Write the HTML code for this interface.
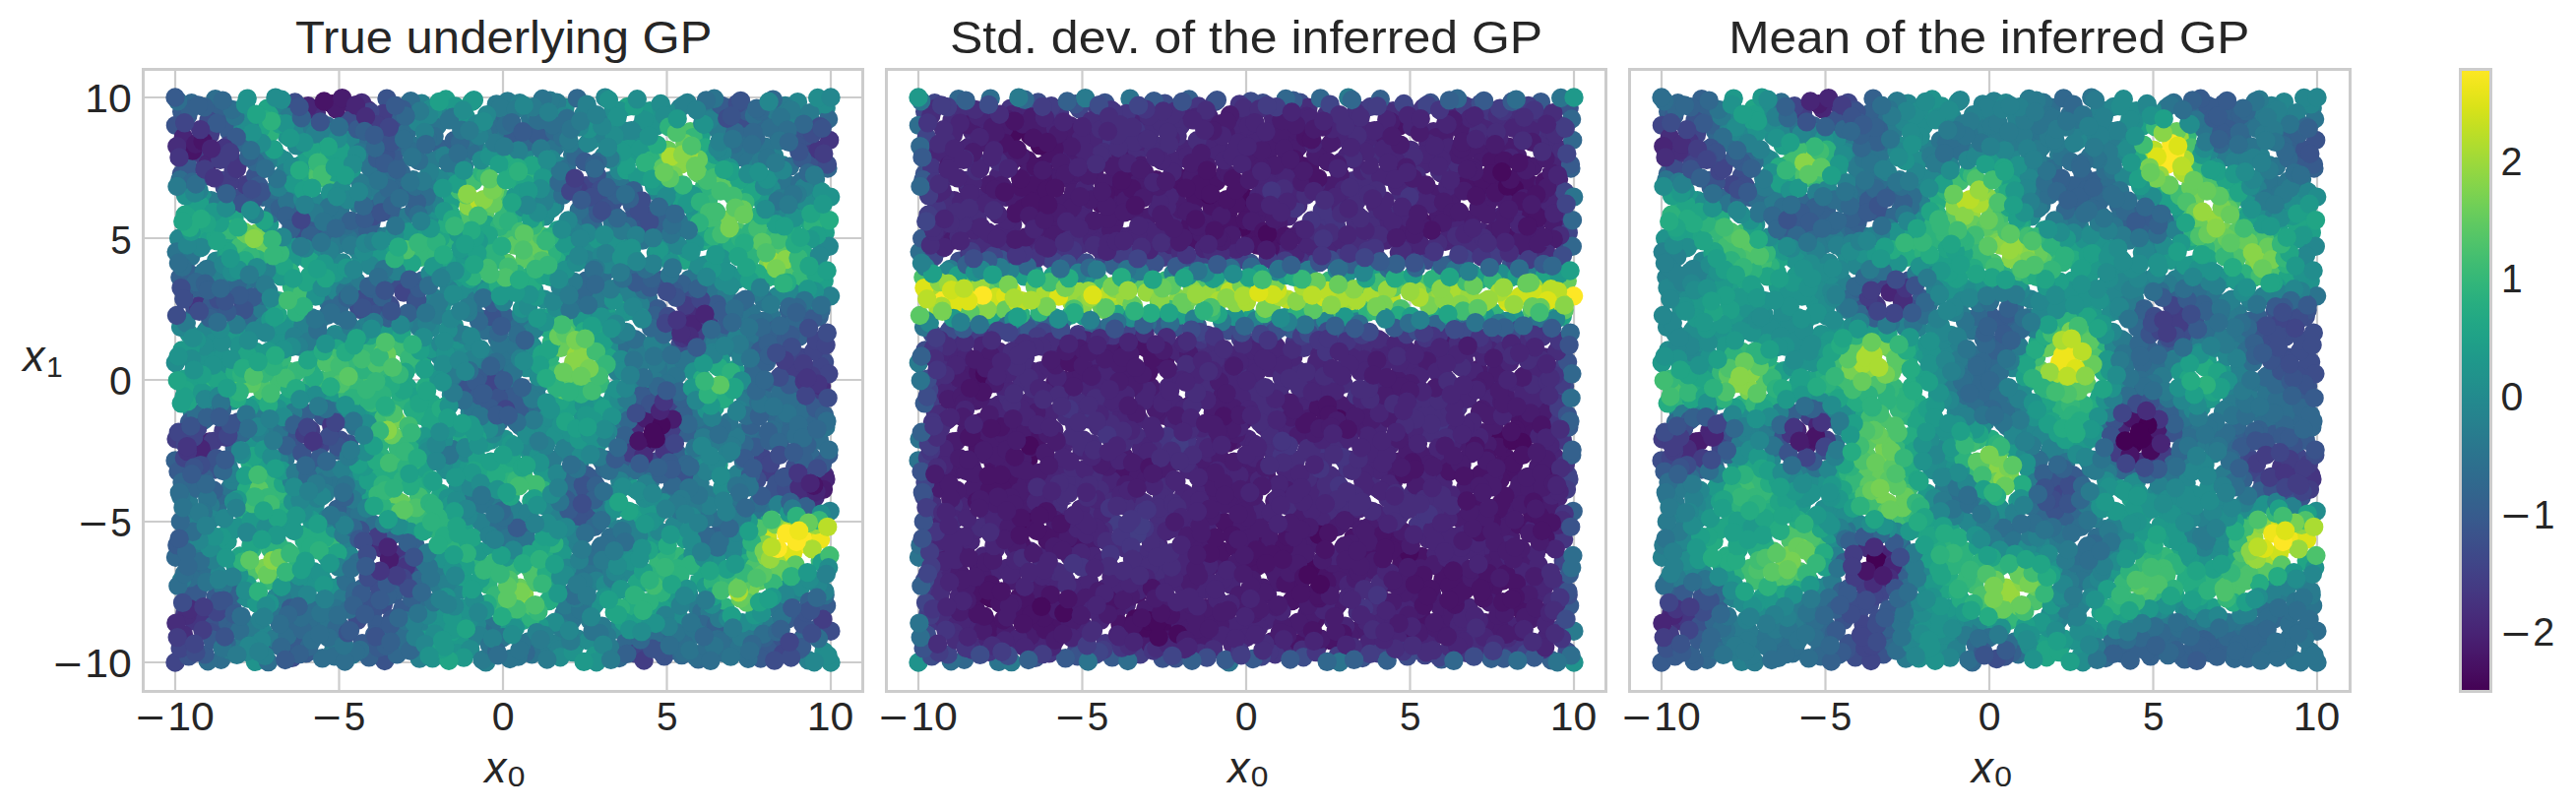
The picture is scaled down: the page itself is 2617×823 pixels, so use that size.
<!DOCTYPE html>
<html><head><meta charset="utf-8"><title>GP inference</title>
<style>html,body{margin:0;padding:0;background:#fff}svg{display:block}text{font-family:"Liberation Sans",sans-serif;fill:#262626}.d{fill:none;stroke-width:19.4;stroke-linecap:round}.g{stroke:#ccc;stroke-width:2.2}.s{fill:none;stroke:#ccc;stroke-width:3}</style></head><body>
<svg width="2617" height="823" viewBox="0 0 2617 823">
<rect width="2617" height="823" fill="#fff"/>
<defs><linearGradient id="cb" x1="0" y1="0" x2="0" y2="1"><stop offset="0.0000" stop-color="#fde725"/><stop offset="0.0312" stop-color="#ece51b"/><stop offset="0.0625" stop-color="#d8e219"/><stop offset="0.0938" stop-color="#c2df23"/><stop offset="0.1250" stop-color="#addc30"/><stop offset="0.1562" stop-color="#98d83e"/><stop offset="0.1875" stop-color="#84d44b"/><stop offset="0.2188" stop-color="#70cf57"/><stop offset="0.2500" stop-color="#5ec962"/><stop offset="0.2812" stop-color="#4ec36b"/><stop offset="0.3125" stop-color="#3fbc73"/><stop offset="0.3438" stop-color="#32b67a"/><stop offset="0.3750" stop-color="#28ae80"/><stop offset="0.4062" stop-color="#22a785"/><stop offset="0.4375" stop-color="#1fa088"/><stop offset="0.4688" stop-color="#1f988b"/><stop offset="0.5000" stop-color="#21918c"/><stop offset="0.5312" stop-color="#23898e"/><stop offset="0.5625" stop-color="#26828e"/><stop offset="0.5938" stop-color="#297a8e"/><stop offset="0.6250" stop-color="#2c728e"/><stop offset="0.6562" stop-color="#2f6b8e"/><stop offset="0.6875" stop-color="#33638d"/><stop offset="0.7188" stop-color="#375b8d"/><stop offset="0.7500" stop-color="#3b528b"/><stop offset="0.7812" stop-color="#3e4989"/><stop offset="0.8125" stop-color="#424086"/><stop offset="0.8438" stop-color="#453781"/><stop offset="0.8750" stop-color="#472d7b"/><stop offset="0.9062" stop-color="#482374"/><stop offset="0.9375" stop-color="#48186a"/><stop offset="0.9688" stop-color="#470d60"/><stop offset="1.0000" stop-color="#440154"/></linearGradient></defs>
<g>
<path class="g" d="M178.0 70.5V702.5M344.5 70.5V702.5M511.0 70.5V702.5M677.5 70.5V702.5M844.0 70.5V702.5M145.5 673.0H876.5M145.5 530.0H876.5M145.5 386.0H876.5M145.5 242.0H876.5M145.5 99.0H876.5"/>
<g class="d">
<path stroke="#35b779" d="M609.9 390.3h0M563.3 376.3h0M689.3 565.4h0M796.5 585.2h0M662.7 160.4h0M668.8 572.4h0M374.3 353.1h0M336.7 551.3h0M414.9 260.6h0M300.9 312.2h0M512.6 213.3h0M421.4 525.6h0M494.7 590.5h0M432.4 523.7h0M739.1 380.6h0M269.6 404.2h0"/>
<path stroke="#cde11d" d="M792.3 564h0"/>
<path stroke="#21a585" d="M270.6 230.6h0M705.2 575.3h0M702.9 197.1h0M467.6 548.8h0M376.2 490.7h0M238.3 247.3h0M271.6 110.2h0M637.5 108.4h0M243.9 565h0M755.3 566.1h0M777.1 525.7h0M468.1 441.4h0M428.9 482.2h0M769.8 618.1h0M259.8 411.3h0M495.6 475.8h0M232 376.5h0M753.2 189.4h0M697.3 571.4h0M695.6 264.5h0M377.6 503h0M804.7 232.5h0M429 363.9h0M710.9 588.6h0M711.7 402.7h0"/>
<path stroke="#24878e" d="M657.3 385.8h0M626.4 639.4h0M466.6 599.3h0M568.5 168.7h0M439.3 177.3h0M614.8 99.1h0M756.5 385.3h0M656.1 359.1h0M196.7 254.1h0M791.2 216.5h0M549 388.9h0M788.2 613.9h0M336.9 261.2h0M444.6 445.6h0M625.9 140.4h0M637.3 484.7h0M482.6 526.4h0M456.7 581h0M688.3 380h0M359.5 485.9h0M810.4 103.7h0"/>
<path stroke="#2db27d" d="M771.7 225.6h0M748.8 185.3h0M510.4 576.7h0M316.7 388.8h0M429.1 417.7h0M265 374.4h0M399.9 345.3h0M326.3 163.1h0M779.2 282.4h0M291.7 559.9h0M495.8 594.3h0M722.8 165.8h0"/>
<path stroke="#dde318" d="M829.7 544h0"/>
<path stroke="#1fa088" d="M656.8 622.6h0M544.5 358.2h0M617.2 319.8h0M376.6 423.8h0M453 101h0M620.6 408.8h0M656.4 591.9h0M656.6 115h0M730.5 251.6h0M403.9 336.7h0M314.6 359.7h0M420.2 369h0"/>
<path stroke="#3a538b" d="M364.1 310.6h0M597.4 521.8h0M647.9 413.3h0M493.9 410.8h0M317.8 471.1h0M641.6 473.1h0M390.8 671.5h0M218.4 477h0M807.2 624.3h0M609.1 202.3h0M354.6 450.9h0M785.7 657.2h0M674.8 666.8h0M818.7 326.7h0M828.4 164.9h0M299.3 234.6h0"/>
<path stroke="#26818e" d="M629 291.4h0M691 109.5h0M493.6 672.9h0M454 358.7h0M667.9 195.7h0M786.4 158.3h0M371.9 198.7h0M613.5 158.6h0M560.4 634.9h0M564.4 524.8h0M554.7 465.6h0M685.5 242.9h0M781.9 215h0M735.8 288.2h0M626.6 298.2h0M493.3 533.4h0M808.5 209.7h0M483.2 646.6h0M287.3 114.4h0M352.4 558.3h0M821 670.7h0M795 167.6h0M257.1 643.1h0M198.4 523.2h0M442 303.1h0M562.6 526.9h0M244.3 332.2h0M559.5 658.4h0M418.9 547.1h0M428.4 105.2h0"/>
<path stroke="#228d8d" d="M326.5 530.2h0M318 259.2h0M470.4 352.9h0M720.5 449.1h0M703.9 563h0M320.2 513h0M553.1 304.2h0M616.9 305.7h0M534.9 373.6h0M740.7 277.9h0M689 626.4h0M574 109.2h0M713.3 466.1h0M178.3 368.7h0M452.7 477.5h0M722.5 506.9h0M787 179.5h0M251.7 608h0M622.5 114.3h0M617 526.6h0M667.5 551.1h0M437.7 110.4h0M550.6 437.1h0M233.4 538.6h0M463.3 287.7h0"/>
<path stroke="#297b8e" d="M708.5 617.3h0M299.5 602.9h0M727.2 448.7h0M610.1 307.9h0M210.6 334.6h0M575.8 288.8h0M192.1 511.4h0M232.2 474.5h0M759.6 410h0M338.5 661.7h0M536.9 651.9h0M724.1 115.3h0M565.7 104.1h0M608.1 123.4h0M410.9 220.6h0M445.5 189.2h0M744.1 517.8h0M757.2 403.3h0M280.7 436.4h0M368.8 524.6h0M671.5 363.7h0M650.1 370.7h0M408.5 278h0M607.9 579h0M587.4 152.6h0"/>
<path stroke="#433d84" d="M332.8 445.8h0M205.1 461h0M179.1 446.1h0M212.4 462.8h0M188.9 297.2h0M315.8 437h0M797.4 484.5h0M817.7 149.8h0"/>
<path stroke="#2e6e8e" d="M332.8 320.2h0M700.3 418.7h0M415.6 104.9h0M735.1 534.5h0M542.6 412h0M422.7 325.8h0M218.8 100.6h0M729.4 527.8h0M521 325.6h0M218.9 593.3h0M369.2 148.1h0M746.1 654.4h0M355.9 518.4h0M339.1 494.3h0M764.8 375.2h0M347.8 238.1h0M224.6 670.2h0M765.9 443.7h0M221.2 514h0M466.9 390.9h0M724.8 437.5h0M712.9 621.6h0M708.3 430.3h0M718.8 348.2h0M423 558.8h0"/>
<path stroke="#453581" d="M406.5 563.5h0M241.6 166.5h0M196.2 630.7h0"/>
<path stroke="#77d153" d="M261.3 236.7h0M580.6 374.2h0"/>
<path stroke="#3d4d8a" d="M243.4 200.6h0M296.8 668.4h0M247.1 310.7h0M380.6 304.6h0M837.6 367.8h0M690.7 350.9h0M215.7 129.8h0M197.9 313.6h0"/>
<path stroke="#fde725" d="M817.9 552.9h0"/>
<path stroke="#4cc26c" d="M538.4 577.8h0M597.7 392.4h0M806.9 574.4h0M797 275.5h0"/>
<path stroke="#40bd72" d="M725.8 180.5h0M293.1 377.1h0M480.9 184.2h0M314.2 179.9h0M577.7 332h0M260.2 492.5h0M405.3 460.7h0"/>
<path stroke="#5ac864" d="M412.7 443.8h0M388.9 358.4h0"/>
<path stroke="#20938c" d="M693.7 541.1h0M736.2 485.5h0M498.9 447.2h0M321.7 591.8h0M291 245.8h0M748.7 284.2h0M292.9 247.6h0M272.3 532.9h0M625.5 516.8h0M222.6 355.4h0M635.2 147.6h0M291.5 137.9h0M625.3 125.5h0M469.1 473.4h0M435 379.2h0M228.9 369.3h0M538.8 460.8h0M285.5 417.2h0M538.2 201.1h0M443.8 565.9h0M629.5 112.4h0M280.8 346.7h0M512.8 446.2h0M263.8 541.6h0M259.1 533.7h0M258.2 450.6h0M662.8 546.5h0"/>
<path stroke="#375b8d" d="M800.8 628.7h0M373.8 617.4h0M779.5 659.3h0M839.6 615.4h0M786.4 347h0M400.4 603.9h0M292.7 221.5h0M232.6 133.4h0M337.2 235.1h0M553.7 137.5h0M825.9 613.4h0M310.9 663.9h0"/>
<path stroke="#2b748e" d="M509.3 142.2h0M505.6 541.5h0M631.5 431.5h0M276.8 619.8h0M633.2 186.2h0M385.9 240.5h0M288.5 611h0M352.6 135.1h0M293.3 459.4h0M333.8 307.3h0M619.3 183.8h0M513 368.9h0M711.3 355.6h0M589.4 217.7h0M648.4 347.1h0M638.4 275.1h0M738.5 640.4h0M444 128h0M763.4 318.1h0M249.9 286h0M537.5 330.4h0M652.8 244.1h0M602.7 583.6h0M609.4 557.7h0M459.1 456.4h0M720.1 556.5h0M750.7 658.5h0M716.2 527.1h0M761 153.5h0M589.9 579.9h0M345.5 213.4h0M777.4 149.2h0M378.2 175.9h0M650.3 388.6h0M741.9 511.1h0M747.8 153.2h0M514.6 349.8h0M538.6 119.9h0"/>
<path stroke="#25ac82" d="M516.2 479.2h0M686.2 579.5h0M252.2 500h0M517.9 176.7h0M291.3 514.8h0M696.7 194.7h0M743.7 248.7h0M380.8 402.6h0M566.5 262.4h0M754.7 256.3h0M430.1 494.6h0M427.4 422.2h0M385.2 479h0M758.1 558.9h0"/>
<path stroke="#404588" d="M814.1 363h0M326.1 452.1h0M178 673h0M231.2 148h0M833.5 372.2h0M666.4 468.9h0"/>
<path stroke="#34618d" d="M405.1 120h0M564.8 147.9h0M421.8 553.8h0M201.2 599.6h0M374.9 667.8h0M533.7 542.6h0M235.8 617h0M281.5 655.3h0M511.8 320.6h0M527.1 343.2h0M448.8 151.4h0M308.7 652.6h0M736.7 109h0M314.8 477.8h0M770.5 339.8h0M429.3 284.9h0M303.4 427.2h0M832.2 321.7h0M382.9 211.3h0M719.4 301.8h0M502.1 310.3h0"/>
<path stroke="#67cc5c" d="M403.8 508.9h0"/>
<path stroke="#aadc32" d="M588.8 371.5h0"/>
<path stroke="#1f998a" d="M464.7 287.3h0M239.1 575h0M638.5 143.1h0M367.8 480.8h0M227.9 552.2h0M294.6 328.9h0M365.6 418.5h0M512.4 633.2h0M349.1 181h0M476.6 473.8h0M312.5 263.3h0M660.2 112.6h0M705.8 222.2h0M549.8 322.8h0M338.3 284.7h0M305.4 167.9h0M267.3 142.7h0M313.8 158.1h0M273.7 227.9h0M619.1 417.4h0M682.9 612.5h0"/>
<path stroke="#472d7b" d="M827.9 505.5h0M712.3 327.6h0M837.8 482.8h0M212.9 621.2h0M644.9 434.4h0M703.5 312.8h0"/>
<path stroke="#31688e" d="M692.6 665.6h0M778.1 445.5h0M788.6 424.7h0M420.7 213h0M633 659.9h0M510.6 120.9h0M224.1 502.8h0M403.3 664.9h0M615.9 467.2h0M245.8 440.2h0M670 342.3h0M834.1 315.1h0M411.1 625.8h0M347.1 648.9h0M774.9 124.1h0M767.7 140.5h0M817.6 319.3h0M814.1 416.8h0M330.1 241.4h0M332 127.7h0"/>
<path stroke="#482576" d="M212.7 448.9h0M359.9 109.4h0"/>
<path stroke="#34618d" d="M518.5 529.8h0M695.5 433.1h0M673.3 232.3h0M690.8 486h0M801.4 315.7h0M523.9 396.6h0M404.1 168.3h0M688.4 461.4h0M178.1 467.9h0M182.9 281.8h0M697.7 439.9h0M399.5 286.5h0M205.5 299.6h0M222.4 114.1h0M396.4 215.1h0M342.7 517.2h0"/>
<path stroke="#24878e" d="M629.1 173.5h0M825 202.5h0M505.5 156.3h0M436.5 169.8h0M768.2 637.1h0M533.6 155.3h0M581.8 540.9h0M348.3 267h0M220.1 582.1h0M362.3 497.8h0M494.1 493.3h0M529.5 318.6h0M697.6 373.7h0M839.2 109.8h0M438.7 332.8h0M440.1 356.4h0M355.7 141.9h0M572.7 118.3h0M552.6 157.7h0M699.5 603.4h0M622.6 355h0"/>
<path stroke="#482576" d="M689.6 331.8h0M838.9 486.9h0"/>
<path stroke="#297b8e" d="M343.6 248.2h0M432.3 314.1h0M425.5 332.5h0M599.1 629.8h0M316.3 322.6h0M551.4 656.5h0M714.5 444.6h0M616.2 567.2h0M608.6 302.9h0M515.7 102.9h0M672.9 354.3h0M563.7 208.9h0M757.1 644.6h0M381.7 190.1h0M214.4 203.6h0M512 554.1h0M393.3 239.8h0M679.8 371.8h0M506.7 508h0M726.4 347.8h0M721 620.9h0M642.5 549h0M706.3 538.3h0M502.5 650.8h0M247.3 651.2h0M658.1 644h0M218.1 413.7h0M329.4 480h0M782.1 635.9h0M347.7 593.5h0"/>
<path stroke="#21a585" d="M238 221.8h0M635.6 312.1h0M475.8 550.3h0M477.1 573.9h0M526 290.6h0M438.8 410.1h0M320.1 557h0M311.9 542.2h0M670.9 184.5h0M375.7 340.8h0M683.9 590.7h0M624.2 622.1h0M447.8 501.2h0M826.2 272.3h0M414 393.3h0M200.4 237.5h0M822.4 226.2h0"/>
<path stroke="#1f998a" d="M302.1 255h0M678.9 260.4h0M288.9 530.8h0M654.4 179.4h0M557.5 490.3h0M466.1 263.8h0M385.7 269.4h0M433 637.3h0M803.2 291.7h0M754.1 553.7h0M281.4 158.7h0M467.3 652.5h0M299.3 261.7h0M551 476.9h0M651.3 528.1h0M441.3 559.6h0M717.2 595.8h0M390.1 334.9h0M492.2 450.1h0M260.1 357.5h0M606.6 411.2h0M278.8 528.8h0M565.9 597.9h0M466.2 484.6h0"/>
<path stroke="#4cc26c" d="M357.5 379.9h0M257.5 579.7h0M269.9 507.8h0M766.5 576.1h0M472.2 221.5h0M701.3 133.7h0M750.1 235.7h0M421.1 256.5h0"/>
<path stroke="#2b748e" d="M753.6 320.8h0M540.4 664.7h0M761.2 342.7h0M286.9 438.5h0M341.8 486.9h0M694.7 366.9h0M256.5 325h0M737.6 143.8h0M679.4 213.6h0M563 150.5h0M499 636.3h0M698.9 364.9h0M311.6 344.6h0M375.1 169h0M529.4 523.1h0M591.7 228.9h0M581.6 157h0M409.8 638.1h0M784.1 322.3h0M708 488.1h0M366.2 154.8h0M289.9 466.6h0M480.4 501.7h0M577.1 626h0M581.1 630.1h0M668.5 374.9h0M572.8 623.9h0M323.9 326.5h0M602.8 230.5h0M483 149.9h0"/>
<path stroke="#67cc5c" d="M264.1 252.6h0"/>
<path stroke="#375b8d" d="M492.1 381.7h0M624.4 219h0M599.3 207.7h0M633.5 473.5h0M300.5 653.3h0M400.4 155.5h0M490.7 324.5h0M388.4 642.3h0M501.8 374.7h0M368 653.7h0M667.8 654.9h0M229.2 126.8h0M642.3 208.2h0M194 601.5h0M674.5 289.7h0M408.7 619.1h0M243.7 141.8h0M805.3 140h0M383.5 161.4h0"/>
<path stroke="#efe51c" d="M833.6 548.1h0"/>
<path stroke="#25ac82" d="M661.2 177h0M401.4 483.7h0M561.5 567h0M448.6 555.7h0M496.4 266.2h0M309 548.9h0M307.6 564.1h0M313.6 544.3h0M418.4 242.2h0M644 599.4h0M576 404.9h0M402.5 485.3h0M253.8 469.7h0M714.2 211.2h0M798.1 237h0M330.2 546.4h0"/>
<path stroke="#460a5d" d="M669.6 443.3h0"/>
<path stroke="#228d8d" d="M344.7 568.9h0M221.3 560.8h0M473.6 298.5h0M288.7 162.6h0M600.9 142.5h0M553.9 219.8h0M285 160.8h0M464.8 497h0M327.9 589.7h0M450.4 470.7h0M765.4 631.1h0M324.1 138.5h0M324.7 403.9h0M638.7 564h0M470.5 489.1h0M442.8 218.8h0M640.6 250.4h0M597.2 315h0M725.2 477.3h0M262.9 421.4h0M558.1 437.8h0M340.4 339.6h0M620.2 348.9h0M214.7 556.3h0"/>
<path stroke="#26818e" d="M454.1 115.1h0M307.8 330.8h0M705.1 459h0M272.9 296h0M811.2 602.5h0M272.1 164.7h0M477.3 419.4h0M843.2 519.4h0M750.7 416h0M572.4 459.3h0M628.3 537.8h0M304.9 337.5h0M643.3 390.7h0M335.1 134.8h0M609.5 135.7h0M263.9 440.5h0M408.6 231.8h0M677 637.7h0M565.2 653.5h0M489.1 531h0M723.9 358.3h0M195.2 418.5h0"/>
<path stroke="#98d83e" d="M795.1 534.8h0M781.9 259h0"/>
<path stroke="#433d84" d="M249.8 187.6h0M216.5 448.4h0M679 447h0M187.8 623.6h0M815.1 501.6h0M800.2 372.8h0M781.3 479.7h0M824.8 399.5h0"/>
<path stroke="#3d4d8a" d="M813.9 478h0M398.8 132h0M657 218.4h0M212 122.4h0M345.3 446.9h0M807.7 474h0M389.4 614.3h0M299.7 104h0M396.6 311.1h0M836.2 344.3h0M424.3 582.3h0M228.1 190.1h0M755.4 127.1h0"/>
<path stroke="#404588" d="M774.7 464.8h0M195.3 660.9h0M508.6 397.5h0M684.3 411.6h0"/>
<path stroke="#77d153" d="M736.9 229.6h0M739.8 222.9h0"/>
<path stroke="#2e6e8e" d="M824.1 123.4h0M493.1 335.7h0M413.5 654.3h0M575.6 171.4h0M696.9 651.5h0M658.4 303.3h0M441.1 138.6h0M346.3 321.3h0M339.6 666.7h0M204.9 577.9h0M477.9 154h0M647 477.7h0M263.1 285.1h0M427.5 612h0M775.6 403.6h0M417.3 102.6h0M327.5 668.8h0M796.9 427.4h0M413.4 134.1h0M523.2 141.3h0M365.7 660.4h0M406.2 640.2h0M491.4 643.7h0M519.7 385h0M377 531.3h0M775.8 326.2h0M619.9 546h0M236.8 291h0M681 500.3h0"/>
<path stroke="#20938c" d="M624.6 245.6h0M289.1 333.8h0M578.9 547.6h0M701.7 209.4h0M672.3 110.8h0M202.9 251.8h0M366.4 341.2h0M205.8 201.2h0M250.2 343.8h0M277.4 469.4h0M733.3 262.8h0M716.7 269.2h0M666.9 127.8h0M200.8 366.8h0M271.8 335.9h0M236.6 407.1h0M439.4 668.8h0M358.4 338.4h0M192.3 339.3h0M323.6 294.4h0M521.6 458.7h0M583.9 656h0M623.4 402.1h0M830.3 266.3h0M574.4 230.7h0M457.6 620.8h0M605.2 425.8h0M658 123.8h0M465 345h0"/>
<path stroke="#5ac864" d="M772 590h0M670 153.8h0"/>
<path stroke="#3a538b" d="M704.6 297.6h0M715.6 306.2h0M242.2 428.6h0M640.9 223.2h0M820.8 408.6h0M184.4 176.8h0M816.9 646.4h0M474.9 394.7h0M391.8 157.3h0M381.2 319.2h0M318.6 121.5h0M379 621.5h0M259.6 178.4h0"/>
<path stroke="#453581" d="M203.1 628.3h0M693.3 343.5h0"/>
<path stroke="#1fa088" d="M761.9 184.5h0M470.2 585.8h0M838.3 236.4h0M453.6 265.6h0M612.9 415h0M481.2 596.7h0M712.3 137.3h0M289.3 408.9h0M215.1 389.1h0M201.6 391.4h0M567.7 418.9h0M641 627.4h0M819.6 219.5h0M580.9 253.6h0M695.9 547.8h0M423.8 403.2h0M837.2 285.5h0M726.2 413.9h0M242.5 486.2h0M374.1 488.3h0M212.6 244.2h0M458.9 642.1h0"/>
<path stroke="#40bd72" d="M665.5 149.2h0M515.5 242.4h0M728.8 191.7h0M239.6 395.9h0M767.9 561.6h0M283.4 388.1h0"/>
<path stroke="#31688e" d="M586.4 99.9h0M197.3 572.8h0M709.4 669.8h0M426.5 589h0M804.5 430h0M677.9 649.1h0M534.1 420.7h0M194.6 104.8h0M390.9 178.8h0M824.4 464.1h0M267 200.4h0M507.6 427.8h0M414.6 146.4h0M535.7 144.1h0M548.3 129.6h0M714 634.4h0M360.4 236.3h0M629.2 668.5h0M820.5 125.8h0M826.4 425.3h0M199.8 496.2h0M595.3 285.3h0"/>
<path stroke="#35b779" d="M719.6 203.3h0M814.3 280.7h0M646.5 606.4h0M360.8 367.1h0M507.2 615.3h0M704.1 139.7h0M602.2 350.2h0M386.5 383.1h0"/>
<path stroke="#2db27d" d="M826 228.3h0M724.3 591.3h0M436.4 537.1h0M736.8 616.9h0M394.7 389.1h0M285.2 501.8h0M484 567.6h0M552.2 498.1h0M558.8 362.7h0M736.5 584.9h0M676.7 561.9h0M302.8 574.2h0M295.2 276.8h0M489.9 175.6h0M728 371.3h0M304.7 287.5h0M274.3 135.5h0"/>
<path stroke="#89d548" d="M532.6 603.8h0"/>
<path stroke="#cde11d" d="M779.8 546.7h0"/>
<path stroke="#4cc26c" d="M266.7 397.4h0M265.2 392.3h0M247.3 392h0"/>
<path stroke="#433d84" d="M640.4 456.2h0M213.4 136.9h0M200 155.2h0M706.5 340.6h0"/>
<path stroke="#24878e" d="M744.3 561.3h0M500.7 440.9h0M208.9 337.2h0M348.7 346h0M806.2 298.4h0M339.2 342.5h0M520.9 515.5h0M342.3 296.3h0M478.3 495.1h0M219.5 265.1h0M629.7 586h0M826.8 590.4h0M452.1 180.1h0M835.6 253h0M469.3 373h0M266.8 641.6h0M446.4 361.5h0M355.4 200.8h0M539.2 455.9h0M455.9 179.7h0M480.2 348.6h0M583.7 264.8h0M181.7 242.3h0M458.4 401.3h0M472.9 460h0M484.4 634.2h0"/>
<path stroke="#472d7b" d="M367.5 104.4h0M321.5 114.8h0M702.5 316.7h0M398.6 571h0"/>
<path stroke="#40bd72" d="M331.4 182h0M738.2 398.5h0M425.6 504.7h0M409.5 353.7h0M509 200h0M244.5 249.7h0M390 424.5h0M547 580.4h0M519.3 246.5h0M723.2 226.9h0"/>
<path stroke="#375b8d" d="M767 454.1h0M219.3 606.3h0M732.6 107.2h0M384.7 658.1h0M794.7 508.7h0M255.7 308.3h0M545.5 137.1h0M181 479.1h0M200.2 603.6h0M407.1 290.4h0M806.1 395.3h0M191.7 170.3h0M220.3 125.3h0M668.2 313.7h0M520.6 402.9h0M192.4 429h0M527.3 418.4h0M758.9 113.2h0M362.5 541.2h0M370.2 573.6h0M526.1 407.8h0M184.7 113.6h0"/>
<path stroke="#481467" d="M195.7 153.1h0"/>
<path stroke="#77d153" d="M780.5 267.9h0M762.2 597h0M268.6 577.1h0M484.6 212.2h0M402.2 426.4h0M787.7 532.7h0"/>
<path stroke="#1fa088" d="M730 472.4h0M350.2 164.2h0M713.2 245.2h0M690.4 201h0M375.5 509.6h0M203.2 208.4h0M214 400.7h0M724.7 265.5h0M345.9 152.3h0M636.6 172.8h0M338.7 153.9h0M643 521.2h0M473 574.6h0M746.7 375.5h0M479 602.4h0M264.9 471.3h0M458.7 204.3h0M428.1 234.7h0M686.1 122.6h0M479.3 103.5h0M196.4 210.8h0M471.4 537.6h0"/>
<path stroke="#67cc5c" d="M569.9 353.4h0M528.1 597.3h0M408 511.2h0M539 251.2h0"/>
<path stroke="#89d548" d="M778.8 565.8h0M692.4 166.7h0"/>
<path stroke="#20938c" d="M704.9 377.6h0M416.8 540.5h0M708.2 276.2h0M340 537.1h0M542.8 294.8h0M337.3 602.4h0M449.3 309.3h0M407.8 536.8h0M209.3 358.1h0M464.5 663.7h0M750.5 282.1h0M649.5 635.6h0M461.4 330.8h0M530.4 313.5h0M727.6 568.4h0M455.1 506.2h0M315 592.4h0M285 348.8h0M259.4 672.3h0M547.2 462.9h0M564.1 442.4h0M444.3 212.7h0"/>
<path stroke="#3d4d8a" d="M749.2 105.1h0M372.4 297.7h0M690 299.9h0M303.2 230h0M353.8 122.7h0M769 487.3h0M403.5 288h0M691.7 428.2h0M387.6 136.7h0"/>
<path stroke="#460a5d" d="M337.5 105.7h0"/>
<path stroke="#2db27d" d="M389 492.5h0M301.2 317.3h0M542.3 179.1h0M296.4 291.3h0M371.5 377.8h0M766.7 220.7h0M457.9 557.5h0M517.3 489.7h0M560.2 348.1h0M488.4 270.1h0M407 407.5h0M383.3 444.8h0M212.3 382.7h0M235.6 233h0M420.9 446.4h0M409.3 487.7h0M688 577.7h0M283.4 370.2h0M715.4 189.9h0M557.1 610.6h0M280.6 266.5h0M701.5 573.8h0"/>
<path stroke="#2b748e" d="M686.4 382.4h0M343.4 220.9h0M354.4 243h0M179.2 256h0M658.8 326.4h0M529.7 551.4h0M799.3 186.6h0M751.8 439.6h0M764.6 393.2h0M233.8 495.7h0M710.2 424h0M598.2 572h0M365.2 522.5h0M722.3 295h0M751.2 159.5h0M775.9 515.1h0M537.9 398.7h0M776.9 307h0M706 455h0"/>
<path stroke="#fde725" d="M815 546.1h0"/>
<path stroke="#481c6e" d="M341.5 110.6h0M836.4 497.4h0M673 429.4h0"/>
<path stroke="#26818e" d="M806.7 118.6h0M639.4 298.6h0M818.5 305h0M797.7 107.5h0M246.5 131h0M630.4 232.8h0M206.2 563.3h0M298.9 341.9h0M627 377.3h0M698.3 104.5h0M740.4 487.6h0M539.7 337.1h0M441.5 206.4h0M568.1 660.2h0M632.9 419.2h0M430.7 631h0M570.1 488.5h0M471.8 340.5h0M843.6 300.8h0M523 518.2h0M433.7 328.7h0M605.7 590.2h0M372.7 329.6h0M587.2 554.5h0M236.3 488.3h0"/>
<path stroke="#31688e" d="M841.6 121h0M635.4 653.2h0M585 159.4h0M185 489.9h0M246.1 630h0M779 415.1h0M534 663.1h0M321.1 641.7h0M697.4 471.8h0M563.4 133.3h0M428.6 596.9h0M756 451.4h0M840.9 171h0M234.6 598.1h0M293.8 639.2h0M255.4 321.2h0M399.4 187.5h0M800.7 441.3h0M600.4 223.7h0M638.3 427h0M395.1 649.5h0"/>
<path stroke="#404588" d="M826.6 356.9h0M500.2 389.9h0M187.4 465.2h0M226 183.4h0M778.4 468.5h0M793.9 381.4h0"/>
<path stroke="#297b8e" d="M738 299.4h0M189.1 518.1h0M361.9 285.9h0M711.1 490.8h0M447.5 160.5h0M254.7 637.1h0M504.3 105.9h0M740.3 353.5h0M313.4 347.3h0M444.8 320h0M198.6 551.5h0M446 595.1h0M763.5 523.9h0M571.6 638.5h0M719 502.4h0M609.7 512.6h0M578.8 145.8h0M789.3 115h0M483.4 305.5h0M279.1 648.6h0M545 400.8h0M356.1 331.6h0M828.5 182h0M438.3 163.2h0M537.6 520.3h0M747.6 443.9h0M365.8 185.7h0M503.6 434.1h0M213.6 513.3h0M348.9 543h0M483.8 369.9h0"/>
<path stroke="#3a538b" d="M366 538.8h0M786.2 498.9h0M794 456.5h0M216.9 635.4h0M623.1 204.4h0M376.8 610.3h0M393 100.2h0M587.6 529h0M499.7 321.6h0M211.3 178.9h0M328.3 423h0M788.9 491.5h0M670.4 284.6h0M506.4 404.3h0"/>
<path stroke="#228d8d" d="M245.1 120.6h0M568.3 538.1h0M569.2 667.7h0M683.7 115.8h0M248.3 605.3h0M343.2 140.9h0M476.1 631.5h0M439.5 112.7h0M600.4 249.9h0M217.3 347.6h0M652.3 136.2h0M489.8 293.6h0M733.6 496h0M838 105.8h0M536.6 311.4h0M715.1 566.6h0M844 673h0M604.8 613.2h0M685.9 619.2h0M541 351.6h0M615 594h0M783.3 191.5h0M463.1 172.5h0M362.6 157.2h0"/>
<path stroke="#453581" d="M842.7 142.4h0M831.7 152.1h0M217.4 157.8h0"/>
<path stroke="#5ac864" d="M492.5 217.3h0"/>
<path stroke="#482576" d="M204.2 456h0M657.3 452h0"/>
<path stroke="#1f998a" d="M645.2 496.6h0M698.1 207h0M775.4 206.6h0M231.1 549.9h0M458.1 512.9h0M665.6 553.2h0M704.3 198.6h0M681.4 607.6h0M523.6 199h0M438 354.5h0M647.7 179.7h0M285.4 280.9h0M645.6 156.2h0M486.9 560.2h0M331.9 565.4h0M442.2 385.5h0M307 399.1h0M357.5 171.7h0M591.5 325.2h0M494.1 296h0M770.8 290h0M732.3 366.4h0M564.5 316.9h0M545.1 301.5h0"/>
<path stroke="#25ac82" d="M713.5 384.8h0M419.4 416.2h0M716.4 150h0M238.7 378h0M405.7 398.4h0M522.3 220.2h0M417.8 479.5h0M417.2 493.8h0M501.7 471.7h0M832.7 214.4h0M720.7 244.5h0M736 405.3h0"/>
<path stroke="#2e6e8e" d="M790.3 136.3h0M318.2 635.7h0M631.2 480.2h0M207 426.9h0M838.2 604.6h0M759.3 356.2h0M193.3 586.7h0M211.2 671.7h0M613.1 278.7h0M588.3 213.7h0M812.3 419.5h0M782.3 130.3h0M199.4 420.6h0M506.8 535.2h0M292 645.8h0M617.6 552.7h0M707.2 667.7h0M637.5 351.9h0M832.3 447.3h0M392.1 180.4h0M823.4 449.9h0M434.1 140.7h0"/>
<path stroke="#35b779" d="M404.4 455.5h0M271.3 486.5h0M302.4 376.7h0M411.2 453.4h0M280.9 499.7h0M434.6 248.6h0M428 261.4h0M377.9 409.3h0M488.7 226.1h0M397.8 520.8h0M286.4 363.4h0M364.2 391.8h0M493.5 178h0M325.2 386h0M384 502.6h0"/>
<path stroke="#21a585" d="M550.8 359.8h0M606.7 336.1h0M328.5 271h0M519.5 465h0M410 396.3h0M287.7 491.3h0M191.1 407.7h0M310.7 186.7h0M288.2 270.4h0M539.8 509.1h0M219.1 240.2h0M273.3 116.5h0"/>
<path stroke="#aadc32" d="M802.7 537.5h0"/>
<path stroke="#34618d" d="M694.1 420.8h0M214.9 322.9h0M612.3 469.3h0M787.5 335h0M414.4 551.7h0M394.5 323h0M207.7 108.8h0M377 226.4h0M207.3 485.7h0M373.6 233.5h0M191.3 290.5h0M626.3 198.1h0M782.9 388.4h0M818 646h0M762.9 432.4h0M231.5 632.4h0M727.3 635.1h0M345.7 636.6h0M377.8 293.4h0"/>
<path stroke="#40bd72" d="M402.7 351.3h0M306.8 298.7h0M544.3 492.1h0M579.4 392.2h0M531.9 484h0M833.2 569.8h0M765.7 254.8h0M334 386.4h0"/>
<path stroke="#2b748e" d="M392.5 279.9h0M332.3 212.3h0M725.6 100.3h0M838.8 434h0M767.3 517.5h0M741.7 338.9h0M700.5 283.7h0M760.2 163.6h0M231.6 209.1h0M687.2 642.7h0M183.8 504.5h0M740.8 428.6h0M684.7 505.2h0M480.7 417h0M791 620.6h0M535.9 549.3h0M526.4 667.1h0M276.7 216.7h0M517.5 355.8h0M514.4 547.3h0M528.7 432.9h0M327.9 489.6h0M412.2 630.7h0M193.7 260.9h0M421.6 148.5h0"/>
<path stroke="#297b8e" d="M532.9 435.3h0M495.4 360.8h0M366.8 430.9h0M666.6 368.6h0M739.6 455.7h0M357.7 665.4h0M647.2 359.5h0M379.7 327.4h0M796.3 108.1h0M743.8 453.3h0M261.2 425.9h0M730.7 628.5h0M430.5 210.1h0M293.7 119h0M442.7 583.1h0M263.6 156.6h0M558.8 102.3h0M664.9 386.5h0M586.5 308.1h0M616.6 646.3h0M729.6 131.9h0M463.5 337.5h0M221.8 205.4h0M753 647.3h0M622.3 587.8h0M589 469.6h0M233.1 660.3h0M266.4 314.9h0M561.4 467.5h0"/>
<path stroke="#3d4d8a" d="M379.2 219.6h0M798.7 496.8h0M394.9 309h0M235.4 430.7h0M658.6 403.7h0M593.8 505h0"/>
<path stroke="#aadc32" d="M799.8 570h0M825.2 557.9h0"/>
<path stroke="#472d7b" d="M834.5 392.5h0M373.9 111.8h0M821.8 503.4h0M186.5 644.9h0"/>
<path stroke="#98d83e" d="M585.8 360.3h0"/>
<path stroke="#482576" d="M313.1 107.8h0M703.6 329.4h0M381.5 552.1h0"/>
<path stroke="#1fa088" d="M220.5 220h0M431.1 475.5h0M297 173.3h0M726.8 157.4h0M251.4 593.9h0M514.5 160.1h0M477.4 283.2h0M717.1 240.4h0M487.9 588.2h0M485.1 466.3h0M452.3 412.9h0M562.4 319h0M566.8 233.6h0M636.3 167.8h0M284 126h0M584.4 414.2h0M835 571.7h0"/>
<path stroke="#453581" d="M675 457.9h0"/>
<path stroke="#25ac82" d="M396.8 391.2h0M250.4 497.9h0M498.7 259.5h0M506.2 289.4h0M248.2 522.5h0M614.6 361.2h0M542 275.9h0M425 451.3h0M316 555.5h0M527.7 184.8h0M540.6 288.2h0M268.7 121.4h0M593.9 336.4h0M553.9 560.6h0M329.2 361.7h0M730.1 373.1h0"/>
<path stroke="#2e6e8e" d="M814.5 184.1h0M505.4 344.4h0M498.2 128.5h0M745.6 146.5h0M802.5 169.1h0M482.4 319.5h0M433.1 199.6h0M728.7 649.6h0M278.1 214.1h0M601 564.6h0M266.6 300.4h0M573.7 486.1h0M351.9 228.8h0M734.3 663.2h0M272.6 672.6h0M770.3 510.8h0M758.2 422.3h0M293 454.5h0M645 344.7h0M812.8 186.2h0M571.5 139.6h0M770.6 408.2h0"/>
<path stroke="#89d548" d="M275.8 578.9h0M475.9 209.5h0"/>
<path stroke="#dde318" d="M805.5 562.1h0"/>
<path stroke="#77d153" d="M684.1 178.1h0"/>
<path stroke="#404588" d="M413.3 573.1h0M645.7 664h0M595.1 188.6h0M188.3 451.3h0M378.7 581.7h0M200.7 435.1h0"/>
<path stroke="#5ac864" d="M263.2 497h0M734.1 187.4h0M808 574h0M522.4 249.1h0M709.2 176h0M515 267.3h0"/>
<path stroke="#21a585" d="M481.6 478.2h0M659 559.2h0M219.7 384.5h0M534.7 570.6h0M569.2 407.3h0M333.4 149h0M418.3 267.7h0M264.7 130.7h0M557.7 355.3h0M622 610.9h0M828.9 278.6h0M282.1 319.7h0M531.4 630.5h0M494.9 228.5h0M764.3 195.7h0M257.8 463.4h0M268.3 223.9h0"/>
<path stroke="#26818e" d="M739.2 460.8h0M528 104.7h0M749.4 481.5h0M596 601.1h0M752.7 362.2h0M584.9 543.3h0M769.9 169.7h0M649.7 129.9h0M831.3 307.7h0M573.4 455.5h0M636.5 534.8h0M562 190.2h0M536.2 521h0M270.8 274.7h0M487.2 645.8h0M322.5 506.3h0M577 457.6h0M837.9 600.8h0M296.3 488.6h0M426.2 669.1h0M620 501.9h0M648.8 544.1h0M748.5 418.1h0M596.6 264h0M264.4 629.7h0"/>
<path stroke="#1f998a" d="M650.9 151.3h0M607.4 243.5h0M237.7 341h0M583.5 433.6h0M260.6 612.8h0M632.2 154.3h0M644.8 263.4h0M462.7 108h0M253.1 414.3h0M339.6 407.9h0M184.9 355.9h0M415.3 235.6h0M465.9 434.7h0M517.7 292.4h0M481.4 101.7h0M370.2 474.1h0M694.9 600.5h0M571.3 562.7h0"/>
<path stroke="#3a538b" d="M375.9 588.5h0M606.2 177.7h0M178.4 127.4h0M302 442.9h0M694.6 483.1h0M819.2 138.2h0"/>
<path stroke="#35b779" d="M353.2 400.5h0M521.9 575.7h0M273.5 590.1h0M503.5 604.8h0M756.9 205.7h0M268.8 379.5h0"/>
<path stroke="#481c6e" d="M656 425.2h0"/>
<path stroke="#31688e" d="M247.8 145.6h0M301.8 632.1h0M307.2 639.9h0M581.3 498h0M358.7 536.1h0M230 653.6h0M766.3 379.1h0M346.6 308.5h0M734 542.8h0M259.3 164.4h0M336 313.9h0M352.2 426.2h0M582.6 483.4h0M648.1 280.4h0M275.2 202.2h0M486.5 326.6h0M644.6 237.4h0M314 657h0M753.3 306.8h0M805.3 329.1h0"/>
<path stroke="#4cc26c" d="M422.8 515.9h0M323.1 179.2h0M412.5 253.8h0M770.1 536.9h0M378.4 384.6h0"/>
<path stroke="#375b8d" d="M364.8 547.9h0M773.8 503.9h0M828.8 414.7h0M262.7 188.4h0M772.8 669h0M487.3 401.7h0M525.4 536.4h0M256.8 302h0M796.1 352.3h0M575 507.4h0M602.1 486.4h0M651.7 401.6h0M383 634.5h0M485.3 383.8h0M500 307.6h0M498 414.6h0M321.8 227.4h0M762.6 482.4h0M190.8 117.6h0M728.3 309.2h0M679.9 470h0M577.8 518.6h0M594 164.5h0"/>
<path stroke="#2db27d" d="M742.7 378.2h0M763.3 234.9h0M507.4 230.3h0M457.2 243.8h0M500.9 253.1h0M388 513.8h0M418 362.3h0M387 449.2h0M562.2 387.4h0M370 375.9h0M562.8 552.4h0M711.4 205.2h0M657.8 582.8h0M412.8 375.4h0M386.7 463.3h0M449.2 527.9h0M480.6 280.8h0M420 468.3h0M503.8 264.4h0M560.9 257.8h0M690.9 584.4h0M661.5 163h0"/>
<path stroke="#67cc5c" d="M576.5 380.2h0M500.9 207.4h0M535.3 251.9h0M502.4 195.1h0M547.5 258.2h0M791.4 580.9h0M678.3 152.4h0M271.4 583.8h0M793.5 578.5h0"/>
<path stroke="#228d8d" d="M754.3 632.7h0M207.5 351.7h0M556.6 423.7h0M590.1 463.5h0M667.3 523.3h0M294 198h0M455.3 335.1h0M245.4 461.6h0M450.7 447.7h0M723.3 614.2h0M555.6 176.1h0M565.5 312.9h0M837 661.9h0M496.6 436h0M366.6 262.2h0M477.7 659.6h0M279.9 99.2h0M563.9 632.2h0M547.3 382.9h0M747.3 630.8h0M560.6 211.6h0M671.2 105.5h0M286.1 101.3h0M818.2 204.9h0"/>
<path stroke="#24878e" d="M733.8 155.3h0M435.5 117.1h0M671.7 261h0M633.8 133h0M436.9 277.8h0M424.4 124.2h0M322 613.7h0M830.8 594.5h0M204.3 251.4h0M475.3 524.3h0M669.8 539.9h0M324.5 206.3h0M685.3 533.5h0M499.6 152h0M559.9 161.7h0M576.1 577.2h0M214.8 527.4h0M458.3 323.9h0M362.8 253.4h0M355.8 565.2h0M599.5 121.3h0M596.5 236.8h0M611.4 259.6h0M842.3 250.3h0M597.1 145.5h0M447.7 349.2h0M458.6 301.1h0M617.8 268.7h0M789.4 300.9h0M302.7 133.1h0M640 578.6h0M745.7 551.9h0M442.1 464.6h0M739.6 628.1h0M713.7 125h0"/>
<path stroke="#20938c" d="M718 416.6h0M678.1 192.3h0M634.6 317.1h0M199.6 345.5h0M453.8 436.5h0M665.3 526h0M450 568h0M797.6 599.1h0M337.6 597.2h0M627.1 119.2h0M653.8 121.7h0M827.5 295.9h0M241.7 535.8h0M468.7 628.9h0M603 615.6h0M290.3 125.6h0M570.2 276.6h0M623.5 327h0M452.6 359.1h0M237.5 537.9h0M335.5 195.9h0M320.6 301.1h0M242.9 584.1h0M598.4 130.9h0M318.7 580.6h0M641.2 570.3h0"/>
<path stroke="#433d84" d="M233.2 185.5h0M587.1 192.3h0M389.2 115.4h0M682 435.8h0M226.9 437.7h0M696.7 310.4h0M319.3 449.7h0"/>
<path stroke="#34618d" d="M664.3 480.1h0M812.6 659.7h0M812.9 438.2h0M686.7 400.4h0M400.2 542.9h0M217.1 498.3h0M665.4 320.4h0M401.5 600.1h0M238.2 455.3h0M311.2 419.8h0M413.7 196.4h0M388.2 301.9h0M344.1 457.8h0M675.7 221.1h0M406.3 143.6h0M818.9 514.6h0M793.7 460.5h0M284.3 211.7h0M692.8 288.7h0"/>
<path stroke="#481467" d="M329.2 103h0"/>
<path stroke="#77d153" d="M777.6 553.4h0"/>
<path stroke="#297b8e" d="M555.8 670h0M348 607.4h0M463.4 405.9h0M464.1 167.4h0M358.3 507.2h0M803.7 111.9h0M232.7 283.9h0M490.3 135.9h0M773.3 163.4h0M508.4 109.7h0M605 272.7h0M317.4 130h0M460 381.3h0M577.6 141.7h0M363.3 207.1h0M356.5 249.3h0M822.7 114.6h0M297.7 419.3h0M544.5 115.8h0M611.7 636.1h0M591.9 613h0M490 670.5h0M475.4 317.4h0M368.2 196.9h0M334.9 475.3h0M574.2 614.8h0"/>
<path stroke="#35b779" d="M740.1 587.1h0M284.4 257.4h0M271.7 505.7h0M784.3 239.6h0M274.5 557.6h0M808.6 255.4h0M234.5 233.7h0M444.4 256.8h0M693.9 188h0M415.8 364.1h0M785.4 592.8h0M510.2 223.6h0M391.4 498.5h0"/>
<path stroke="#1fa088" d="M673.5 618.6h0M446.2 103.4h0M644.2 107.9h0M469.4 277.2h0M278.4 152h0M187.3 385.1h0M396.1 258.6h0M311.7 156h0M829.8 239.1h0M548.5 371h0M223.4 226.7h0M576.8 249.6h0M743.2 625.7h0M724.5 605.9h0M642.2 629.3h0M558.6 596.1h0"/>
<path stroke="#21a585" d="M343 561.8h0M446.7 268h0M440.2 422.5h0M647.5 592.3h0M316.1 151.4h0M341.7 354.2h0M411.7 378.3h0M638.9 519.5h0M295.8 585.9h0M496.4 238.9h0M408.1 339.1h0M437.1 429.6h0M314.4 280.5h0M533.9 187.2h0M540.2 168h0M618.9 363.6h0M188.7 396.5h0M315.6 265.9h0M543.6 227.3h0"/>
<path stroke="#453581" d="M190.5 458.6h0M412.1 576h0"/>
<path stroke="#481c6e" d="M347.6 99.6h0"/>
<path stroke="#26818e" d="M334.7 254.4h0M586.9 649.3h0M218.3 279.7h0M650.4 309.5h0M283.6 467.1h0M210.9 532h0M202.1 193.7h0M479.6 365.6h0M299.9 598.9h0M258.6 217.6h0M663.1 349.5h0M592.8 116.4h0M511.5 306.6h0M410.5 327.9h0M402.4 275.6h0M790.6 512.8h0M565.1 196.5h0M675.9 625.3h0M725.1 360.1h0M454.3 592.2h0M629.7 488.7h0M691.2 615.2h0M436.1 174.9h0M215.9 568.6h0M554.4 452.8h0M717.8 478.9h0"/>
<path stroke="#482576" d="M186.4 139.3h0"/>
<path stroke="#1f998a" d="M465.5 237.1h0M823.2 243.2h0M229.9 257.6h0M471.1 668.1h0M766.8 624.8h0M268 456.9h0M551.6 180.6h0M547.9 635.3h0M430.7 443.5h0M255.2 529.1h0M801.6 521.5h0M225.1 545.5h0M193.5 353.8h0M383.5 258.2h0M273.2 357.2h0M499.5 555.1h0M664.6 188.9h0M658.9 515.3h0M760.3 529.8h0M316.4 528.2h0M205.4 398.8h0"/>
<path stroke="#34618d" d="M301.7 209.9h0M393.5 605.8h0M693 404.7h0M816.1 466.8h0M778.6 368.1h0M192.5 278.1h0M315.5 239.3h0M374.7 291h0M819.8 452.3h0M776.7 648.1h0M771.4 422.6h0M811.9 342.2h0M193.1 110.9h0M423.4 205.6h0M234.3 603.2h0M367.3 598.3h0M634.6 442.7h0M239.3 638.4h0M392.2 656.2h0"/>
<path stroke="#bade28" d="M487 204.8h0"/>
<path stroke="#2e6e8e" d="M732.1 652h0M571.7 198.4h0M767.4 328.5h0M745.2 523h0M775.2 644.3h0M243.6 640.7h0M511.9 525.2h0M361.4 662.8h0M421.9 189.5h0M388.6 203.5h0M803 406.5h0M766.3 117h0M305.9 627.5h0M664.7 648h0M691.4 231.3h0M182.9 182.8h0M182.3 500.4h0M603.3 274.5h0M654.4 294.5h0M787.4 412.4h0M416.9 153.1h0M332.2 633.3h0M734.9 336.8h0M319.6 620.4h0M694 662.7h0M733.2 434.8h0M279.3 192.8h0M351.5 590.8h0M755.2 468.2h0M470.9 406.6h0M792.7 399.4h0M784.6 436.6h0M322.7 335.4h0M590.5 302.1h0M745.4 318.4h0M491 302.7h0M758 139h0M203.4 570.4h0M185.2 271.3h0"/>
<path stroke="#4cc26c" d="M517 589.3h0M382.5 369.6h0M399.6 420.4h0M550.4 264.9h0"/>
<path stroke="#228d8d" d="M349.5 414.3h0M628.8 406.4h0M252.7 543.4h0M841.1 665.9h0M710.3 269.9h0M654.9 506.4h0M676.1 248.3h0M647.3 100.8h0M753.5 386.9h0M346.9 192.2h0M598 651.1h0M830.7 99.5h0M450.2 370.3h0M631 365.4h0M463.7 508.6h0M676.9 199.8h0M834.2 522.1h0M489 162.7h0M213.3 556.7h0M621.2 162.4h0M632.6 494.8h0M253.6 129.2h0M265.8 145.4h0M813.6 596.6h0"/>
<path stroke="#25ac82" d="M432.1 393h0M189.7 220.1h0M556.5 334h0M240.8 405h0M382.3 467.8h0M558.3 610.2h0M451.6 544.4h0M294.4 395h0M448.1 415.3h0M769.4 277.6h0M519.1 623.5h0"/>
<path stroke="#67cc5c" d="M504.6 188.4h0M695.8 145.8h0M398.1 441.7h0M709.5 162h0M754.5 212.9h0M567.5 341.5h0"/>
<path stroke="#2b748e" d="M507.8 350.5h0M677.8 389.8h0M524.4 354h0M341.1 618.4h0M759.2 490.2h0M518.1 669.5h0M660.5 489.5h0M338.1 417.6h0M459.9 119.2h0M530.1 654h0M207.2 276h0M779.6 160.4h0M700.9 660.6h0M238.9 118.2h0M431.6 572.2h0M706.6 509.4h0M334.3 631.5h0M775.4 303.3h0M571.9 297.9h0M334.2 210.5h0M497.4 655.4h0M689.2 224.5h0M761.3 494.7h0M210.2 273.4h0M350.8 295.7h0M291.8 204.6h0M579.1 314.8h0M794.5 627.2h0M419.9 658.6h0M250.1 421.2h0M419.7 182.8h0M607 533h0M589.6 619.7h0"/>
<path stroke="#5ac864" d="M572 396h0M758.8 612.1h0M680.4 181.1h0M794.2 250.9h0M473.6 197.9h0M406.7 520.1h0M774.8 583.3h0"/>
<path stroke="#20938c" d="M607.5 450.5h0M843.7 200.1h0M621.7 423.4h0M473.2 118.8h0M188.5 198.8h0M618.4 101.5h0M614.1 607h0M469.8 617.7h0M582.1 662.6h0M600.2 456.8h0M623.3 305h0M697.9 253.3h0M807 221.3h0M523.4 637.9h0M217.6 545.1h0M698.5 598.4h0M666.4 257h0M834.8 195h0M226.7 362.6h0M256.2 135.2h0M251.2 100.1h0M548.6 470.1h0M592 426h0M611 321.9h0M444.1 633.6h0M434.8 454.3h0M456.1 412.5h0"/>
<path stroke="#31688e" d="M407.4 174.6h0M416.5 661h0M603.8 535.4h0M361.2 600.7h0M360.2 605.6h0M773.6 332.9h0M699.1 431h0M683.5 492.9h0M614.5 476h0M295.4 429.8h0M789.8 641.9h0M342 637.5h0M195.5 184.9h0M509.6 519.2h0M746.8 134.2h0M185.8 325.7h0M199.2 286.6h0"/>
<path stroke="#472d7b" d="M387.5 556.7h0M189.9 625.4h0M700.1 341.4h0"/>
<path stroke="#433d84" d="M640.2 460h0M654.2 671h0M720.3 323.5h0M208.9 168.2h0M237 173.6h0"/>
<path stroke="#375b8d" d="M208.1 664.9h0M835.4 471.6h0M841.8 462.2h0M737.7 330.1h0M798.6 344.8h0M595.7 482.6h0M756.3 465.6h0M380.4 645h0M684.5 295.6h0M646 287h0M239.8 297.7h0M483.6 387.8h0M772.2 356.5h0M521.2 139.2h0M660.6 292.1h0"/>
<path stroke="#40bd72" d="M290.1 384.3h0M395.6 470.4h0M790.8 243.7h0M720.8 215.7h0M367.6 364.7h0M732.8 600h0M337.9 363.9h0M256.7 511.6h0"/>
<path stroke="#24878e" d="M183.6 332.5h0M478.5 342h0M265.7 651h0M267.6 331.3h0M249.6 662.4h0M798 604.1h0M307.4 202.1h0M827.2 672.7h0M575.1 535.7h0M353.6 202.9h0M349.6 279.3h0M553.3 513.9h0M190.3 249h0M523.1 561h0M261.7 433.8h0M747.9 540.6h0M625.2 581.1h0M280.2 607.1h0M776.5 189.1h0M641.4 132.6h0M485.3 125.6h0M728.2 470.6h0M244.4 457.7h0M617.7 438.7h0M202.2 549.2h0M197.8 196.1h0M208.3 405.6h0M376.4 269.8h0"/>
<path stroke="#98d83e" d="M784.7 265.8h0M828.2 533.3h0M699.8 154.9h0"/>
<path stroke="#404588" d="M782.7 470.9h0M513.8 416h0M581.9 187.7h0M410.1 297.1h0M810.6 365.7h0M711.9 304.7h0M220.4 621.9h0"/>
<path stroke="#3d4d8a" d="M385.1 595.9h0M184 292.6h0M363.1 630.3h0M833 128.6h0M825.4 135.8h0M365 314.4h0M214.2 642.6h0M840.5 167h0M422.5 306.9h0M610.3 192.6h0"/>
<path stroke="#3a538b" d="M795.9 485.2h0M655.6 227.5h0M662.5 659.2h0M670.8 661.6h0M785 359.3h0M397.4 144.3h0M398.3 628.6h0M246.3 206.7h0M257.2 203h0"/>
<path stroke="#2db27d" d="M278.2 554.9h0M672 602.2h0M261.9 263.8h0M516.6 224.9h0M324.3 559.4h0M752.3 242h0M724.6 239.9h0M539.4 627.7h0M392.3 413.8h0M282.4 552.5h0"/>
<path stroke="#3a538b" d="M592.3 492.7h0M265.5 195.2h0M815.7 634.1h0M343.8 454h0M832.9 636.4h0M248 314.6h0M368.3 312.7h0M219.8 465.7h0M423.7 304h0M660.8 410.5h0M594.5 497.1h0M381.9 646.8h0M191.6 666.9h0"/>
<path stroke="#5ac864" d="M574.8 338.8h0M673.7 170.1h0M752.4 595.2h0M533.1 263.1h0M255.5 389.6h0"/>
<path stroke="#20938c" d="M773.8 623h0M570.4 430.8h0M216.3 371.1h0M593.4 411.5h0M242.7 351.2h0M445.9 386.1h0M476.5 255.2h0M443 622.9h0M309.1 521.1h0M282 415.1h0M459.7 578.3h0M580.7 440.3h0M779.3 182.4h0M496.9 499.3h0M297.6 509.9h0M741.4 170.5h0M497.2 158.7h0M642.8 315.6h0M705.8 247.1h0M325.5 582.9h0M278.9 308h0"/>
<path stroke="#472d7b" d="M179.8 148.7h0M192.9 618.7h0M812 495.3h0"/>
<path stroke="#26818e" d="M596.2 106.2h0M309.6 252.1h0M656.3 491.8h0M721.1 122h0M282.9 190.4h0M451.7 158.2h0M615.5 445.4h0M333 525.9h0M235.2 481.2h0M748.4 343h0M347.1 476.6h0M588.4 569h0M615.7 257.5h0M723.4 424.4h0M344.2 576.4h0M720.1 513.6h0M543.1 334.7h0M456.2 294.3h0M303.6 352h0M422.1 647.4h0M816.7 190.8h0M583.3 236h0M420.9 632.8h0M289.6 175.4h0"/>
<path stroke="#481c6e" d="M683.2 426.1h0"/>
<path stroke="#fde725" d="M798.8 541.9h0"/>
<path stroke="#1f998a" d="M479.5 480.5h0M573.2 247.4h0M820.6 293.8h0M486.2 245.4h0M440.4 270.6h0M588.1 446.6h0M604.2 666.1h0M460.6 639.4h0M298.1 186.3h0M329 594.5h0M329.6 268h0M274.9 324.7h0M722.2 412.1h0M216.8 215.5h0M340.6 277.3h0M714.6 369.5h0M194.2 235.4h0M286.6 478.3h0M297.1 537.6h0M459.4 627.1h0M529.9 196h0M669.4 254.3h0M630.8 598.7h0M468.2 252.6h0"/>
<path stroke="#67cc5c" d="M392.9 359.9h0M600.1 379.4h0"/>
<path stroke="#25ac82" d="M495.1 613.5h0M638.1 616.2h0M283.2 305.6h0M317.6 370.9h0M503.9 482.9h0M319.1 383.6h0M272.7 411h0M518.3 163.8h0"/>
<path stroke="#297b8e" d="M445.7 307.2h0M180 189.5h0M475.1 312.4h0M809.8 197.4h0M592.9 591.1h0M636.9 405.7h0M460.6 399.2h0M426.6 113h0M585.2 607.8h0M429.5 184.3h0M269.4 289.2h0M287 609.2h0M549.6 151h0M300.1 480.4h0M703.8 516.1h0M471.5 169.3h0M753.8 525.4h0M184.6 589.4h0M502.7 145.1h0M620.4 293.8h0M619.7 160.9h0M189.3 328.1h0M744.6 638h0M305.6 250.5h0M330.8 501.2h0M793 201.8h0M751.4 349.9h0M768.5 296.7h0"/>
<path stroke="#aadc32" d="M681.4 159.1h0"/>
<path stroke="#228d8d" d="M270.1 535.6h0M441.7 644.2h0M297.3 169.5h0M275.9 464.2h0M535.1 442h0M400.6 238h0M531.3 210.6h0M288 423.6h0M675.3 117.5h0M651.5 322.5h0M308 519.6h0M249.2 600.1h0M742 290.3h0M369.6 255.5h0M633.4 376.6h0M225.4 348h0M482.2 609.5h0M254.5 213.8h0M734.7 286.3h0M435.1 458.3h0M488 491h0M229.5 211.5h0"/>
<path stroke="#404588" d="M181.3 439.3h0M196.8 444.2h0M409.1 587.2h0M795.4 664.2h0M841.9 379.8h0"/>
<path stroke="#460a5d" d="M653 449.9h0"/>
<path stroke="#433d84" d="M807.6 376.9h0M824.2 381.6h0M383.7 545.4h0"/>
<path stroke="#89d548" d="M277 569.4h0M491.3 202.7h0M393.7 437.3h0M592.5 357.6h0M693.6 157h0M582.8 367.5h0"/>
<path stroke="#2db27d" d="M672.5 587.7h0M590.4 400.2h0M763.8 551h0M246.4 571h0M256.1 558.4h0M243.2 398.3h0M630.6 618h0M388.4 401.1h0M374.6 406.9h0M413 474.6h0M679.7 128.9h0M524.8 278.3h0M710.4 226.5h0M308.3 311.5h0M245.5 380.3h0M275.7 123.2h0M436.7 510.9h0M277.3 372.5h0M762.7 261.6h0M659.6 611.4h0"/>
<path stroke="#40bd72" d="M516.5 271.1h0M485.7 219.3h0M601.4 397.3h0M274.7 512.5h0M612.4 372.4h0M467.1 193.4h0M528.9 235.3h0M495.3 272.4h0M344 378.8h0M664.1 594.7h0"/>
<path stroke="#34618d" d="M461.2 142.8h0M726.7 544.9h0M802.8 510.2h0M230.2 196.7h0M643.5 193.6h0M781.7 447.9h0M780.3 438.8h0M306.3 119.7h0M414.2 318.2h0M837.4 421.6h0M208.5 288.3h0M290.7 219.1h0M662.1 282.8h0M290.9 452.7h0M356.6 224.4h0M201.4 106.9h0"/>
<path stroke="#77d153" d="M584.7 345.7h0"/>
<path stroke="#453581" d="M201.5 311.2h0M190.2 453.7h0M240.5 171.5h0M182 159.9h0M810.8 480.7h0M684.9 336.4h0M336.7 432.2h0M831.1 390.1h0"/>
<path stroke="#2b748e" d="M799.8 419.9h0M583.2 600.3h0M490.5 512.3h0M492.9 505.6h0M762.4 364h0M474.5 140.1h0M527.9 660.7h0M389.8 273.8h0M711.5 645.1h0M772.7 410.3h0M210.8 506.6h0M326.3 246.3h0M805.7 197.8h0M511 647.7h0M435.3 576.2h0M699.4 234h0M817.3 305.4h0M456.7 462.5h0M521.4 378.6h0M416.7 185.2h0M643.8 366.1h0M793.3 119.3h0M437.5 587.5h0M704.2 638.5h0M551.2 100.5h0M709.7 503.1h0"/>
<path stroke="#375b8d" d="M490.9 399.6h0M731.4 316h0M295.4 617.9h0M814.9 161h0M215.7 650h0M408.9 111.2h0M325.1 464.9h0M825.6 324.3h0M363.5 131.4h0M801.9 390.8h0M367.1 603.2h0M215.3 308.8h0M425.9 292.8h0M396.5 634.9h0M240.2 139.4h0M370.6 222.3h0"/>
<path stroke="#4cc26c" d="M541.6 616.5h0M541.3 584.5h0M544.7 591.6h0M346.5 389.7h0M550.2 240h0M331.6 368.5h0"/>
<path stroke="#21a585" d="M750.9 182.6h0M311.3 286.8h0M426 409.9h0M551.7 279.6h0M282.3 526.4h0M771.6 611.8h0M682.4 593.7h0M430 539.7h0M231.7 255.8h0M188 218.3h0M574.6 428.4h0M549.4 556.2h0M251.1 360.5h0M456 671.2h0"/>
<path stroke="#31688e" d="M661.6 333.1h0M809.6 653h0M637.9 229.9h0M718.6 545.3h0M810 312.5h0M285.7 657.4h0M312.7 484.2h0M768.3 397h0M226.5 478.5h0M331.7 468.7h0M821.2 175.7h0M467.5 144.6h0M765.2 134.5h0M241 288.9h0M791 449.4h0M593.5 295.4h0M757.4 304.1h0M412 117.9h0M772.1 112.9h0M209.4 491.9h0M701 474.2h0M607.1 164.8h0M668.4 392.8h0M674.1 339.7h0M504.7 662h0M764.1 654.7h0M394.9 191.6h0M178.5 566.2h0M567.9 185.3h0M816.4 126.2h0M801.8 311.8h0"/>
<path stroke="#482576" d="M829.1 499.5h0"/>
<path stroke="#35b779" d="M546.8 621.4h0M310.7 372.7h0M424.8 246.8h0M385.3 362.9h0M524.6 487.9h0M322.7 165.2h0M405.5 380.4h0M832.1 528.6h0M541.7 229.1h0M258.9 504.9h0M254.3 260h0M411.5 458.6h0"/>
<path stroke="#1fa088" d="M279.8 476.2h0M760.8 539.8h0M761.5 285h0M187 403h0M498.6 469.1h0M788.3 227.8h0M613.4 346.6h0M205.2 380.9h0M653.6 580.7h0M364 472h0M484.8 257.3h0M184.2 409.8h0M464.3 186.7h0"/>
<path stroke="#24878e" d="M305.1 508.4h0M659.4 270.9h0M474.1 517.1h0M357.3 461.2h0M452.2 280.1h0M312.3 604.4h0M588.6 129.1h0M577.2 224h0M222.2 402.5h0M371.1 247.2h0M589.4 242.7h0M494.5 116.8h0M434.4 625h0M472.6 454.8h0M443.1 451.6h0M269.8 338h0M326.8 504.2h0M488.1 354.7h0M431.8 654.6h0M688.6 249.4h0M462.5 585.1h0M729.2 150.7h0M258.7 336.2h0M562.1 306h0M406.9 330h0"/>
<path stroke="#2e6e8e" d="M811.1 431.9h0M180.7 102.7h0M655.9 273.2h0M610.8 554.8h0M561.6 127h0M760 669.2h0M180.9 595.4h0M800 132.1h0M594.6 541.8h0M384.4 281.7h0M235.9 111.5h0M363.4 571.5h0M352.7 325.4h0M525.7 339.5h0M839.9 427.9h0M576.2 120.4h0M764 146.8h0M195.6 540.3h0M336.2 317.8h0M360.6 433.3h0M731.1 549.5h0M618.7 478.4h0M729 556.1h0M718.3 657.9h0M632.7 282.9h0M354.6 619.4h0M350.4 672h0M513.5 127.5h0M435.6 290.1h0M808.8 443.1h0M546.9 122.5h0"/>
<path stroke="#3d4d8a" d="M652 204h0M601.9 200.2h0M185.6 612.4h0M222 304.3h0M791.8 383.3h0M369 550h0M255.8 192.5h0M646.2 419.9h0M334.5 443.4h0M374 586.6h0M659.8 225.1h0M203.9 472.6h0M649.3 214.5h0M841.1 404.4h0M738.8 120.2h0"/>
<path stroke="#34618d" d="M225.5 416.4h0M396.9 652.2h0M304.2 664.6h0M822.3 611.2h0M605.5 493.5h0M353 302.5h0M213.5 323.4h0M603.7 167.2h0M793.2 639.5h0M211.6 294.7h0M671.6 481.9h0M295.6 232.7h0M780.3 349h0M350 505.4h0M639.5 201.9h0M299.1 431.6h0M708.9 293.5h0M418.6 608.1h0M303 616.3h0"/>
<path stroke="#2b748e" d="M401.8 229.5h0M742.3 667.1h0M351.2 493h0M384.6 183.3h0M346.2 529.3h0M580 131.2h0M325.8 622.8h0M488.2 423h0M701.9 632.5h0M790 204.2h0M622.2 225.7h0M226.4 596h0M689.8 518.5h0M725.6 656.4h0M700 495.6h0M609 643.6h0M602 641.5h0M455.5 165.6h0M502.9 522.2h0M680.4 279.5h0M632 539.4h0M569.4 173.7h0M224.4 409.2h0M748.2 493.9h0M586 476.3h0M568.8 509.8h0M785.9 413.1h0M424.6 623.2h0M281.7 181.6h0M664.4 361.9h0M681.6 238.2h0"/>
<path stroke="#77d153" d="M776.1 559.8h0M248.5 235.8h0M529.1 601.4h0M500.5 193h0"/>
<path stroke="#481c6e" d="M198.8 146.3h0M395.5 568.3h0"/>
<path stroke="#404588" d="M376 113.6h0M829.2 346.4h0M579.7 194.4h0M183.1 658.8h0M378.9 124.8h0"/>
<path stroke="#1fa088" d="M461.5 519.8h0M484.9 445.1h0M552.5 545h0M297.8 283h0M506.9 166.9h0M308.5 193.5h0M482.4 241.3h0M339.8 175h0M601.3 331.2h0M249.2 483.3h0M448.4 659.5h0M454.9 424.8h0M431.2 375.1h0M542.9 506.7h0M742.5 174.5h0M559.8 545.7h0M539.6 222.3h0M585.7 435.4h0M633.9 631.9h0M559.2 281.4h0M738.7 578.2h0M426.9 356.1h0M479.4 598.6h0"/>
<path stroke="#297b8e" d="M783 309.4h0M631.9 234.4h0M582.5 286.2h0M619.5 657.5h0M591.3 558.5h0M827.4 177.9h0M608.5 464.4h0M541.5 108.7h0M628.7 340.3h0M540.8 405.4h0M319.5 216.2h0M434 561.7h0M716.9 609.7h0M612 569.3h0M692 507.3h0M277.7 447.6h0M240.1 329.8h0M805.1 517h0M354.2 463.9h0M579.9 651.4h0M524.2 111h0M542.2 426.7h0"/>
<path stroke="#482576" d="M211.1 166.1h0M394.1 555.9h0M716 319.1h0M361.4 106.8h0"/>
<path stroke="#481467" d="M206.1 143.5h0"/>
<path stroke="#bade28" d="M840.7 535.4h0"/>
<path stroke="#472d7b" d="M178.9 633.1h0M654 462.7h0"/>
<path stroke="#21a585" d="M180.3 386.7h0M220.7 244.9h0M479.8 546.3h0M254.9 554.6h0M464 534.7h0M210.2 227.1h0M438.1 487.5h0M823.8 217.1h0M627.6 624.7h0M465.5 542.1h0M746.1 393.4h0M745 396.1h0M447.1 241.9h0M518.5 504.3h0M312.8 365.9h0M530.5 474.9h0M537 563.1h0M267.7 519h0"/>
<path stroke="#26818e" d="M694.8 106.6h0M497.1 543.9h0M772.5 292.1h0M486.7 138h0M431.4 134.4h0M319.9 136.1h0M269.2 666.3h0M646.3 239.2h0M372.5 516.3h0M663.5 268.2h0M526.7 152.9h0M552.9 645.4h0M679.2 636.7h0M742.8 458.4h0M736.1 351.4h0M552.8 205.3h0M500.4 648.7h0M636.1 337.4h0M545.3 642.7h0M350.1 533.7h0M528.5 364.5h0M569 291.1h0M730.9 144.1h0M468 315.8h0M379.4 245.1h0"/>
<path stroke="#98d83e" d="M782.4 568.1h0"/>
<path stroke="#3a538b" d="M325.4 123.9h0M752.5 102.4h0M809.4 147.4h0M387.4 215.9h0M197.1 475h0M819.4 622.5h0M227.3 610.1h0M306.8 460.2h0M223.2 610.7h0M743.1 117.8h0M193.8 433h0M420.5 566.2h0M686.9 302.3h0"/>
<path stroke="#375b8d" d="M804.8 617.6h0M230.8 317h0M390.7 165.9h0M682.3 476.7h0M649.9 471h0M504.9 421.8h0M814.7 657.6h0M511.6 386.8h0M393.2 593h0M625.1 466.5h0M289.8 670.5h0M238.1 623.8h0M178 99h0M802.9 340.3h0M707.9 353h0M243.4 300.1h0M179.9 553.9h0M386.1 609.8h0"/>
<path stroke="#2db27d" d="M474.3 562.3h0M443.3 246h0M565.4 394.3h0M358 404.6h0M445 525.8h0M400.9 262.9h0M558.4 240.7h0M578.2 398.2h0M655.3 165.4h0M440.9 515h0M809.2 524.4h0"/>
<path stroke="#460a5d" d="M671.9 432.1h0"/>
<path stroke="#2e6e8e" d="M583.5 605.4h0M597.5 309.9h0M504 367.9h0M199 187h0M333.6 647.9h0M680.2 655.8h0M425.5 163.5h0M682.2 360.6h0M476.8 376.8h0M842.1 457.1h0M525 429.1h0M610.9 528.7h0M355.1 299.8h0M635.5 197.4h0M635 550.6h0M245 626.1h0M317 650.3h0M465.3 155.8h0M815.7 444.9h0M746.3 313.4h0M730.3 441.5h0M269.4 171.2h0"/>
<path stroke="#40bd72" d="M570.9 329.9h0M732.9 237.8h0M769.7 232h0M605.4 357.4h0M415.1 432.6h0M345.1 371.7h0M527 493.9h0M262 482.5h0M525 618.9h0"/>
<path stroke="#31688e" d="M369.4 209.3h0M183.3 529.9h0M650.7 650.1h0M506.6 338.1h0M785.3 101.1h0M768.7 110.2h0M404.9 627.9h0M432.7 146.7h0M381.3 150.2h0M519.9 124.6h0M669.4 210.3h0M690.2 398h0M722.6 334.7h0M226.2 102.2h0M292.6 624.6h0M604.6 289h0"/>
<path stroke="#89d548" d="M798.2 263.6h0"/>
<path stroke="#67cc5c" d="M752.1 608h0M572.3 378.1h0M821.4 531.2h0M251.5 238.5h0M283.8 567.1h0"/>
<path stroke="#25ac82" d="M773.9 218.9h0M454.4 227.9h0M300.7 394.7h0M450.6 258.9h0M525.6 170.4h0M424.1 465.4h0M248.7 264.6h0M554.9 384.4h0M204.4 222.5h0M404.6 251h0M192.7 231.3h0M786.1 280.3h0M328.1 356.8h0M304.4 172.9h0M510 626.5h0M667.6 147.1h0M678.2 554.4h0M241.8 230.9h0M457.4 216.7h0M555.1 582h0M799.6 287.1h0M445 553.6h0M815.9 257.2h0M509.8 250.2h0M351 357.9h0"/>
<path stroke="#20938c" d="M505.3 497.5h0M492.7 620.2h0M626.5 395.2h0M574.4 274.2h0M715.2 126.5h0M330.7 349.4h0M737.1 275.8h0M273.8 613.1h0M303.9 585.5h0M362 420.9h0M702.1 255.7h0M559.4 416.5h0M537.8 299.4h0M555.3 409.1h0M661.4 530.1h0M606 672.7h0"/>
<path stroke="#3d4d8a" d="M804.3 352.7h0M830.5 475.9h0M791.9 462.4h0M415.4 597.7h0M843.9 641.2h0M678.6 321.5h0M373.1 563.1h0M786.8 671.1h0M803.6 668h0M198.9 663h0"/>
<path stroke="#1f998a" d="M595.5 421.6h0M451.1 214.8h0M723.5 273.7h0M449.8 191.3h0M593.2 672.4h0M335.3 572.5h0M508.4 300.6h0M519.1 451.1h0M241.1 507.6h0M523.8 297.3h0M603.1 427.6h0M449.6 650.4h0M452 657.1h0M784.4 606.7h0M229.4 566.8h0M703.3 394h0M513.4 566.4h0"/>
<path stroke="#453581" d="M203.6 131.6h0M227.8 150.4h0M817.2 387.7h0"/>
<path stroke="#24878e" d="M643.2 311.6h0M635.7 394.5h0M287.1 240.9h0M702.3 524.7h0M625.7 329.1h0M275.2 302.8h0M832.5 259.6h0M600.6 626.8h0M566 481.1h0M546.2 449h0M795.3 172.7h0M781.1 103.3h0M227.1 268.8h0M521.3 558.9h0M227.6 526.7h0M466.4 366.3h0M695.3 605.5h0M578.4 640.6h0M707 406.8h0M485.9 622.3h0M599.9 461.7h0M253.1 656.1h0M443.5 468.6h0M301.3 147.8h0M484.2 126.4h0"/>
<path stroke="#433d84" d="M836.8 156.2h0M180.2 647.6h0M309.5 441h0M584 181.1h0M205.9 640.2h0M797.2 366.1h0"/>
<path stroke="#fde725" d="M790.1 557.4h0M809.2 550.5h0"/>
<path stroke="#5ac864" d="M497.5 181.8h0M774.2 246.1h0M532.5 237.7h0M594.4 344.2h0M253.7 569.2h0"/>
<path stroke="#228d8d" d="M223.9 334.1h0M549.2 191.8h0M404.3 534.4h0M520.3 644.8h0M627.3 574.8h0M194.6 364.7h0M556 531.5h0M296.2 352.5h0M759.8 176.6h0M261 271.7h0M532.1 366.9h0M613.9 238.6h0M235.5 276.5h0M237.5 509.7h0M732.2 483.6h0M430.2 342.6h0M648.3 499h0M567.9 283.8h0M621.5 503.5h0M699.9 539h0M585.5 266.6h0M491.5 123.5h0M567.1 538.5h0M451.2 346.8h0M624.1 137.8h0M320.5 401.5h0M702.8 550.2h0M327.2 292.3h0M373.1 430.4h0"/>
<path stroke="#35b779" d="M418.1 439.7h0M551 593.1h0M616 370.3h0M277.5 259.8h0M811 262.1h0M385.6 438h0M491.7 579.3h0M501.5 571.8h0M756.7 582.4h0M675.5 576.5h0M276.4 243.4h0M813 268.4h0"/>
<path stroke="#4cc26c" d="M778.3 256.7h0M702.6 148.2h0M687.3 134.9h0M768.8 587.3h0M513.7 281.9h0M531.7 254h0M398.8 373.3h0M391.5 347.7h0M543.7 614.7h0"/>
<path stroke="#20938c" d="M641.7 252.2h0M453.2 606.6h0M449.5 388.2h0M623.7 514.7h0M621.3 333.7h0M770.8 174.8h0M287.9 355.1h0M197 375.9h0M652.2 557.1h0M639.6 639.8h0M659.1 138.3h0M666.1 633.5h0M181.1 362h0M599.1 440.6h0M471.2 173.2h0M545.9 513.4h0M553.5 327.3h0M242.3 274.3h0M350.9 411.7h0M631.4 261.6h0M235 365.2h0M522.6 453.8h0M634.4 254.9h0M249.4 106.4h0M486.1 452.2h0M649.9 567.6h0M681.9 267.1h0M436 666.4h0M308.9 144.8h0"/>
<path stroke="#2b748e" d="M328.6 225.3h0M186 515.7h0M320.3 324.2h0M418.8 159.7h0M206.3 520.5h0M349.3 655.7h0M760.7 332.6h0M226.1 658.2h0M359.1 428h0M440.6 611.7h0M336 523.5h0M489.3 503.2h0M456.5 121.9h0M683.3 272h0M744.4 141.4h0M792.1 142.9h0M432.6 317.9h0M468.8 132.3h0M209.7 591.5h0"/>
<path stroke="#433d84" d="M233.6 154.8h0M206.9 616.6h0M224.9 161.6h0M836 629.3h0M816.3 369.8h0M402.9 584.8h0M382.6 126.7h0M223.8 162.3h0M208 172h0M229.8 444.4h0"/>
<path stroke="#481467" d="M826.7 493.2h0M648.9 448h0"/>
<path stroke="#40bd72" d="M275 399.8h0M327.3 177.1h0M732 194.1h0M608.4 382h0M292.5 305.1h0M744.8 199.1h0M718.5 183.2h0M497.8 278.5h0M842.9 564.5h0M783.9 528.1h0M727.5 215.3h0"/>
<path stroke="#25ac82" d="M391.2 412.3h0M527.5 284.3h0M459.6 223h0M514.2 182.9h0M756.1 246.9h0M531.2 572.7h0M246.7 374.1h0M807.5 247.9h0M478.9 234.2h0M842.5 223.7h0M279.6 361.3h0M335.8 393h0"/>
<path stroke="#77d153" d="M788.5 272.9h0M598.6 374.5h0M741.2 231.7h0"/>
<path stroke="#404588" d="M340.8 429.3h0M231.8 442.6h0M197.6 654.2h0M676.4 328.5h0M685.4 450.7h0M818.6 401.9h0M802.1 652.3h0M187.6 124.8h0M839.1 350.6h0M306 223.3h0M395.3 129.3h0M312.3 434.3h0"/>
<path stroke="#2db27d" d="M438.4 530.5h0M660 589.5h0M262.4 601h0M419.1 350h0M719.2 400.9h0M548.2 568.5h0M526.6 174.3h0M653.2 620.5h0M400 496.1h0M795.9 287.9h0M803.9 585.6h0M644.4 604.6h0"/>
<path stroke="#472d7b" d="M371.5 118.5h0M691.8 338.5h0"/>
<path stroke="#482576" d="M670.6 417.5h0M823.2 491.1h0M214.5 151.1h0"/>
<path stroke="#aadc32" d="M750.3 601.7h0"/>
<path stroke="#228d8d" d="M377.5 334.2h0M386.8 244.7h0M298.7 494.9h0M673.9 510.6h0M304.8 405.8h0M570.8 233.1h0M555.9 162.1h0M560.4 502.2h0M822.6 588.3h0M614.1 436.3h0M777.7 212.6h0M252.4 345.9h0M569.6 586.3h0M460.4 298.9h0M661.8 504h0M462 275.4h0M342.2 199.7h0M358.5 166.6h0M196 343.4h0M446.9 438.9h0M841.7 576.8h0M470.3 112h0M573.9 583.9h0M546.6 216h0M371.3 459.1h0M651.9 641.9h0M270.4 615.8h0"/>
<path stroke="#34618d" d="M498.5 372h0M398.4 208.8h0M403.2 172.2h0M668.6 475.2h0M370.4 133.5h0M359.1 615h0M809 317.5h0M530.3 393.7h0M781.4 361.4h0M533.3 345.6h0M210.4 424.2h0M636.8 664.4h0M616.5 190.5h0M252.6 159.5h0M603.5 507.7h0"/>
<path stroke="#1f998a" d="M281.2 543.7h0M727 258.7h0M301.1 524h0M437.4 232.1h0M820.4 581.6h0M747 573.2h0M234.1 262.6h0M546 323.5h0M688.2 120.7h0M681.2 543.2h0M294.9 140.3h0M286 596.2h0M655.2 532.5h0M566.9 603.1h0M462.5 485.1h0M836.1 207.3h0M352 272.1h0M481.9 438.3h0M478.5 431.8h0M536.8 193.9h0M298.6 539.5h0"/>
<path stroke="#24878e" d="M617.5 149.7h0M532.2 107.1h0M472.7 377.5h0M612.7 655.2h0M844 99h0M359.3 274h0M364.6 194.8h0M535.5 208.5h0M662.9 501.3h0M713 453.1h0M652.6 324.3h0M461.6 615.9h0M250.7 540.8h0M587.9 259.9h0M646.9 265.8h0M721.5 463.2h0M717.8 281.5h0M611.8 128.2h0"/>
<path stroke="#460a5d" d="M663.3 439.2h0M666.2 445.9h0"/>
<path stroke="#2e6e8e" d="M344.5 128.8h0M834.3 310.1h0M505.9 665.7h0M682.7 228.6h0M324.7 644.1h0M254.8 152.8h0M613.2 499.5h0M284.2 633.9h0M831.5 648.8h0M343.3 625.1h0M580.4 472.2h0M721.9 671.3h0M187.5 582.7h0M410.5 141.5h0M221.1 327.4h0M653.8 383.7h0M406 201.4h0M348.6 500.2h0M181.4 267.2h0M717.4 101.9h0M331.1 415.5h0M751.6 500.8h0M251.9 435.5h0M761.7 661.4h0M357 577.5h0M424.8 218h0"/>
<path stroke="#3a538b" d="M397.6 316.1h0M835.2 130.4h0M304.1 108.5h0M228.7 305.9h0M823.6 620.1h0M615.1 211.9h0M234.2 431.3h0M228.3 647h0M353.4 642.9h0M811.8 154.1h0M391 295.2h0"/>
<path stroke="#4cc26c" d="M257.7 382.2h0"/>
<path stroke="#31688e" d="M792.5 330.9h0M741.2 536.6h0M428.3 601.8h0M310.5 472.9h0M604.1 171.1h0M627.4 221.6h0M627.9 454.7h0M189.6 560.9h0M685.7 217.4h0M801.4 144.4h0M757.5 516h0M743.9 327.7h0M341.2 232.1h0M829.9 607.3h0M190.9 575.5h0M776.7 386h0M224.2 293.1h0M830.1 436.1h0M715.3 646.7h0"/>
<path stroke="#453581" d="M217.7 180.7h0M318.1 448.2h0M674.3 408.1h0M820 384h0M386.2 580.2h0M687.9 325.2h0"/>
<path stroke="#5ac864" d="M410.3 518h0M731.5 391.1h0M747.1 211.1h0M515.6 595.5h0M354 382.5h0M515.3 608.5h0"/>
<path stroke="#297b8e" d="M547.6 448.3h0M476.9 132.7h0M801 207.8h0M687.7 511.9h0M356.3 457.2h0M202.6 520.8h0M321.1 491.7h0M589.7 123.1h0M624 559.8h0M663.5 241.6h0M787.9 165.5h0M586.3 593.7h0M549.1 649.8h0M512.2 148.9h0M253.3 279.1h0M240.7 665.4h0M596.3 605.2h0M390.5 532h0M620.6 670.3h0M630.2 276.9h0M578.1 300h0M323.5 412.7h0"/>
<path stroke="#efe51c" d="M811.6 539.3h0"/>
<path stroke="#375b8d" d="M806.3 459.8h0M194.8 481.8h0M516.3 422h0M370.7 624.2h0M607.8 216.9h0M590.8 203.2h0M765 475.6h0M401.6 107.3h0M416.1 284.1h0M677.3 396.9h0M228.8 467.3h0M182.1 547.2h0M380.2 137.2h0M371.7 575.4h0M355.5 640.8h0M223.2 423.8h0M509.4 331.4h0M531 133.8h0"/>
<path stroke="#21a585" d="M735.6 172.4h0M260.5 116.2h0M758.3 271.6h0M433.6 397.1h0M813.2 241.2h0M628.6 510.1h0M481.7 268.6h0M379.9 514.2h0M330.9 282.6h0M185.8 225h0M362.2 343.6h0M534.7 472.8h0M749.9 260.7h0M822 270.2h0M721.3 580h0M473.4 639h0M520.1 205.8h0M262.2 367.6h0M359.7 350.7h0"/>
<path stroke="#bade28" d="M783.8 555.8h0"/>
<path stroke="#35b779" d="M372.2 395.7h0M508.2 583.4h0M554.6 244.8h0M381.9 387.6h0M715.8 387.4h0M290.4 581.3h0M556.8 269.4h0M461.8 229.7h0M544.1 273.5h0M294.8 562.3h0"/>
<path stroke="#1fa088" d="M317.1 191.1h0M322.3 273.1h0M662.3 182.1h0M439.9 489.3h0M394.4 527.7h0M796.7 229.9h0M563.5 573.2h0M509.2 564.4h0M416 481.4h0M379.6 453h0M340.2 170h0M618.3 609.4h0M469.6 430.2h0M306.2 578.7h0M511 462.1h0M461 563.8h0M322.9 532.3h0M266 548.3h0M780.8 608.8h0M278.6 322h0M310.2 570.1h0M472.4 248.1h0M514.8 500.5h0M350.6 178.3h0M596.8 433.9h0M230.7 394.4h0M840.1 275h0"/>
<path stroke="#3d4d8a" d="M179.5 320.5h0M611.5 214h0M821.6 333.5h0M186.8 303.8h0M677.5 296.5h0M840.3 338.2h0M202.4 316.3h0M788.7 358.6h0M824.8 643.6h0M591.4 511.8h0"/>
<path stroke="#89d548" d="M258.1 242.5h0M474.7 197.2h0"/>
<path stroke="#67cc5c" d="M749.3 597.9h0M706.4 168.8h0M590.3 382.3h0M674.7 175.2h0M755.6 218.1h0M707.4 173.9h0"/>
<path stroke="#26818e" d="M839.3 583.5h0M313.6 499.1h0M309.7 208.1h0M543.5 532.2h0M707.6 111.6h0M239.9 516.4h0M369.8 442.1h0M676.3 517.3h0M712.5 560.6h0M447.9 282.5h0M557.3 114h0M454.6 614h0M735.1 509h0M427.7 224.7h0M209.1 534.1h0M262.9 662.2h0M709.6 531.4h0M567.3 495.6h0M447 609h0M222.3 588.8h0M640.3 381.1h0M502.8 548.2h0M737.9 520.2h0M274.1 425.6h0M696.1 522.3h0M330 608.6h0M605.9 116.6h0M268.2 627h0M236 586.2h0"/>
</g>
<rect class="s" x="145.5" y="70.5" width="731.0" height="632.0"/>
</g>
<g>
<path class="g" d="M933.0 70.5V702.5M1099.5 70.5V702.5M1266.0 70.5V702.5M1432.5 70.5V702.5M1599.0 70.5V702.5"/>
<g class="d">
<path stroke="#453581" d="M1073 259.2h0M1446 109.5h0M1026.6 110.2h0M1534.5 659.3h0M1309.7 465.6h0M1415.2 112.6h0M1124.2 148.1h0M951.2 630.7h0M1425 342.3h0M1091.9 261.2h0M1199.6 445.6h0M1540.7 657.2h0M1321.5 262.4h0M1505.7 658.5h0M1384.5 112.4h0M1035.8 346.7h0M1509.7 256.3h0M1158.9 336.7h0M1192.7 110.4h0M1065.9 663.9h0M1463.3 430.3h0"/>
<path stroke="#35b779" d="M1518.4 318.1h0M1184.3 284.9h0M1093.3 284.7h0"/>
<path stroke="#404588" d="M1447.6 665.6h0M1592.8 482.8h0M1093.5 661.7h0M1525.5 339.8h0"/>
<path stroke="#228d8d" d="M1495.7 277.9h0"/>
<path stroke="#2b748e" d="M1248.6 672.9h0M934.1 446.1h0"/>
<path stroke="#21a585" d="M1087.8 320.2h0M1587.2 321.7h0"/>
<path stroke="#24878e" d="M1393.4 275.1h0M1163.5 278h0"/>
<path stroke="#1fa088" d="M1266.8 320.6h0"/>
<path stroke="#481c6e" d="M1081.5 530.2h0M1025.6 230.6h0M1457.9 197.1h0M1293.4 577.8h0M1319.8 147.9h0M1412.3 385.8h0M1463.5 617.3h0M1526.7 225.6h0M967.7 448.9h0M1054.5 602.9h0M1260.6 541.5h0M1386.5 431.5h0M1482.2 448.7h0M1491.2 485.5h0M1222.6 548.8h0M1253.9 447.2h0M1381.4 639.4h0M1271.2 479.2h0M1072.8 471.1h0M994.1 575h0M1555.8 628.7h0M1128.8 617.4h0M1503.8 185.3h0M1547.3 564h0M1393.5 143.1h0M1272.9 176.7h0M1490.1 534.5h0M1510.3 566.1h0M1532.1 525.7h0M1183.9 482.2h0M1551.5 585.2h0M1524.8 618.1h0M982.9 552.2h0M987.2 474.5h0M1541.4 158.3h0M1047.9 247.6h0M1126.9 198.7h0M1194.3 177.3h0M1046.3 514.8h0M1027.3 532.9h0M1561.9 574.4h0M1288.7 542.6h0M1071.7 388.8h0M1129.3 353.1h0M1104.1 181h0M1319.4 524.8h0M1047.7 221.5h0M979.1 502.8h0M1184.1 417.7h0M1291.9 651.9h0M1484.4 527.8h0M1231.6 473.8h0M967.4 462.8h0M987 376.5h0M1069.2 179.9h0M1154.9 345.3h0M1572.9 552.9h0M1063.7 652.6h0M973.4 477h0M1468.3 466.1h0M1460.8 222.2h0M973.9 593.3h0M1411.4 591.9h0M1562.2 624.3h0M1357.7 583.6h0M1165.9 220.6h0M1000.8 440.2h0M1248.3 533.4h0M1224.1 473.4h0M1477.5 506.9h0M1102.8 238.1h0M1058.4 427.2h0M983.9 369.3h0M1380.9 140.4h0M1035.7 436.4h0M1107.4 558.3h0M1137.9 211.3h0M1559.7 232.5h0M1426.5 363.7h0M1516 153.5h0M1012.1 643.1h0M1160.3 460.7h0M1372 526.6h0M1422.5 551.1h0M1018.8 541.6h0M1317.6 526.9h0M1532.4 149.2h0M1182.4 422.2h0M1308.7 137.5h0M1133.2 175.9h0M1421.4 468.9h0M1405.3 388.6h0M1374.1 417.4h0M1496.9 511.1h0M1175.2 369h0M1502.8 153.2h0M1467.9 621.6h0M1362.9 579h0M1513.1 558.9h0M1552.4 484.5h0M1473.8 348.2h0M1342.4 152.6h0M1013.2 450.6h0"/>
<path stroke="#460a5d" d="M1048.3 459.4h0M1533.1 445.5h0M1046.5 137.9h0M1520.9 443.7h0M1006.7 608h0"/>
<path stroke="#25ac82" d="M1372.2 319.8h0M1572.6 319.3h0"/>
<path stroke="#297b8e" d="M1177.7 325.8h0M1369.8 99.1h0M933.3 368.7h0"/>
<path stroke="#433d84" d="M1392.5 108.4h0M1282.1 343.2h0M1067.5 263.3h0M1158.3 664.9h0M1169.9 260.6h0M1491.7 109h0M1588.5 372.2h0M1114.9 109.4h0"/>
<path stroke="#77d153" d="M1119.1 310.6h0"/>
<path stroke="#34618d" d="M1208 101h0M1576 670.7h0"/>
<path stroke="#4cc26c" d="M1219.7 287.3h0M1490.8 288.2h0M1218.3 287.7h0"/>
<path stroke="#481467" d="M1460.2 575.3h0M1444.3 565.4h0M1031.8 619.8h0M1441.2 579.5h0M1007.2 500h0M1043.5 611h0M1543.6 424.7h0M1323.5 168.7h0M1265.4 576.7h0M1423.8 572.4h0M1155.4 603.9h0M990.8 617h0M1235.9 184.2h0M1091.7 551.3h0M1444 626.4h0M1508.2 189.4h0M1452.3 571.4h0M1546.2 216.5h0M1267.6 213.3h0M1543.2 613.9h0M1015.2 492.5h0M1364.4 557.7h0M1200.5 189.2h0M1563.5 209.7h0M1499.1 517.8h0M1166.1 625.8h0M1542 179.5h0M1550 167.6h0M1060.4 167.9h0M1022.3 142.7h0M1143.9 358.4h0M1184 363.9h0M1465.9 588.6h0M1344.9 579.9h0M1140.2 479h0M1437.9 612.5h0M1417.8 546.5h0"/>
<path stroke="#5ac864" d="M1589.1 315.1h0"/>
<path stroke="#482576" d="M1569.1 363h0M1160.1 120h0M1402.9 413.3h0M998.4 200.6h0M1448.7 541.1h0M1264.3 142.2h0M1475.5 449.1h0M1176.8 553.8h0M1248.9 410.8h0M1458.9 563h0M1411.8 622.6h0M1131.2 490.7h0M1087.8 445.8h0M1221.6 599.3h0M1209 358.7h0M1582.9 505.5h0M1140.9 240.5h0M1107.6 135.1h0M1076.7 591.8h0M998.9 565h0M1396.6 473.1h0M1122.8 480.8h0M1480.8 180.5h0M1299.5 358.2h0M960.1 461h0M1417.7 160.4h0M1014.8 411.3h0M1046 245.8h0M956.2 599.6h0M1175.7 213h0M1268 368.9h0M1250.6 475.8h0M1466.3 355.6h0M1514.6 410h0M1368.5 158.6h0M1451.7 194.7h0M1267.4 633.2h0M1289.9 373.6h0M1081.1 452.1h0M1445.7 350.9h0M1380.5 516.8h0M977.6 355.4h0M1048.1 377.1h0M1265.6 120.9h0M1315.4 634.9h0M1390.2 147.6h0M1511.5 385.3h0M1440.5 242.9h0M1536.9 215h0M1343.8 371.5h0M1411.1 359.1h0M1131.6 423.8h0M1479.1 115.3h0M1399.9 434.4h0M1020 374.4h0M1375.6 408.8h0M1081.3 163.1h0M1203.8 151.4h0M1069.8 477.8h0M1407.8 244.1h0M1046.7 559.9h0M1364.1 202.3h0M1207.7 477.5h0M1158.8 508.9h0M1380.3 125.5h0M1238.2 646.6h0M1190 379.2h0M1512.2 403.3h0M1519.8 375.2h0M1042.3 114.4h0M1250.8 594.3h0M1249.7 590.5h0M1132.6 503h0M1475.1 556.5h0M1494.1 380.6h0M1237.6 526.4h0M1040.5 417.2h0M970.7 129.8h0M987.6 133.4h0M976.2 514h0M1016.3 236.7h0M1471.2 527.1h0M1068.8 158.1h0M1522.7 140.5h0M1405.1 370.7h0M1092.2 235.1h0M1211.7 581h0M953.4 523.2h0M1267.8 446.2h0M1069.6 359.7h0M1100.5 213.4h0M1335.6 374.2h0M1443.3 380h0M1028.7 227.9h0M1305.6 437.1h0M1583.4 164.9h0M1479.8 437.5h0M1014.1 533.7h0M1293.6 119.9h0M1070.8 437h0M1087 127.7h0M988.4 538.6h0M1314.5 658.4h0M1054.3 234.6h0M1466.7 402.7h0"/>
<path stroke="#26818e" d="M1276 325.6h0M1552 275.5h0M1573.7 326.7h0"/>
<path stroke="#31688e" d="M973.8 100.6h0M1292.5 330.4h0M1332.7 332h0M979.6 670.2h0M999.3 332.2h0"/>
<path stroke="#fde725" d="M943.9 297.2h0"/>
<path stroke="#3a538b" d="M1051.8 668.4h0M1592.6 367.8h0"/>
<path stroke="#375b8d" d="M965.6 334.6h0M1594.6 615.4h0M1129.9 667.8h0M1565.4 103.7h0"/>
<path stroke="#bade28" d="M1308.1 304.2h0M1371.9 305.7h0"/>
<path stroke="#20938c" d="M933 673h0M1304.8 322.8h0"/>
<path stroke="#3d4d8a" d="M1170.6 104.9h0M1320.7 104.1h0M1450.6 264.5h0M1429.8 666.8h0M1183.4 105.2h0"/>
<path stroke="#89d548" d="M1330.8 288.8h0M1257.1 310.3h0M1197 303.1h0"/>
<path stroke="#472d7b" d="M1364.9 390.3h0M1318.3 376.3h0M1352.4 521.8h0M1584.7 544h0M1225.4 352.9h0M993.3 247.3h0M1352.7 392.4h0M1075.2 513h0M1388.2 186.2h0M1422.9 195.7h0M1455.3 418.7h0M1161.5 563.5h0M1374.3 183.8h0M947.1 511.4h0M1223.1 441.4h0M1297.6 412h0M1541.4 347h0M1120.6 418.5h0M1036.5 655.3h0M1344.4 217.7h0M1388 659.9h0M1403.4 347.1h0M1498.7 248.7h0M1493.5 640.4h0M1135.8 402.6h0M967.9 621.2h0M1199 128h0M951.7 254.1h0M1329 109.2h0M996.6 166.5h0M1167.7 443.8h0M1370.9 467.2h0M1304 388.9h0M1363.1 123.4h0M1501.1 654.4h0M1110.9 518.4h0M1109.6 450.9h0M1176.4 525.6h0M1214.1 456.4h0M1094.1 494.3h0M1102.1 648.9h0M986.2 148h0M1529.9 124.1h0M1187.4 523.7h0M1392.3 484.7h0M1293.8 460.8h0M1293.2 201.1h0M1411.6 115h0M1198.8 565.9h0M1377.5 114.3h0M1123.8 524.6h0M1485.5 251.6h0M1024.6 404.2h0M1477.8 165.8h0M1185.1 494.6h0M1569.1 416.8h0M1085.1 241.4h0M1114.5 485.9h0M1580.9 613.4h0M1221.9 390.9h0M1269.6 349.8h0M1173.9 547.1h0M1178 558.8h0M1572.7 149.8h0"/>
<path stroke="#98d83e" d="M1365.1 307.9h0M1088.8 307.3h0M1381.6 298.2h0M1474.4 301.8h0"/>
<path stroke="#67cc5c" d="M1384 291.4h0M1004.9 286h0M1055.9 312.2h0M1458.5 312.8h0"/>
<path stroke="#2db27d" d="M1503.7 284.2h0M1534.2 282.4h0"/>
<path stroke="#aadc32" d="M1002.1 310.7h0M1135.6 304.6h0M952.9 313.6h0"/>
<path stroke="#2e6e8e" d="M1467.3 327.6h0M1049.6 328.9h0M1145.8 671.5h0"/>
<path stroke="#21a585" d="M1569.3 280.7h0"/>
<path stroke="#31688e" d="M1341.4 99.9h0"/>
<path stroke="#77d153" d="M1151.6 311.1h0M1059.7 287.5h0"/>
<path stroke="#482576" d="M1416.2 177h0M1384.1 173.5h0M1247.1 381.7h0M1225.2 585.8h0M1579.1 123.4h0M1260.5 156.3h0M1209.1 115.1h0M1191.5 169.8h0M1424.6 443.3h0M1355.9 142.5h0M1460.1 459h0M1451.9 651.5h0M1012.5 579.7h0M1354.3 207.7h0M1273.5 529.8h0M1308.9 219.8h0M1566.2 602.5h0M1219.8 497h0M1191.4 537.1h0M1236.2 596.7h0M1434 447h0M1312.5 490.3h0M1420.5 149.2h0M1388.5 473.5h0M1055.5 653.3h0M1491.8 616.9h0M1354.1 629.8h0M1434.4 213.6h0M1181.5 589h0M1203.6 555.7h0M1044.3 408.9h0M1193.8 410.1h0M1306.4 656.5h0M1559.5 430h0M1432.9 649.1h0M1254 636.3h0M1453.9 364.9h0M1509.1 553.7h0M959.9 577.9h0M1571.9 646.4h0M1263.6 397.5h0M1249.1 493.3h0M1398.3 390.7h0M1364.5 135.7h0M1062.6 564.1h0M970.1 389.1h0M1401.5 606.4h0M1427.9 354.3h0M1079.7 403.9h0M1173.4 242.2h0M1232.9 154h0M1313.8 362.7h0M1425.9 184.5h0M1402 477.7h0M1396 627.4h0M1422.8 654.9h0M969.4 203.6h0M1225.5 489.1h0M1197.8 218.8h0M1146.8 157.3h0M1456.3 133.7h0M1163.6 231.8h0M1115.8 367.1h0M1505.1 235.7h0M1306 476.9h0M1397.3 208.2h0M1073.6 121.5h0M1425 153.8h0M1406.3 528.1h0M1579.4 464.1h0M1022 200.4h0M1148.3 239.8h0M1276.6 458.7h0M1017.9 421.4h0M1434.8 371.8h0M1195.1 356.4h0M1144.4 614.3h0M1338.9 656h0M1110.7 141.9h0M1169.6 146.4h0M1327.7 118.3h0M1313.1 437.8h0M1450.9 547.8h0M1461.3 538.3h0M1178.8 403.2h0M1257.5 650.8h0M1002.3 651.2h0M1202.8 501.2h0M1212.6 620.8h0M1015.1 357.5h0M998.7 141.8h0M1483 371.3h0M1115.4 236.3h0M1278.2 141.3h0M1246.4 643.7h0M1274.7 385h0M1097.7 517.2h0M1084.4 480h0M1423.5 374.9h0M1575.5 125.8h0M1537.1 635.9h0M1014.6 178.4h0M983.1 190.1h0M1129.1 488.3h0M1510.4 127.1h0M1238 149.9h0M955.4 237.5h0"/>
<path stroke="#1f998a" d="M1508.6 320.8h0M1071.3 322.6h0M1101.3 321.3h0M1539.1 322.3h0"/>
<path stroke="#fde725" d="M960.5 299.6h0"/>
<path stroke="#98d83e" d="M1228.6 298.5h0M1459.6 297.6h0M1470.6 306.2h0M1558.2 291.7h0M1078.6 294.4h0"/>
<path stroke="#25ac82" d="M1136.2 319.2h0"/>
<path stroke="#aadc32" d="M1363.6 302.9h0M991.8 291h0"/>
<path stroke="#3a538b" d="M939.4 176.8h0M1251.4 266.2h0M1094.6 666.7h0M1194.4 668.8h0M1594.2 109.8h0M1193.7 332.8h0M1384.2 668.5h0"/>
<path stroke="#cde11d" d="M1027.9 296h0"/>
<path stroke="#35b779" d="M1284.5 318.6h0M1154.5 286.5h0M1350.3 285.3h0"/>
<path stroke="#472d7b" d="M1099.7 568.9h0M1581 228.3h0M1580 202.5h0M1379.6 245.6h0M1057.1 255h0M993 221.8h0M1379.4 219h0M1412 218.4h0M1098.6 248.2h0M952.3 572.8h0M1096.8 486.9h0M1409.4 179.4h0M1427.3 110.8h0M1395.9 223.2h0M1450.5 433.1h0M1155.4 155.5h0M957.9 251.8h0M967 122.4h0M1082.9 589.7h0M1327.4 459.3h0M960.8 201.2h0M1575.8 408.6h0M1100.3 446.9h0M1196.1 138.6h0M1205.4 470.7h0M1469.5 444.6h0M950.3 660.9h0M1536.9 259h0M1117.3 497.8h0M1278.9 396.6h0M1399 599.4h0M1318.7 208.9h0M1229.9 394.7h0M1555.2 372.8h0M1289.1 420.7h0M956.6 391.4h0M1256.8 374.7h0M955.8 366.8h0M1395.6 250.4h0M958.1 628.3h0M1196.3 559.6h0M1452.6 373.7h0M1121.2 154.8h0M1452.7 439.9h0M1335.9 253.6h0M1057.8 574.2h0M1481.4 347.8h0M1329.4 230.7h0M1379.2 622.1h0M1168.4 134.1h0M1481.2 413.9h0M1019.1 252.6h0M1357.2 350.2h0M977.4 114.1h0M1377.6 355h0M1478.9 358.3h0M1179.3 582.3h0M1038.4 388.1h0M1375.2 348.9h0M1439.3 411.6h0M1436 500.3h0M1102.7 593.5h0"/>
<path stroke="#89d548" d="M1281 290.6h0"/>
<path stroke="#228d8d" d="M1530.8 326.2h0"/>
<path stroke="#67cc5c" d="M1592.2 285.5h0"/>
<path stroke="#481467" d="M1568.9 478h0M1516.9 184.5h0M1479.3 591.3h0M1043.7 162.6h0M1529.7 464.8h0M1330.6 171.4h0M1040 160.8h0M1316.5 567h0M1527 590h0M1270.5 242.4h0M1550.1 534.8h0M1188 637.3h0M1143.4 642.3h0M1239 567.6h0M1032.4 469.4h0M1064 548.9h0M1483.8 191.7h0M1079.1 138.5h0M1068.6 544.3h0M1066.9 542.2h0M1421.9 127.8h0M994.6 395.9h0M1393.7 564h0M1136.7 190.1h0M1267 554.1h0M1536.3 479.7h0M1491.5 584.9h0M1438.9 590.7h0M1008.8 469.7h0M1472.2 595.8h0M1551.9 427.4h0M1432 637.7h0M1247.2 450.1h0M1320.2 653.5h0M1244.1 531h0M997.5 486.2h0M1161.2 640.2h0M1033.8 528.8h0M1336.1 630.1h0M1320.9 597.9h0M1374.9 546h0M1213.9 642.1h0"/>
<path stroke="#24878e" d="M1011.5 325h0M1245.7 324.5h0M1050.2 276.8h0"/>
<path stroke="#481c6e" d="M976.3 560.8h0M1112.5 379.9h0M1523.2 637.1h0M1288.6 155.3h0M1336.8 540.9h0M1333.9 547.6h0M1168.5 654.3h0M1004.8 187.6h0M997.2 428.6h0M1041.9 438.5h0M1230.8 550.3h0M1491.9 229.6h0M971.5 448.4h0M1449.7 366.9h0M1027.1 164.7h0M1367.9 415h0M1156.4 483.7h0M1456.7 209.4h0M1232.1 573.9h0M1232.3 419.4h0M1474.6 203.3h0M1492.6 143.8h0M1467.3 137.3h0M1505.7 416h0M1149.7 389.1h0M1318 150.5h0M1024.9 507.8h0M975.1 582.1h0M1040.2 501.8h0M1383.3 537.8h0M1428.3 232.3h0M1445.8 486h0M1534.8 546.7h0M1371.2 567.2h0M1521.5 576.1h0M1130.1 169h0M1090.1 134.8h0M1520.4 631.1h0M1284.4 523.1h0M1018.9 440.5h0M1036.4 158.7h0M1159.1 168.3h0M1222.3 652.5h0M1443.4 461.4h0M1075.1 557h0M1307.2 498.1h0M1570.1 501.6h0M1331 404.9h0M1227.2 221.5h0M1287.6 603.8h0M1512.1 644.6h0M1322.7 418.9h0M1157.5 485.3h0M1336.6 157h0M984.2 126.8h0M1182.5 612h0M991.6 407.1h0M1562.7 474h0M1530.6 403.6h0M1145.9 178.8h0M1480.2 477.3h0M1262.2 615.3h0M1463 488.1h0M1469.2 211.2h0M1134 621.5h0M1574.6 219.5h0M1262.6 427.8h0M1553.1 237h0M1261.7 508h0M1476 620.9h0M1290.7 144.1h0M1397.5 549h0M1085.2 546.4h0M1307.6 157.7h0M1303.3 129.6h0M1469 634.4h0M1454.5 603.4h0M1459.1 139.7h0M1163.7 619.1h0M1244.9 175.6h0M1413.1 644h0M973.1 413.7h0M1522.9 561.6h0M1413 123.8h0M1151.4 215.1h0M1361.6 411.2h0M1235.4 501.7h0M1332.1 626h0M1327.8 623.9h0M1169 393.3h0M1141.5 383.1h0M1494.8 222.9h0M1221.2 484.6h0M969.7 556.3h0M954.8 496.2h0M967.6 244.2h0M1577.4 226.2h0M1138.5 161.4h0"/>
<path stroke="#375b8d" d="M1044.1 333.8h0M1180.5 332.5h0M1464.4 669.8h0M1471.7 269.2h0M1172.3 102.6h0M1082.5 668.8h0M1585.3 266.3h0"/>
<path stroke="#453581" d="M1153.8 132h0M1295.4 664.7h0M1516.2 342.7h0M1433.9 260.4h0M1121.4 341.2h0M1005.2 343.8h0M1066.6 344.6h0M1346.7 228.9h0M1123 653.7h0M1130.7 340.8h0M1054.3 261.7h0M949 601.5h0M1378.4 402.1h0M1176.1 256.5h0M1588.6 548.1h0M1560.3 140h0M1220 345h0M950.2 418.5h0M1357.8 230.5h0M1581.4 425.3h0M1579.8 399.5h0M1448.3 343.5h0"/>
<path stroke="#4cc26c" d="M1556.4 315.7h0M1018.1 285.1h0M1352.2 315h0M937.9 281.8h0M1429.5 289.7h0"/>
<path stroke="#460a5d" d="M1043.9 530.8h0M1164.8 638.1h0M1431.7 561.9h0M1044.9 466.6h0M1360.2 425.8h0M1029.3 135.5h0"/>
<path stroke="#433d84" d="M1120.7 660.4h0M1095.4 339.6h0M1132 531.3h0"/>
<path stroke="#34618d" d="M1062.8 330.8h0M1598.2 519.4h0M1140.7 269.4h0M1444.6 331.8h0"/>
<path stroke="#2b748e" d="M933.1 467.9h0M1581.2 272.3h0"/>
<path stroke="#40bd72" d="M1187.3 314.1h0"/>
<path stroke="#5ac864" d="M1390.6 312.1h0"/>
<path stroke="#26818e" d="M1078.9 326.5h0"/>
<path stroke="#bade28" d="M1413.4 303.3h0"/>
<path stroke="#3d4d8a" d="M1208.6 265.6h0M1248.1 335.7h0M1103.3 267h0M1270.7 102.9h0M1026.8 335.9h0M947.3 339.3h0M1054.7 104h0M1591.2 344.3h0"/>
<path stroke="#404588" d="M1593.3 236.4h0M1221.1 263.8h0M942.8 623.6h0M1059.9 337.5h0M1488.3 262.8h0M949.6 104.8h0M1593.9 486.9h0M1113.4 338.4h0M1145.1 334.9h0"/>
<path stroke="#2b748e" d="M1148 100.2h0M1014.4 672.3h0"/>
<path stroke="#77d153" d="M1244.8 293.6h0M1291.6 311.4h0M1285.4 313.5h0"/>
<path stroke="#40bd72" d="M1116.9 285.9h0"/>
<path stroke="#20938c" d="M1368.1 278.7h0M1254.7 321.6h0M1599 673h0"/>
<path stroke="#5ac864" d="M1162.1 290.4h0M1158.5 288h0"/>
<path stroke="#dde318" d="M1531.9 307h0"/>
<path stroke="#228d8d" d="M1149.5 323h0"/>
<path stroke="#2db27d" d="M1056.2 317.3h0M1425.4 284.6h0"/>
<path stroke="#481467" d="M1570 546.1h0M1522 454.1h0M1517.2 597h0M1549 456.5h0M1420.6 553.2h0M1073.2 635.7h0M1026.3 486.5h0M1009.7 637.1h0M1001.1 630h0M1284.7 551.4h0M993.7 378h0M1076.1 641.7h0M1554.3 186.6h0M1164.5 353.7h0M1207.1 180.1h0M1131.8 610.3h0M1524 487.3h0M1241.9 560.2h0M1239.6 212.2h0M1065.7 186.7h0M1302 580.4h0M1533.4 468.5h0M1213.7 204.3h0M1542.7 532.7h0M1002.3 392h0M1247.5 217.3h0M1555.7 441.3h0M1312.1 610.6h0M1274.3 246.5h0M1294 251.2h0M1147.1 180.4h0"/>
<path stroke="#404588" d="M940 489.9h0M1590.6 253h0M1096.5 110.6h0M1234.3 103.5h0M1462.2 667.7h0M939.7 113.6h0"/>
<path stroke="#21a585" d="M1010.4 321.2h0"/>
<path stroke="#aadc32" d="M1394.4 298.6h0M1573.5 305h0M1238.4 305.5h0M946.3 290.5h0M1477.3 295h0M1300.1 301.5h0"/>
<path stroke="#fde725" d="M1598.6 300.8h0"/>
<path stroke="#1fa088" d="M969.9 322.9h0M1199.8 320h0M1040.4 280.9h0M1505.5 282.1h0"/>
<path stroke="#460a5d" d="M1003.3 605.3h0M1264 200h0M1185.7 631h0M1538.3 191.5h0"/>
<path stroke="#433d84" d="M944.1 518.1h0M1487.6 107.2h0M1552.7 107.5h0M942.4 465.2h0M962.7 108.8h0M1053.9 341.9h0M1183 261.4h0M946.1 407.7h0M1226.8 340.5h0M1591.4 497.4h0"/>
<path stroke="#67cc5c" d="M1051.4 291.3h0M1204.3 309.3h0"/>
<path stroke="#24878e" d="M1463.2 276.2h0M1346.5 325.2h0"/>
<path stroke="#481c6e" d="M1485 472.4h0M1530.4 206.6h0M1144 492.5h0M1323.3 538.1h0M1086.4 182h0M1255.7 440.9h0M1174.4 416.2h0M1541.2 498.9h0M1493.2 398.5h0M1001.5 131h0M1340 159.4h0M961.2 563.3h0M1534 415.1h0M1459.3 198.6h0M1233.3 495.1h0M1436.4 607.6h0M1283.1 597.3h0M1506.8 439.6h0M1549.7 508.7h0M1092.3 602.4h0M1132 226.4h0M1058.2 230h0M1518.5 523.9h0M1231.1 631.5h0M1326.6 638.5h0M1160.7 398.4h0M962.3 485.7h0M1300.5 137.1h0M1277.3 220.2h0M1035.9 499.7h0M1128.6 233.5h0M988.8 495.7h0M1212.9 557.5h0M1452.4 471.8h0M1042.7 491.3h0M1407.3 136.2h0M1021.8 641.6h0M1353.2 572h0M1567.3 419.5h0M1495.4 487.6h0M1093.7 153.9h0M1272.3 489.7h0M1488.6 496h0M1318.4 133.3h0M1196.5 206.4h0M1511 451.4h0M1501.7 375.5h0M1387.9 419.2h0M1172.8 479.5h0M989.6 598.1h0M1261.8 535.2h0M1019.9 471.3h0M1164.3 487.7h0M1440.9 619.2h0M1443 577.7h0M1243.7 226.1h0M1048.8 639.2h0M1110.4 200.8h0M1543.9 491.5h0M1292.6 520.3h0M1154.4 187.5h0M1112.5 171.7h0M1506.2 159.5h0M1517.9 432.4h0M1047 645.8h0M1120.8 185.7h0M1210.9 179.7h0M1248.5 178h0M1256.7 471.7h0M1218.1 172.5h0M1360.7 590.2h0M1372.6 552.7h0M1294.8 509.1h0M1530.9 515.1h0M1393.3 427h0M1150.1 649.5h0M1125.2 573.6h0M1319.1 442.4h0M1342.2 554.5h0M1199.3 212.7h0M1080.2 386h0M1456.5 573.8h0M991.3 488.3h0M1239.4 634.2h0"/>
<path stroke="#4cc26c" d="M1423.2 313.7h0M1319.5 316.9h0"/>
<path stroke="#bade28" d="M1127.4 297.7h0M1249.1 296h0"/>
<path stroke="#98d83e" d="M1493 299.4h0M1097.3 296.3h0"/>
<path stroke="#34618d" d="M1243.4 270.1h0M1595.9 171h0M1111.1 331.6h0"/>
<path stroke="#3a538b" d="M1535.5 267.9h0M1361.7 336.1h0M1122.5 104.4h0M936 479.1h0M1092.5 105.7h0M1453.3 104.5h0M1593 105.8h0"/>
<path stroke="#89d548" d="M1445 299.9h0M1525.8 290h0M1132.8 293.4h0"/>
<path stroke="#297b8e" d="M1413.8 326.4h0"/>
<path stroke="#2e6e8e" d="M934.2 256h0M966.2 671.7h0M1188.7 328.7h0M1127.7 329.6h0"/>
<path stroke="#25ac82" d="M1457.5 316.7h0"/>
<path stroke="#472d7b" d="M1561.7 118.6h0M1400.2 496.6h0M1121 538.8h0M1449.1 420.8h0M1581.6 356.9h0M1171.8 540.5h0M1021.7 397.4h0M1385.4 232.8h0M1169.4 551.7h0M1378.1 204.4h0M1068.4 347.3h0M981 183.4h0M948.3 586.7h0M1130.5 509.6h0M950.7 153.1h0M1180.6 504.7h0M953.6 551.5h0M1194.5 112.7h0M1364.7 512.6h0M1108.8 122.7h0M972.3 347.6h0M1544.3 115h0M958.2 208.4h0M1465.2 424h0M1400.6 156.2h0M955.2 603.6h0M1391.6 172.8h0M1219.5 663.7h0M954.4 420.6h0M1323.1 660.2h0M999.5 249.7h0M1197.2 385.5h0M1138.3 444.8h0M1586.7 152.1h0M1325.1 488.5h0M1381.3 198.1h0M1300 400.8h0M1446.7 428.2h0M966.3 178.9h0M1275.6 402.9h0M1083.3 423h0M1038.4 370.2h0M1152.8 520.8h0M1428 429.4h0M1282.3 418.4h0M1163 511.2h0M1041.4 363.4h0M1294.2 455.9h0M1040 348.8h0M1235.2 348.6h0M1392.5 351.9h0M974.1 240.2h0M1153.6 571h0M1117.6 157.2h0M1281.1 407.8h0M1475.7 244.5h0M1292.9 398.7h0M968.6 513.3h0M1213.4 401.3h0"/>
<path stroke="#cde11d" d="M1561.2 298.4h0M1297.8 294.8h0M1010.7 308.3h0"/>
<path stroke="#375b8d" d="M1083.5 271h0M1216.4 330.8h0M1035.6 266.5h0M936.7 242.3h0"/>
<path stroke="#482576" d="M1545.3 136.3h0M1453.1 207h0M1441.4 382.4h0M1499.3 561.3h0M1459.9 377.6h0M1305.8 359.8h0M1000.1 120.6h0M1098.4 220.9h0M974.3 606.3h0M1468.5 384.8h0M1390.4 653.2h0M1105.2 164.2h0M1109.4 243h0M1468.2 245.2h0M986.1 549.9h0M1255.2 389.9h0M1213.1 512.9h0M1159.4 455.5h0M1466.1 490.8h0M1103.7 346h0M1202.5 160.5h0M971.9 635.4h0M1275.9 515.5h0M1297.3 179.1h0M1386.2 480.2h0M962 426.9h0M1095 537.1h0M1495.3 353.5h0M1471.4 150h0M1514.3 356.2h0M1445.4 201h0M1057.4 376.7h0M1395.4 456.2h0M1278.6 199h0M959.2 456h0M1201 595.1h0M1098.2 140.9h0M1384.7 586h0M1126.5 377.8h0M1193 354.5h0M1519.6 393.2h0M1166.2 453.4h0M1474 502.4h0M1355.4 249.9h0M1521.7 220.7h0M1333.8 145.8h0M1402.7 179.7h0M1023.6 577.1h0M1274.5 465h0M969 400.7h0M1165 396.3h0M1224.3 373h0M1533.8 565.8h0M1100.9 152.3h0M1561.1 395.3h0M964.3 358.1h0M1382 377.3h0M968.4 136.9h0M1189.6 248.6h0M1120.2 522.5h0M1034.1 648.6h0M1557.7 537.5h0M1537.3 130.3h0M1398 521.2h0M1183.6 596.9h0M1342.6 529h0M1020.2 392.3h0M1086.9 565.4h0M1228 574.6h0M1162 407.5h0M1157.2 426.4h0M1201.4 361.5h0M1062 399.1h0M1470.1 566.6h0M1234 602.4h0M967.3 382.7h0M1145 424.5h0M990.6 233h0M975.3 125.3h0M1447.4 166.7h0M1412.3 452h0M1537.9 388.4h0M1359.8 613.2h0M1175.9 446.4h0M955 155.2h0M1132.9 409.3h0M1404.5 635.6h0M1573 646h0M1583.5 182h0M1193.3 163.2h0M1296 351.6h0M1278 518.2h0M1183.1 234.7h0M1172.2 493.8h0M1502.6 443.9h0M1370 594h0M1482.6 568.4h0M1441.1 122.6h0M1210.1 506.2h0M1070 592.4h0M1119.2 391.8h0M986.5 632.4h0M1482.3 635.1h0M1261.4 404.3h0M1470.4 189.9h0M1117.5 541.2h0M1487.3 366.4h0M1258.6 434.1h0M1548.9 381.4h0M1103.9 543h0M1028.3 116.5h0M1238.8 369.9h0M972.4 157.8h0M1100.7 636.6h0M1478.2 226.9h0M1491 405.3h0M1226.4 537.6h0M1227.9 460h0M1461 455h0M1578.4 449.9h0M1189.1 140.7h0M1139 502.6h0"/>
<path stroke="#3d4d8a" d="M1324.2 667.7h0M1542.5 335h0M963.9 337.2h0M1504.2 105.1h0M1593.2 604.6h0M974.5 265.1h0M1479.7 265.5h0M1294.7 337.1h0M1338.7 264.8h0"/>
<path stroke="#31688e" d="M1596.6 121h0M1597.7 142.4h0M1043.2 270.4h0"/>
<path stroke="#453581" d="M1367.3 469.3h0M1438.7 115.8h0M1324.9 353.4h0M1094.2 342.5h0M1259.3 105.9h0M1139.7 658.1h0M1076.5 114.8h0M1289 663.1h0M1581.8 590.4h0M1343.3 213.7h0M1162.8 536.8h0M1315.2 348.1h0M946.7 170.3h0M947.4 429h0M1142.6 136.7h0M1355.4 223.7h0M1513.9 113.2h0M1302.2 462.9h0M1587.7 214.4h0M1587.3 447.3h0M951.4 210.8h0M1461.5 340.6h0"/>
<path stroke="#460a5d" d="M1262.4 230.3h0M1257.4 195.1h0M1339.9 543.3h0M1524.9 169.7h0M1331.1 577.2h0M1167.2 630.7h0"/>
<path stroke="#1fa088" d="M1232.4 283.2h0M1403.1 280.4h0M1235.6 280.8h0"/>
<path stroke="#453581" d="M1567.6 659.7h0M1345.1 463.5h0M1253.7 259.5h0M1128.9 111.8h0M1585.8 594.5h0M1217.7 108h0M1144.2 115.4h0M1440.3 533.5h0M1205.7 447.7h0M1489.3 663.2h0M1520.7 254.8h0M988.1 660.3h0M1315.6 211.6h0M1136.5 552.1h0"/>
<path stroke="#31688e" d="M1480.6 100.3h0M1597.3 250.3h0M1458.6 329.4h0M1041.1 101.3h0"/>
<path stroke="#3a538b" d="M1112.7 665.4h0M1173.3 267.7h0M1236.4 101.7h0M1592.9 600.8h0M1181.2 669.1h0M1270 267.3h0"/>
<path stroke="#26818e" d="M1191.9 277.8h0M1213.3 323.9h0M1025.8 274.7h0M1378.5 327h0"/>
<path stroke="#433d84" d="M1426.7 261h0M1583.8 414.7h0M992.7 341h0M1551.3 108.1h0M1260.4 344.4h0M1155.2 542.9h0M1068.1 107.8h0M1400.7 664h0M1366.4 259.6h0M1588.2 569.8h0M943.3 451.3h0"/>
<path stroke="#aadc32" d="M1061.8 298.7h0M1586.3 307.7h0"/>
<path stroke="#25ac82" d="M1420.4 320.4h0"/>
<path stroke="#1f998a" d="M1583.9 278.6h0"/>
<path stroke="#89d548" d="M1101.6 308.5h0M1255 307.6h0M1483.3 309.2h0"/>
<path stroke="#bade28" d="M1582.5 295.9h0"/>
<path stroke="#2e6e8e" d="M933.4 127.4h0"/>
<path stroke="#34618d" d="M1372.8 268.7h0"/>
<path stroke="#cde11d" d="M1011.8 302h0M1544.4 300.9h0"/>
<path stroke="#dde318" d="M1021.6 300.4h0M1075.6 301.1h0"/>
<path stroke="#20938c" d="M1147.5 279.9h0"/>
<path stroke="#77d153" d="M1261.2 289.4h0M1213.6 301.1h0M1451.7 310.4h0M1295.6 288.2h0"/>
<path stroke="#404588" d="M1496.7 338.9h0M1399.8 263.4h0M938.8 504.5h0M1281.4 667.1h0M1121.6 262.2h0M1218.5 337.5h0M1258.8 264.4h0M1426.2 105.5h0M948.7 260.9h0M1590 571.7h0"/>
<path stroke="#297b8e" d="M1034.9 99.2h0M1027.6 672.6h0M1241.5 326.6h0"/>
<path stroke="#481c6e" d="M1130.9 588.5h0M1509.3 632.7h0M1419.3 480.1h0M1186.1 475.5h0M1151.8 391.2h0M1488.8 155.3h0M1311.6 423.7h0M1134.2 219.6h0M1553.7 496.8h0M1052 173.3h0M974.7 384.5h0M1087.3 212.3h0M1567.9 438.2h0M1289.7 570.6h0M1481.8 157.4h0M1494.2 460.8h0M1017.7 188.4h0M1494.6 455.7h0M1002.8 145.6h0M1518.3 234.9h0M1338.5 433.6h0M1342.1 192.3h0M1088.4 149h0M1351 601.1h0M1230.3 524.3h0M1500.6 146.5h0M1424.8 539.9h0M1242.3 401.7h0M1361.2 177.7h0M1280.4 536.4h0M1557.5 169.1h0M1048.7 119h0M1551.1 352.3h0M1079.5 206.3h0M1442.2 642.7h0M1000.4 461.6h0M1554.8 570h0M1391.5 534.8h0M1310.6 176.1h0M972.1 498.3h0M1240.1 466.3h0M990.4 430.7h0M1019.7 130.7h0M1018.6 156.6h0M1235.7 417h0M1033.1 214.1h0M981.9 437.7h0M1521.3 379.1h0M1406.7 401.6h0M1419.9 386.5h0M1207.3 412.9h0M1290.9 549.3h0M1223.7 628.9h0M1413.6 403.7h0M1354.5 121.3h0M1358 615.6h0M1045.3 125.6h0M1350.1 188.6h0M1251.6 436h0M1352.1 145.5h0M1317.8 552.4h0M1371.6 646.3h0M1286.9 484h0M1466.4 205.2h0M1484.6 131.9h0M1207.6 359.1h0M1318.9 632.2h0M1167.8 375.4h0M1039 126h0M1125.2 474.1h0M1141.7 463.3h0M1253 414.6h0M1030.2 202.2h0M1168.7 196.4h0M1377.3 587.8h0M1071 555.5h0M1076.8 227.4h0M1269.4 547.3h0M1051.3 488.6h0M1517.6 482.4h0M1090.5 195.9h0M1078.1 179.2h0M1028.5 590.1h0M1258.5 604.8h0M997.9 584.1h0M1573.9 514.6h0M1513.2 422.3h0M1175 468.3h0M1449.9 600.5h0M1057.7 133.1h0M1023.7 121.4h0M1089 386.4h0M1395 578.6h0M1548.5 578.5h0M1503.5 418.1h0M1396.2 570.3h0M1308.9 560.6h0M1511.9 205.7h0M1567.8 186.2h0M1411 425.2h0M1430 457.9h0M1525.1 536.9h0M1326.3 562.7h0M1012.8 463.4h0M1349 164.5h0M1525.6 408.2h0"/>
<path stroke="#3d4d8a" d="M1589.5 392.5h0M1283 104.7h0M1210.3 335.1h0M939.9 355.9h0M1592 661.9h0M941.5 644.9h0M1348.9 336.4h0M1351.6 264h0"/>
<path stroke="#21a585" d="M1237.4 319.5h0"/>
<path stroke="#482576" d="M1497.7 378.2h0M1119.8 547.9h0M1287.9 435.3h0M988.2 185.5h0M1405.9 151.3h0M1250.4 360.8h0M1236.6 478.2h0M1362.4 243.5h0M1421.6 368.6h0M1388.8 133h0M1331.5 380.2h0M1402.2 359.5h0M1324.2 407.3h0M1387.2 154.3h0M1336.3 498h0M959.3 251.4h0M1253.2 128.5h0M1507.7 362.2h0M1016.2 425.9h0M1302.5 258.2h0M1205 568h0M1437 435.8h0M1113.7 536.1h0M1552.6 599.1h0M1008.1 414.3h0M1546.4 580.9h0M1485.7 628.5h0M1185.5 210.1h0M1092.6 597.2h0M1330 507.4h0M1299.3 492.1h0M1404.7 129.9h0M1269.5 160.1h0M1254.6 152h0M1197.7 583.1h0M1441.7 400.4h0M1255.9 253.1h0M1188.1 199.6h0M969.8 527.4h0M1472.1 240.4h0M1242.9 588.2h0M1408.8 121.7h0M1495.8 428.6h0M1483.7 649.6h0M1156.5 600.1h0M1563 574h0M1317 190.2h0M1108.2 400.5h0M1291.2 521h0M1003.2 522.5h0M1030.8 578.9h0M1489 542.8h0M1334.4 392.2h0M1356 564.6h0M1321.8 233.6h0M1110.8 565.2h0M1125 375.9h0M1240.3 383.8h0M1464.2 176h0M1170.3 235.6h0M1220.9 434.7h0M1337.6 483.4h0M1106.9 228.8h0M1272.5 355.8h0M1066.2 419.8h0M1242.2 645.8h0M1369.6 361.2h0M1391.3 167.8h0M976.8 205.4h0M1412.8 582.8h0M1202.7 349.2h0M1286.4 630.5h0M1502.3 630.8h0M1508 647.3h0M1340.8 360.3h0M992.5 537.9h0M1560.5 562.1h0M1099.1 457.8h0M1449.6 483.1h0M1204.2 527.9h0M1283.7 432.9h0M1282.7 184.8h0M1430.7 221.1h0M1167.5 253.8h0M1161.3 143.6h0M1353.4 130.9h0M1026.4 583.8h0M1576.8 503.4h0M1133.7 581.7h0M1074.3 449.7h0M1315.9 257.8h0M1332.8 518.6h0M1500.7 551.9h0M1580.2 557.9h0M1069 657h0M1416.5 163h0M1133.4 384.6h0M1494.6 628.1h0M1023.3 223.9h0M1468.7 125h0M1573.2 204.9h0M1023.8 379.5h0"/>
<path stroke="#481467" d="M1018.2 497h0M1528.8 503.9h0M1005.4 497.9h0M1414 559.2h0M1489.1 187.4h0M1569.5 184.1h0M1157.7 351.3h0M1006.4 593.9h0M1255.9 207.4h0M1290.3 251.9h0M1056.8 632.1h0M1522.3 517.5h0M1062.2 639.9h0M1015.6 612.8h0M1504.4 481.5h0M1077 613.7h0M1498.8 453.3h0M1049 198h0M1212.2 243.8h0M1515.2 163.6h0M1314.9 161.7h0M1478.3 614.2h0M1173 362.3h0M1057 442.9h0M1546 620.6h0M1277.4 249.1h0M1276.9 575.7h0M1138 634.5h0M1031.7 216.7h0M993.2 455.3h0M1230.9 209.5h0M1525.3 510.8h0M1339.4 414.2h0M1403.8 544.1h0M1548.7 460.5h0M1249.9 228.5h0M1434.9 470h0M1039.3 211.7h0M1048 454.5h0M1519.3 195.7h0M1084.2 361.7h0M1326.5 139.6h0M1019.4 629.7h0M1445.9 584.4h0"/>
<path stroke="#375b8d" d="M1593.8 434h0M1527.8 669h0M1313.8 102.3h0"/>
<path stroke="#98d83e" d="M1341.5 308.1h0M1143.2 301.9h0M1508.3 306.8h0"/>
<path stroke="#4cc26c" d="M1091 313.9h0M1447.8 288.7h0"/>
<path stroke="#2b748e" d="M1134.7 327.4h0M1560.3 329.1h0"/>
<path stroke="#472d7b" d="M1473 416.6h0M1433.1 192.3h0M975.5 220h0M1121.8 430.9h0M962.5 351.7h0M1168.3 573.1h0M1190.5 117.1h0M1177.8 515.9h0M1179.4 124.2h0M1422.3 523.3h0M954.6 345.5h0M1208.8 436.5h0M1420.3 526h0M986.6 209.1h0M1094.6 407.9h0M985 653.6h0M1357.1 486.4h0M1328.4 455.5h0M1143 513.8h0M1382.1 119.2h0M1439.7 505.2h0M1312.7 355.3h0M1377 610.9h0M996.7 535.8h0M1117.8 253.4h0M1014.3 164.4h0M1142 449.2h0M1317.2 387.4h0M1351.5 236.8h0M1348.8 505h0M1433.3 152.4h0M1328.7 486.1h0M1107.2 426.2h0M1232.7 659.6h0M1077.5 506.3h0M1302.3 382.9h0M1332 457.6h0M1180 451.3h0M1344 469.6h0M1375 501.9h0M1439.1 178.1h0M945.8 117.6h0M1082.9 489.6h0M955.7 435.1h0M1574.2 138.2h0M1073.7 580.6h0M1400 344.7h0M1176.6 148.5h0M1197.1 464.6h0M1316.4 467.5h0M1399.6 237.4h0M1485.1 373.1h0"/>
<path stroke="#67cc5c" d="M1149.9 309h0M1320.5 312.9h0M1272.7 292.4h0M1021.4 314.9h0"/>
<path stroke="#2db27d" d="M1389.6 317.1h0M1455.5 283.7h0M1317.4 319h0M1037.1 319.7h0"/>
<path stroke="#24878e" d="M1325.2 276.6h0M1297 275.9h0"/>
<path stroke="#aadc32" d="M1378.3 305h0M1266.5 306.6h0"/>
<path stroke="#482576" d="M1187.1 393h0M1362.5 450.5h0M1532.6 553.4h0M1428.5 618.6h0M1098 561.8h0M1279.4 354h0M1327 396h0M1228.2 118.8h0M1487.1 652h0M1020.7 651h0M1383.8 406.4h0M1218.4 405.9h0M1007.7 543.4h0M1214.9 119.2h0M1140.1 595.9h0M1113.3 507.2h0M1118.1 630.3h0M1306.6 180.6h0M1029.5 557.6h0M1450.8 145.8h0M1431.1 248.3h0M1137.3 467.8h0M1395.2 460h0M1369.1 607h0M1410.6 227.5h0M1268.8 416h0M1336.9 187.7h0M1534.6 160.4h0M989.5 233.7h0M1010.2 529.1h0M1101.9 192.2h0M1464.5 162h0M1558 406.5h0M1533.6 368.1h0M980.1 545.5h0M957.1 193.7h0M1115.2 605.6h0M1419.7 648h0M993.9 118.2h0M1574.8 452.3h0M1303.5 371h0M1526.4 422.6h0M1072.4 130h0M1135.4 645h0M1013.6 217.6h0M1583.2 533.3h0M1418.1 349.5h0M1192.1 429.6h0M1278.4 637.9h0M972.6 545.1h0M1215 381.3h0M1454.8 154.9h0M1320.1 196.5h0M1542.4 412.4h0M1288.9 187.2h0M1252.4 655.4h0M1373.9 363.6h0M1386 365.4h0M1218.7 508.6h0M1331.8 249.6h0M1203.1 415.3h0M1419.6 188.9h0M1480.1 360.1h0M1498.2 625.7h0M1299.5 115.8h0M1178.4 205.6h0M1244 162.7h0M1488.2 434.8h0M968.3 556.7h0M1106.5 590.8h0M1122.3 598.3h0M1384.7 488.7h0M1366.7 636.1h0M1396.4 132.6h0M1389.6 442.7h0M1376.2 162.4h0M1346.9 613h0M981.7 362.6h0M1225.9 406.6h0M1097 637.5h0M1547.7 399.4h0M1191.1 174.9h0M970.9 568.6h0M1387.6 494.8h0M994.3 638.4h0M1276.2 139.2h0M957.2 549.2h0M952.8 196.1h0M1397.2 629.3h0M1294.4 627.7h0M1146.4 498.5h0M1001.3 206.7h0M1365.3 192.6h0M1012.2 203h0M1568.6 596.6h0M1513 139h0M960.4 398.8h0M1147.3 413.8h0M958.4 570.4h0M1344.6 619.7h0"/>
<path stroke="#297b8e" d="M1522.4 328.5h0M1157.4 275.6h0M965.2 273.4h0M1102.6 99.6h0"/>
<path stroke="#24878e" d="M1224.4 277.2h0M962.2 276h0"/>
<path stroke="#67cc5c" d="M1120 314.4h0"/>
<path stroke="#375b8d" d="M1310.8 670h0M1273.1 669.5h0M1311.5 334h0M937.9 182.8h0M1595.5 167h0M1245 670.5h0"/>
<path stroke="#40bd72" d="M987.7 283.9h0M1401 287h0"/>
<path stroke="#228d8d" d="M1475.3 323.5h0M1524.4 277.6h0"/>
<path stroke="#453581" d="M1089.7 254.4h0M1233.5 342h0M1104.5 414.3h0M1171.5 661h0M984.9 257.6h0M1590.4 471.6h0M1039.4 257.4h0M1004.6 662.4h0M1558.7 111.9h0M1563.6 255.4h0M1185.7 443.5h0M1337.1 662.6h0M948.5 353.8h0M1452.9 253.3h0M1566.9 342.2h0M945.5 458.6h0M1425.8 661.6h0M1431.9 199.8h0M1589.2 522.1h0M1369.5 476h0M950.5 184.9h0M1309.4 452.8h0M1161.7 520.1h0M1189.8 454.3h0M1455.1 341.4h0"/>
<path stroke="#dde318" d="M939 292.6h0"/>
<path stroke="#1f998a" d="M1366 321.9h0M940.8 325.7h0"/>
<path stroke="#481467" d="M1259.6 188.4h0M1537.7 470.9h0M1033.4 152h0M1539.3 239.6h0M1056.7 209.9h0M1242 204.8h0M1062.4 202.1h0M1071.1 151.4h0M1166.7 378.3h0M1556.6 521.5h0M1066.7 156h0M1060.9 627.5h0M1313.3 610.2h0M1528.3 163.4h0M1353 651.1h0M1511.3 465.6h0M1562 221.3h0M1453.5 598.4h0M1278.1 561h0M1444.2 224.5h0M1332.6 141.7h0M1254.5 555.1h0M1118.3 207.1h0M1170.8 364.1h0M1016.7 433.8h0M1487.8 600h0M1502.9 540.6h0M1540.4 592.8h0M1046.8 204.6h0M989.3 603.2h0M1035.2 607.1h0M1515.3 529.8h0M1092.9 363.9h0M1446.2 615.2h0M1479.5 605.9h0M1347 426h0M1539.6 436.6h0M1174.7 182.8h0M1123.2 196.9h0M1265.2 223.6h0M1472.8 478.9h0M1020.8 145.4h0M1313.6 596.1h0M1529.8 583.3h0M1037.4 552.5h0"/>
<path stroke="#34618d" d="M1596.8 462.2h0M1084.2 103h0M1465.3 269.9h0M1402.3 100.8h0M1409.2 671h0M1528.6 332.9h0M1131.4 269.8h0"/>
<path stroke="#26818e" d="M1358.3 274.5h0M940.2 271.3h0"/>
<path stroke="#89d548" d="M1466.9 304.7h0M1246 302.7h0M954.2 286.6h0"/>
<path stroke="#404588" d="M963.1 664.9h0M941.4 139.3h0M1539.7 265.8h0M1116.4 662.8h0M1589.8 195h0M943.7 396.5h0M1070.6 265.9h0"/>
<path stroke="#5ac864" d="M1334.1 314.8h0M1415.6 292.1h0"/>
<path stroke="#433d84" d="M944.7 220.1h0M1399.2 107.9h0M943.5 198.8h0M1151.1 258.6h0M1588 128.6h0M1138.5 258.2h0M1305.4 264.9h0M944.9 625.4h0M1322.5 341.5h0"/>
<path stroke="#2e6e8e" d="M1596.1 665.9h0M1360 272.7h0M1165.5 327.9h0M1006.2 100.1h0"/>
<path stroke="#460a5d" d="M1228.6 197.9h0M1531.5 189.1h0M1153.3 628.6h0"/>
<path stroke="#25ac82" d="M1500.4 318.4h0"/>
<path stroke="#31688e" d="M1022.6 331.3h0M1373.4 101.5h0M1492.7 330.1h0"/>
<path stroke="#3a538b" d="M1201.7 268h0M1201.2 103.4h0M1016.9 263.8h0M937.3 500.4h0"/>
<path stroke="#3d4d8a" d="M1226.1 668.1h0M942.3 385.1h0M1489.9 336.8h0M1077.7 335.4h0"/>
<path stroke="#472d7b" d="M1262.8 350.5h0M1142.5 556.7h0M1045.1 384.3h0M1326.7 198.4h0M1093.1 417.6h0M1402.5 592.3h0M1285.1 654h0M1409.9 506.4h0M1553.6 344.8h0M1448 404.7h0M1350.7 482.6h0M1153.1 441.7h0M1455.9 660.6h0M1393.9 519.5h0M965.9 532h0M1050.8 585.9h0M1163.1 339.1h0M1521.3 117h0M1234.6 365.6h0M1355.2 456.8h0M1565.6 365.7h0M1584.8 239.1h0M1186.6 572.2h0M1461.6 509.4h0M1454.1 431h0M1199.4 256.8h0M1263.4 109.7h0M1531.7 648.1h0M1049.4 395h0M1417.5 659.2h0M1028.2 357.2h0M978.4 226.7h0M1580.4 135.8h0M1347.8 116.4h0M1308.3 513.9h0M969.2 642.6h0M945.3 249h0M1167.1 576h0M1171.9 153.1h0M1540 359.3h0M1205.2 370.3h0M1152.4 144.3h0M948.1 110.9h0M1111.5 249.3h0M1577.7 114.6h0M1421.4 257h0M1449 662.7h0M1507.3 242h0M1413.9 515.3h0M1527.2 356.5h0M1479.6 239.9h0M1303.6 470.1h0M992 173.6h0M1174.9 658.6h0M1147.2 656.2h0M1501.8 134.2h0M1089.9 475.3h0M1211.1 412.5h0"/>
<path stroke="#20938c" d="M1104.6 279.3h0"/>
<path stroke="#35b779" d="M1230.4 317.4h0"/>
<path stroke="#481c6e" d="M1162.4 174.6h0M1220.5 237.1h0M1495.1 587.1h0M1432.8 389.8h0M1376.7 423.4h0M1272 589.3h0M1096.1 618.4h0M1341.9 649.3h0M1103 607.4h0M1195.2 422.5h0M1578.2 243.2h0M1150.6 470.4h0M1514.2 490.2h0M1358.8 535.4h0M1026.7 505.7h0M1415.5 489.5h0M1033.2 554.9h0M1219.1 167.4h0M1521.8 624.8h0M1427 602.2h0M1553 604.1h0M1023 456.9h0M1500.2 523h0M1513.8 612.1h0M995.8 405h0M1530.2 644.3h0M1137.5 369.6h0M1550.9 485.2h0M998.6 640.7h0M1266.9 525.2h0M1545.8 243.7h0M1148.5 605.8h0M1176.9 189.5h0M1143.6 203.5h0M1302.9 635.3h0M1508.5 386.9h0M1571.1 466.8h0M1245.3 135.9h0M1154.6 420.4h0M1038.6 467.1h0M1096.7 354.2h0M1116.2 600.7h0M1070.5 239.3h0M1251.4 238.9h0M1224.8 617.7h0M1330.1 535.7h0M1108.6 202.9h0M1475.8 215.7h0M1054.9 598.9h0M1435.4 181.1h0M1446.4 231.3h0M1271.6 224.9h0M1089.3 631.5h0M1206.6 544.4h0M1438.5 492.9h0M1448.9 188h0M1089.2 210.5h0M1122.6 364.7h0M1545.6 512.8h0M1430.9 625.3h0M1087.2 633.3h0M1295.2 168h0M1516.3 494.7h0M1549.2 250.9h0M1074.6 620.4h0M1052.7 419.3h0M1079.3 559.4h0M1209.3 592.2h0M1050.4 429.8h0M1380.2 581.1h0M1509.5 212.9h0M1034.3 192.8h0M1544.8 641.9h0M1238.6 387.8h0M1510.2 468.2h0M1240.3 125.6h0M963.9 168.2h0M1483.2 470.6h0M1264.6 519.2h0M1011.2 135.2h0M1274.1 623.5h0M1549.5 627.2h0M999.4 457.7h0M1372.7 438.7h0M975.4 621.9h0M1008.6 129.2h0M1005.1 421.2h0M963.3 405.6h0M1199.1 633.6h0M1329.2 614.8h0M1011.7 511.6h0M1071.4 528.2h0M1362 533h0M1298.6 227.3h0"/>
<path stroke="#cde11d" d="M1530.4 303.3h0M1345.5 302.1h0"/>
<path stroke="#1fa088" d="M973.3 279.7h0M947.5 278.1h0M1069.4 280.5h0"/>
<path stroke="#98d83e" d="M1165.1 297.1h0M1409.4 294.5h0M1105.8 295.7h0M1439.5 295.6h0"/>
<path stroke="#77d153" d="M1405.4 309.5h0M1129.7 291h0M1177.5 306.9h0"/>
<path stroke="#efe51c" d="M1326.9 297.9h0M994.8 297.7h0"/>
<path stroke="#2b748e" d="M1598.7 200.1h0M938.6 332.5h0M1582.2 672.7h0M1585.7 99.5h0"/>
<path stroke="#89d548" d="M1003 314.6h0M1178.7 304h0M1375.4 293.8h0M1211.2 294.3h0M1317.1 306h0"/>
<path stroke="#433d84" d="M1359.2 666.1h0M1198.1 451.6h0M945.2 453.7h0M986.7 255.8h0M943 218.3h0M1288.1 263.1h0M1429.1 339.7h0M1586.1 390.1h0M1517.7 261.6h0M956.4 106.9h0"/>
<path stroke="#31688e" d="M1271.5 271.1h0M935 189.5h0M934.8 148.7h0M1306.2 100.5h0M1596.9 379.8h0"/>
<path stroke="#482576" d="M1060.1 508.4h0M1328.2 247.4h0M1481.7 544.9h0M1562.6 376.9h0M1345.4 400.2h0M1301.8 621.4h0M1065.7 372.7h0M1064.6 252.1h0M985.2 196.7h0M1407 204h0M971.3 371.1h0M1564.6 653h0M1229.5 140.1h0M1570.7 634.1h0M1112.3 461.2h0M1411.3 491.8h0M1343.1 446.6h0M1250.1 613.5h0M1356.9 200.2h0M1011.1 558.4h0M1101.5 389.7h0M1555 132.1h0M1279.6 487.9h0M1143.4 401.1h0M1118.4 571.5h0M1126.1 247.2h0M1584.1 499.5h0M1473.6 545.3h0M1155.6 238h0M1356.4 397.3h0M1040.7 657.4h0M997.7 351.2h0M1206.7 158.2h0M1331.2 120.4h0M1061.3 119.7h0M1067.7 484.2h0M1370.5 445.4h0M1181 409.9h0M1088 525.9h0M1200.9 386.1h0M1129.6 406.9h0M1258.9 482.9h0M1408 449.9h0M1043 423.6h0M1227.6 454.8h0M1543.3 227.8h0M1430.3 117.5h0M1032 569.4h0M1037 415.1h0M1086.7 468.7h0M1185 539.7h0M1080.1 464.9h0M1401.2 419.9h0M1124.6 255.5h0M1074.1 383.6h0M1388.4 376.6h0M1408.6 580.7h0M1266 647.7h0M995.5 171.5h0M1484 556.1h0M1164.1 587.2h0M1477.2 412.1h0M1257.7 145.1h0M1434.7 128.9h0M1222.5 144.6h0M1237.2 609.5h0M1469.6 369.5h0M1102.1 476.6h0M1186.8 654.6h0M1443.6 249.4h0M1060.6 250.5h0M1148.7 437.3h0M1276.4 378.6h0M1109.6 619.4h0M1478.4 424.4h0M1171.7 185.2h0M1129 586.6h0M1251.9 499.3h0M1414.8 225.1h0M1052.6 509.9h0M1192.5 587.5h0M958.9 472.6h0M1252.2 158.7h0M1404.3 214.5h0M1268.5 127.5h0M1122.1 603.2h0M1362.1 164.8h0M1284.9 196h0M1563.8 443.1h0M995.2 139.4h0M1136.9 646.8h0M1448.6 157h0M1166.5 458.6h0M1337.8 367.5h0M1571.4 126.2h0M1223.2 252.6h0M1493.8 120.2h0"/>
<path stroke="#460a5d" d="M1196.7 644.2h0M1536.7 447.9h0M1050.4 617.9h0M1546 449.4h0M1000.5 380.3h0M1045.9 452.7h0M1177.1 647.4h0M1175.9 632.8h0"/>
<path stroke="#375b8d" d="M1416.6 333.1h0M1195.4 270.6h0M937 159.9h0M939.2 409.8h0"/>
<path stroke="#3a538b" d="M1084.6 268h0M1592.4 421.6h0M1298.1 334.7h0"/>
<path stroke="#bade28" d="M1575.6 293.8h0M1038.2 305.6h0M1348.5 295.4h0M1033.9 308h0"/>
<path stroke="#228d8d" d="M1406.5 322.5h0M1029.9 324.7h0"/>
<path stroke="#21a585" d="M1387.7 282.9h0"/>
<path stroke="#3d4d8a" d="M1329.8 338.8h0M942 403h0M939.6 589.4h0M1439.9 336.4h0M946.6 666.9h0"/>
<path stroke="#40bd72" d="M1486.4 316h0M1066.3 286.8h0M1489.7 286.3h0"/>
<path stroke="#35b779" d="M1516.5 285h0M1397.8 315.6h0"/>
<path stroke="#2b748e" d="M935.7 102.7h0M1144.8 273.8h0M1105.4 672h0M933.5 566.2h0"/>
<path stroke="#dde318" d="M977 304.3h0M1572.3 305.4h0M970.3 308.8h0"/>
<path stroke="#aadc32" d="M956.5 311.2h0M1523.5 296.7h0"/>
<path stroke="#472d7b" d="M1216.2 142.8h0M1347.3 492.7h0M1438.2 426.1h0M1398.5 193.6h0M1392.9 229.9h0M1391.9 405.7h0M1393.1 616.2h0M1179.8 246.8h0M1215.6 399.2h0M1181.6 113h0M951.8 444.2h0M990.9 111.5h0M1282.9 660.7h0M1290.1 442h0M1098.8 454h0M1115.6 433.3h0M970.7 650h0M1084 594.5h0M1231.5 255.2h0M1081.3 246.3h0M1367.4 372.4h0M1124 550h0M1458.8 516.1h0M1587.1 528.6h0M1373.7 478.4h0M960.2 380.9h0M1190.3 576.2h0M1027.7 411h0M1081.8 504.2h0M1243.1 354.7h0M971.8 215.5h0M1374.7 160.9h0M980.4 348h0M1415.8 410.5h0M1118.5 131.4h0M1520.2 134.5h0M1211.7 462.5h0M1499.6 638h0M949.2 235.4h0M1355.1 379.4h0M1009.5 213.8h0M1473.3 657.9h0M1239.8 257.3h0M1089.5 443.4h0M1085.8 501.2h0M1167 117.9h0M1548.3 119.3h0M1475.1 513.6h0M1190.1 458.3h0M1556.9 390.8h0M1436.4 159.1h0M1464.7 503.1h0M1460.8 247.1h0M1349.5 497.1h0M1506.4 349.9h0M1424.4 254.3h0M1091.7 432.2h0M984.5 211.5h0M1080.5 582.9h0M1191.7 510.9h0M1385.8 598.7h0M1032.3 372.5h0M1519.1 654.7h0M1058.6 352h0M1338.3 236h0"/>
<path stroke="#1f998a" d="M1207.2 280.1h0M1279.8 278.3h0"/>
<path stroke="#77d153" d="M1024.4 289.2h0M1063.3 311.5h0"/>
<path stroke="#4cc26c" d="M1230.1 312.4h0"/>
<path stroke="#1fa088" d="M1306.7 279.6h0"/>
<path stroke="#404588" d="M1351.2 106.2h0M940.6 612.4h0M1280.7 339.5h0M1587.9 636.4h0M1024.8 338h0M1550.4 664.2h0M1013.7 336.2h0M1009.3 260h0"/>
<path stroke="#481c6e" d="M1528.8 623h0M1234.5 480.5h0M1427.5 587.7h0M1034.8 476.2h0M1229.1 517.1h0M1025.1 535.6h0M1554.8 419.9h0M1296.6 616.5h0M1241.2 245.4h0M1245.5 512.3h0M1518.8 551h0M1365.8 554.8h0M1247.9 505.6h0M1147.9 359.9h0M1240.7 219.3h0M1001.4 571h0M1517.4 364h0M1564.8 197.4h0M1245.9 399.6h0M1296.3 584.5h0M1316.6 127h0M1299.7 591.6h0M1476.1 122h0M1343.6 129.1h0M1140.3 362.9h0M1515.8 539.8h0M1184.5 184.3h0M977.2 402.5h0M1466.5 645.1h0M1569.9 161h0M1527.7 410.3h0M1215.6 639.4h0M1286.3 210.6h0M965.8 506.6h0M1519 146.8h0M1249.5 116.8h0M1304.6 151h0M1077.7 165.2h0M1523.3 397h0M1029.7 512.5h0M981.5 478.5h0M1055.1 480.4h0M1546.8 383.3h0M1072.6 370.9h0M1160.5 380.4h0M1198 622.9h0M1253.6 469.1h0M1428.7 170.1h0M1010.8 192.5h0M1226.5 169.3h0M990.2 481.2h0M1508.8 525.4h0M1486.1 549.5h0M1296.7 229.1h0M1214.7 578.3h0M1576.2 175.7h0M974.8 465.7h0M1045.7 219.1h0M1343.4 569h0M1465.4 226.5h0M1099 378.8h0M1217.5 585.1h0M1335.7 440.3h0M1119 472h0M1010.5 389.6h0M1041.6 478.3h0M1565.8 480.7h0M1013.9 504.9h0M1398.8 366.1h0M1484.2 150.7h0M1496.4 170.5h0M1553.8 541.9h0M1273.3 163.8h0M1459.2 638.5h0M964.4 491.9h0M1456 474.2h0M1006.1 360.5h0M1243 491h0M1214.4 627.1h0M1548 201.8h0M1111.6 224.4h0M1423.4 392.8h0M1567 495.3h0M1419.1 594.7h0M1125.6 222.3h0M1301.9 122.5h0M1322.9 185.3h0M1571.7 190.8h0M1414.6 611.4h0M1044.6 175.4h0"/>
<path stroke="#26818e" d="M1107.7 325.4h0M1095.6 277.3h0"/>
<path stroke="#5ac864" d="M1123.3 312.7h0M1190.6 290.1h0"/>
<path stroke="#2e6e8e" d="M1410.9 273.2h0M1250.3 272.4h0M1596.1 404.4h0"/>
<path stroke="#453581" d="M1579.2 381.6h0M1385.6 618h0M1332.2 224h0M1138.7 545.4h0M1344.4 242.7h0M950.6 540.3h0M1163.9 111.2h0M1368.4 346.6h0M1503.4 343h0M1370.7 257.5h0M947.9 618.7h0M1339.7 345.7h0M1099.2 576.4h0M1527.1 112.9h0M1347.5 357.6h0M1259.7 662h0"/>
<path stroke="#67cc5c" d="M1200.7 307.2h0M1565 312.5h0M1497 290.3h0M1180.9 292.8h0M1556.8 311.8h0"/>
<path stroke="#34618d" d="M1414.4 270.9h0M936.3 439.3h0M1515 669.2h0M935.9 595.4h0M1594.9 427.9h0M1161.9 330h0M1211 671.2h0"/>
<path stroke="#24878e" d="M1580.6 324.3h0M944.3 328.1h0"/>
<path stroke="#98d83e" d="M963.5 288.3h0M996 288.9h0M1512.4 304.1h0"/>
<path stroke="#25ac82" d="M1139.4 281.7h0M1091.2 317.8h0M1169.2 318.2h0M1417.1 282.8h0"/>
<path stroke="#481467" d="M1505.9 182.6h0M1566.1 431.9h0M1338.2 600.3h0M1557.8 510.2h0M1052.3 169.5h0M1325.4 430.8h0M1020.5 195.2h0M1347.9 591.1h0M1067.3 604.4h0M1030.9 464.2h0M1349.6 541.8h0M1340.2 607.8h0M998.2 398.3h0M1535.3 438.8h0M1348.4 411.5h0M1037.9 190.4h0M1053.1 186.3h0M1042 609.2h0M1189.4 625h0M1037.3 526.4h0M1526.6 611.8h0M1064.1 521.1h0M1437.4 593.7h0M1222.1 193.4h0M1063 519.6h0M1004.2 600.1h0M1560.7 197.8h0M1283.9 235.3h0M1168 474.6h0M1454.4 234h0M1507.4 595.2h0M1246.3 202.7h0M1329.6 428.4h0M1304.4 556.2h0M1534.3 182.4h0M1052.1 537.6h0M1305.2 240h0M1219.3 186.7h0M1151.5 634.9h0M1030.7 123.2h0M1149.9 191.6h0M1086.6 368.5h0"/>
<path stroke="#1fa088" d="M1433.6 321.5h0M1541.1 280.3h0M1435.4 279.5h0"/>
<path stroke="#297b8e" d="M1329.4 274.2h0M1598.9 641.2h0M1016 271.7h0"/>
<path stroke="#481467" d="M1338.5 605.4h0M1350.5 421.6h0M1229.3 562.3h0M1139.6 183.3h0M1307.5 545h0M1234.8 546.3h0M1209.4 227.9h0M1252.1 543.9h0M1063.5 193.5h0M1507.1 608h0M1306 593.1h0M1546.9 462.4h0M1346.3 558.5h0M1170.4 597.7h0M1252.5 181.8h0M1204.8 191.3h0M1514.8 176.6h0M1437.3 476.7h0M1243.2 423h0M992.5 509.7h0M1159.9 627.9h0M1004.2 483.3h0M1576.4 531.2h0M1276.3 558.9h0M1487.2 483.6h0M1471.9 609.7h0M1426.6 481.9h0M1545 204.2h0M1000 626.1h0M1364 643.6h0M993.1 623.8h0M1450.3 605.5h0M1339 181.1h0M1511.7 582.4h0M1333.4 640.6h0M1017 482.5h0M1539.4 606.7h0M1292 563.1h0M1255.5 193h0M1047.6 624.6h0M1179.6 623.2h0M1036.7 181.6h0M1564.2 524.4h0M1268.4 566.4h0"/>
<path stroke="#aadc32" d="M1030.2 302.8h0M1263.4 300.6h0M1324 291.1h0M1441.9 302.3h0"/>
<path stroke="#89d548" d="M1352.5 309.9h0M1463.9 293.5h0"/>
<path stroke="#77d153" d="M1398.2 311.6h0M1082.2 292.3h0"/>
<path stroke="#25ac82" d="M1052.8 283h0M1314.2 281.4h0"/>
<path stroke="#453581" d="M1131 113.6h0M1205.6 258.9h0M1032.5 259.8h0M1363.5 464.4h0M1360.5 493.5h0M1127.5 516.3h0M1149.1 555.9h0M1090.3 572.5h0M1128.1 563.1h0M1444.8 518.5h0M1584.2 346.4h0M1349.4 344.2h0M1557.9 340.3h0M1457.1 255.7h0M948.8 433h0M1341 476.3h0M1133.9 124.8h0M960.9 640.2h0"/>
<path stroke="#1f998a" d="M968.5 323.4h0M933 99h0"/>
<path stroke="#98d83e" d="M1538 309.4h0M1527.5 292.1h0M1108 302.5h0"/>
<path stroke="#cde11d" d="M966.6 294.7h0M1292.8 299.4h0"/>
<path stroke="#fde725" d="M998.4 300.1h0"/>
<path stroke="#433d84" d="M1059.2 664.6h0M1159.3 534.4h0M1566 262.1h0M1296.5 108.7h0M1383.7 340.3h0M1523.7 110.2h0M953.9 663h0M1553.2 263.6h0"/>
<path stroke="#2db27d" d="M1223 315.8h0"/>
<path stroke="#34618d" d="M1418.5 268.2h0M1356.3 331.2h0M1597.1 457.1h0M982.1 268.8h0M1044.8 670.5h0M981.2 102.2h0"/>
<path stroke="#3a538b" d="M938.3 529.9h0M1340.5 266.6h0M938.1 658.8h0M1595.7 535.4h0"/>
<path stroke="#472d7b" d="M1106.2 493h0M1374.5 657.5h0M1533.3 256.7h0M1381.5 395.2h0M1585.5 475.9h0M1577.3 611.2h0M1186.4 134.4h0M1304.2 191.8h0M958.6 131.6h0M1320.4 394.3h0M1390.7 394.5h0M954 187h0M1179.1 465.4h0M1457.3 524.7h0M949.6 364.7h0M1401.3 239.2h0M1327.3 378.1h0M1051.2 352.5h0M1435.2 655.8h0M1564.4 147.4h0M965.2 227.1h0M1309.9 384.4h0M1159.6 251h0M947.7 231.3h0M961.1 143.5h0M1301.2 449h0M1113 404.6h0M1280 429.1h0M1189 561.7h0M1390.5 197.4h0M1187.7 146.7h0M1426.9 432.1h0M1447 507.3h0M952.1 475h0M1136.3 150.2h0M1377.2 225.7h0M1380.1 466.5h0M1185.2 342.6h0M1140.6 438h0M1105 505.4h0M1376.5 503.5h0M1195.9 515h0M1462 406.8h0M1572.2 387.7h0M1206.2 346.8h0M1354.9 461.7h0M1379.1 137.8h0M1075.5 401.5h0M1279.2 111h0M1008.1 656.1h0M1570.9 257.2h0M1175.5 566.2h0M1128.1 430.4h0M1038.8 567.1h0M1198.5 468.6h0M953.8 146.3h0M1416.4 530.1h0M1150.5 568.3h0M1552.2 366.1h0M1419.4 361.9h0"/>
<path stroke="#dde318" d="M1110.1 299.8h0M1278.8 297.3h0"/>
<path stroke="#5ac864" d="M985.8 317h0M1501.3 313.4h0"/>
<path stroke="#375b8d" d="M978.9 334.1h0M1507.5 102.4h0M1003.7 264.6h0M1536.1 103.3h0M1558.6 668h0M1568 268.4h0"/>
<path stroke="#460a5d" d="M1080.8 622.8h0M1287.5 237.7h0M1058 616.3h0M1056.3 147.8h0"/>
<path stroke="#2e6e8e" d="M1380.7 329.1h0M1540.3 101.1h0M935.2 647.6h0M1541.8 671.1h0M934.9 553.9h0"/>
<path stroke="#2b748e" d="M935.3 386.7h0M1325.9 329.9h0M1478.5 273.7h0M933.9 633.1h0M995.1 329.8h0M1361 672.7h0"/>
<path stroke="#481c6e" d="M1206.1 214.8h0M1260.3 497.5h0M1247.7 620.2h0M1239.9 445.1h0M1531.1 559.8h0M1198.3 246h0M1528.9 218.9h0M1559.8 617.6h0M1124.4 209.3h0M1237.4 241.3h0M1074.9 136.1h0M1219 534.7h0M1280.6 170.4h0M1042.1 240.9h0M1537.4 568.1h0M1382.3 574.8h0M1335 131.2h0M1311 531.5h0M1094.8 175h0M1355.6 626.8h0M1142.4 215.9h0M1083.1 356.8h0M1074.5 216.2h0M1456.9 632.5h0M1524.7 232h0M1550.3 172.7h0M1358.7 167.2h0M1365.9 528.7h0M1259.9 421.8h0M1220.5 542.1h0M1501.1 393.4h0M1059.4 172.9h0M1281.7 152.9h0M1442.3 134.9h0M1523.8 587.3h0M1422.6 147.1h0M1433.2 554.4h0M1367 569.3h0M1064.5 441h0M1212.4 216.7h0M1100.1 371.7h0M1202.1 241.9h0M1307.9 645.4h0M1390 550.6h0M1028.8 613.1h0M1072 650.3h0M981.4 596h0M996.1 507.6h0M1273.5 504.3h0M982.3 610.1h0M1061.8 460.2h0M1186.2 375.1h0M1310.1 582h0M1313.4 240.7h0M1497.8 458.4h0M1357 641.5h0M1067.8 365.9h0M1491.1 351.4h0M1210.5 165.6h0M1497.5 174.5h0M1032.7 447.6h0M1220.3 155.8h0M1300.3 642.7h0M1257.9 522.2h0M1256.5 571.8h0M1284.1 601.4h0M1285.5 474.9h0M1282 493.9h0M1358.1 427.6h0M1008.7 569.2h0M1240.9 622.3h0M1560.1 517h0M1204.6 650.4h0M1246.5 123.5h0M1387 539.4h0M1322.1 538.5h0M1324.4 173.7h0M1545.1 557.4h0M1286.7 254h0M1314.8 545.7h0M1153.8 373.3h0M1294.6 222.3h0M1314.4 416.5h0M979.4 409.2h0M984.4 566.8h0M1340.7 435.4h0M1458.3 394h0M1173.6 608.1h0M1503.2 493.9h0M1430.5 576.5h0M1031.4 243.4h0M1493.7 578.2h0M1181.9 356.1h0M1485.9 144.1h0M1280 618.9h0M1564.2 550.5h0M1540.9 413.1h0M1310.3 409.1h0M1106 357.9h0M1298.7 614.7h0M1141.1 609.8h0M1436.6 238.2h0M1022.7 519h0M1239.2 126.4h0"/>
<path stroke="#20938c" d="M990.5 276.5h0"/>
<path stroke="#67cc5c" d="M1337.5 286.2h0M1554.6 287.1h0M1359.6 289h0"/>
<path stroke="#21a585" d="M1268.7 281.9h0M1471 319.1h0"/>
<path stroke="#404588" d="M1449.8 106.6h0M1591.8 156.2h0M1155.9 262.9h0"/>
<path stroke="#35b779" d="M1322.9 283.8h0"/>
<path stroke="#31688e" d="M1348.2 672.4h0"/>
<path stroke="#3d4d8a" d="M1497.3 667.1h0M1261.6 338.1h0M1024.2 666.3h0M1587.5 259.6h0M1391.1 337.4h0M1477.6 334.7h0M1116.4 106.8h0"/>
<path stroke="#482576" d="M1216.5 519.8h0M1156.8 229.5h0M1173.1 439.7h0M1080.4 123.9h0M980.5 416.4h0M1559.3 352.7h0M1151.9 652.2h0M1386.9 234.4h0M1259 367.9h0M975.7 244.9h0M1101.2 529.3h0M1261.9 166.9h0M1457.6 148.2h0M1470.2 126.5h0M1241.7 138h0M1055.7 394.7h0M1009.9 554.6h0M1371 370.3h0M1405.7 650.1h0M1275.3 644.8h0M1582.4 177.9h0M1487.9 237.8h0M1088.6 647.9h0M966.1 166.1h0M1085.7 349.4h0M1180.5 163.5h0M1437.2 360.6h0M959.4 222.5h0M1003.5 235.8h0M1193.1 487.5h0M1145.7 165.9h0M1231.8 376.8h0M1287.1 366.9h0M1321 481.1h0M1578.8 217.1h0M1368.9 238.6h0M1295.8 405.4h0M1382.6 624.7h0M1360.4 357.4h0M1404.9 471h0M1548.2 639.5h0M1529.2 246.1h0M1170.1 432.6h0M1203.4 659.5h0M1265 626.5h0M1200 525.8h0M1209.9 424.8h0M1569.7 657.6h0M982.8 150.4h0M996.8 230.9h0M1266.6 386.8h0M982.6 526.7h0M1050.6 232.7h0M1274.1 451.1h0M1535.3 349h0M1500 396.1h0M1148.2 593h0M1434.2 636.7h0M1221.4 366.3h0M1574.4 622.5h0M1403.3 499h0M1058.9 585.5h0M1480.6 656.4h0M1274.9 124.6h0M1006.5 238.5h0M1455 495.6h0M1333.2 398.2h0M1307.8 205.3h0M1297.9 506.7h0M1255.4 648.7h0M1334.7 194.4h0M1424.4 210.3h0M1454.9 539h0M1246.7 579.3h0M1394.5 201.9h0M1105.1 533.7h0M1410.3 165.4h0M1283.5 364.5h0M1200 553.6h0M1109.2 463.9h0M1207 657.1h0M1462.9 353h0M1117 420.9h0M1445.2 398h0M1570.7 444.9h0M1334.9 651.4h0M978.2 610.7h0M1498.1 117.8h0M1054.1 431.6h0M1457.8 550.2h0M1388.9 631.9h0M1323.8 509.8h0M1146.5 347.7h0M1234.4 598.6h0M1264.8 250.2h0M1297.2 426.7h0M1409 462.7h0M1485.3 441.5h0M1024.4 171.2h0M1134.4 245.1h0"/>
<path stroke="#26818e" d="M1492.1 275.8h0"/>
<path stroke="#2b748e" d="M1498.9 327.7h0M1217 275.4h0M1299.1 273.5h0"/>
<path stroke="#77d153" d="M957.4 316.3h0"/>
<path stroke="#2db27d" d="M1152.6 316.1h0"/>
<path stroke="#25ac82" d="M1085.9 282.6h0"/>
<path stroke="#98d83e" d="M1432.5 296.5h0M1215.4 298.9h0M1146 295.2h0"/>
<path stroke="#453581" d="M1396.7 252.2h0M1302.6 448.3h0M952 375.9h0M1462.6 111.6h0M1149.4 527.7h0M1165.3 518h0M1124.8 442.1h0M981.1 658.2h0M1586.5 648.8h0M1504.9 260.7h0M1584.9 607.3h0M1086.1 415.5h0M1451.1 522.3h0M1389.4 254.9h0M1145.5 532h0M1342.9 259.9h0M1288.3 345.6h0M942.6 124.8h0M1399.4 604.6h0M1291.8 193.9h0"/>
<path stroke="#24878e" d="M997.3 274.3h0M1407.6 324.3h0M1385.2 276.9h0"/>
<path stroke="#89d548" d="M1589.3 310.1h0"/>
<path stroke="#481c6e" d="M1253.5 372h0M1146.2 412.3h0M988.6 154.8h0M1158.2 172.2h0M1423.6 475.2h0M1231.9 132.7h0M1496.2 536.6h0M1556 207.8h0M1490.6 172.4h0M1193.4 530.5h0M1561.3 459.8h0M1073.1 448.2h0M1437.7 228.6h0M949.8 481.8h0M1082.3 177.1h0M1568.2 241.2h0M1269.2 182.9h0M994.9 516.4h0M1414.1 138.3h0M1415 589.5h0M1079.7 644.1h0M1065.5 472.9h0M1487 194.1h0M1125.7 624.2h0M1421.1 633.5h0M1192.4 232.1h0M1520 475.6h0M1001.7 374.1h0M1318.5 573.2h0M1310.9 162.1h0M1502.1 211.1h0M1270.6 595.5h0M1264.2 564.4h0M1171 481.4h0M1440.7 217.4h0M1532.7 212.6h0M1263.2 583.4h0M1098.3 625.1h0M1209.6 614h0M1379 559.8h0M1224.6 430.2h0M1182.7 224.7h0M1119.6 194.8h0M1556.4 144.4h0M1432.3 396.9h0M1418.5 241.6h0M1512.5 516h0M1309.6 244.8h0M1578.2 491.1h0M1244.3 503.2h0M1562.5 247.9h0M983.8 467.3h0M1408.8 383.7h0M1161 201.4h0M1216 563.8h0M977.3 588.8h0M1021 548.3h0M1136.9 387.6h0M1155 496.1h0M1395.3 381.1h0M1097.2 199.7h0M1257.8 548.2h0M1468 453.1h0M1492.9 520.2h0M1510.6 218.1h0M1538.8 555.8h0M1228.4 639h0M990 365.2h0M1421.2 445.9h0M1506.6 500.8h0M1216.8 229.7h0M1029.1 425.6h0M1351.3 605.2h0M1109 382.5h0M1275.1 205.8h0M1558.9 585.6h0M1236.9 438.3h0M1233.5 431.8h0M1476.5 463.2h0M1023.2 627h0M1105.6 178.3h0M991 586.2h0M1538.9 528.1h0M1351.8 433.9h0M1061 223.3h0M1470.3 646.7h0M1090.8 393h0M1482.5 215.3h0M1025.4 615.8h0M978.2 423.8h0M1049.8 562.3h0M1179.8 218h0"/>
<path stroke="#dde318" d="M983.7 305.9h0"/>
<path stroke="#375b8d" d="M1594.3 583.5h0M1376.3 333.7h0M1576.6 333.5h0M1236.7 268.6h0M1401.9 265.8h0"/>
<path stroke="#433d84" d="M1482 258.7h0M941 515.7h0M1590.2 130.4h0M1260.9 665.7h0M1287.2 107.1h0M1059.1 108.5h0M1104.3 655.7h0M944.6 560.9h0M1017.9 662.2h0M945.9 575.5h0M951 343.4h0M1446.8 338.5h0M1516.7 661.4h0M1391.8 664.4h0"/>
<path stroke="#1fa088" d="M1033.6 322h0M1008.3 279.1h0M1595.1 275h0"/>
<path stroke="#5ac864" d="M934.5 320.5h0"/>
<path stroke="#aadc32" d="M1047.5 305.1h0"/>
<path stroke="#21a585" d="M1202.9 282.5h0M1171.1 284.1h0M1187.6 317.9h0M1472.8 281.5h0"/>
<path stroke="#481467" d="M1036.2 543.7h0M1072.1 191.1h0M1153.4 208.8h0M1064.7 208.1h0M1214.6 223h0M1056.1 524h0M1407.2 557.1h0M1504.3 597.9h0M1286.2 572.7h0M1551.7 229.9h0M1017.4 601h0M1039.2 633.9h0M1369.1 436.3h0M1499.8 199.1h0M1303.2 568.5h0M1490.1 509h0M1226.2 173.2h0M1324.6 586.3h0M1049.9 140.3h0M1542.9 165.5h0M1229.7 197.2h0M986.8 442.6h0M1233.9 234.2h0M1476.3 580h0M1077.9 532.3h0M1535.8 608.8h0M1505.3 601.7h0M1321.9 603.1h0M1566.6 539.3h0M1085 608.6h0M1006.9 435.5h0M1404.9 567.6h0M985.7 394.4h0M984.8 444.4h0M1053.6 539.5h0M1063.9 144.8h0"/>
<path stroke="#2e6e8e" d="M1077.3 273.1h0M1543.5 272.9h0M1431.4 328.5h0M1597.9 564.5h0M1596.7 576.8h0"/>
<path stroke="#472d7b" d="M1378.7 514.7h0M1053.7 494.9h0M1428.9 510.6h0M1366.5 214h0M1042.9 355.1h0M1015.5 116.2h0M1030 399.8h0M1227.7 377.5h0M1442.7 511.9h0M1111.3 457.2h0M1095.8 429.3h0M1394.6 639.8h0M1511.1 246.9h0M957.6 520.8h0M1059.8 405.8h0M1383.6 510.1h0M1362.8 216.9h0M1076.1 491.7h0M1134.9 514.2h0M1578.6 620.1h0M1345.8 203.2h0M1382.4 221.6h0M1575.4 581.6h0M1431.3 517.3h0M979.9 161.6h0M1368.2 499.5h0M1114.1 428h0M1577.6 588.3h0M1117.2 343.6h0M1126.5 118.5h0M1165.5 141.5h0M1289.7 472.8h0M1007.4 345.9h0M1345.3 382.3h0M1575 384h0M1157.9 584.8h0M952.6 654.2h0M1135.2 137.2h0M1285.3 393.7h0M1141.2 580.2h0M1417.9 501.3h0M1108.4 642.9h0M1105.9 411.7h0M1126.7 575.4h0M1034.6 361.3h0M1113.5 166.6h0M1470.8 387.4h0M1547.1 142.9h0M1137.6 126.7h0M1110.5 640.8h0M1573.6 401.9h0M1536.4 361.4h0M1557.1 652.3h0M1462.4 173.9h0M1005.7 540.8h0M1225.3 112h0M1579.8 643.6h0M1360.9 116.6h0M1566.8 154.1h0M1585.1 436.1h0M1366.8 128.2h0M1371.5 190.5h0M1078.5 412.7h0M1150.3 129.3h0M1358.5 507.7h0"/>
<path stroke="#40bd72" d="M1282.5 284.3h0M1564 317.5h0"/>
<path stroke="#31688e" d="M1547.5 330.9h0M1513.3 271.6h0M1595.3 338.2h0M1476.9 671.3h0M1577 270.2h0M1438.3 272h0M1597.5 223.7h0M1107 272.1h0M1264.4 331.4h0"/>
<path stroke="#bade28" d="M941.8 303.8h0M979.2 293.1h0M1333.1 300h0"/>
<path stroke="#26818e" d="M976.1 327.4h0M1308.5 327.3h0M936.4 267.2h0M1442.9 325.2h0"/>
<path stroke="#482576" d="M1208.2 606.6h0M1204.5 388.2h0M1068.6 499.1h0M1141.8 244.7h0M1099.5 128.8h0M1372.5 149.7h0M1127.2 395.7h0M1083.6 225.3h0M972.7 180.7h0M1298.5 532.2h0M1183.3 601.8h0M1417.3 182.1h0M1194.9 489.3h0M1425.6 417.5h0M1188.6 397.1h0M1271.3 422h0M1367.7 655.2h0M1173.8 159.7h0M1009.8 152.8h0M961.3 520.5h0M961.9 616.6h0M1344.7 123.1h0M1359.1 171.1h0M1325.8 233.1h0M1429.3 408.1h0M1502 573.2h0M1382.9 454.7h0M1486.5 391.1h0M1370.1 211.9h0M1363.4 382h0M1353.6 374.5h0M1013.1 242.5h0M1354.1 440.6h0M1195.6 611.7h0M1467.5 560.6h0M1174.1 350h0M1315.4 502.2h0M1134.6 453h0M1474.2 400.9h0M1095.2 170h0M1125.4 133.5h0M989.2 431.3h0M1335.4 472.2h0M1312.3 114h0M1281.6 174.3h0M1373.3 609.4h0M1473.5 183.2h0M964.1 534.1h0M1461.4 168.8h0M1408.2 620.5h0M1300.9 513.4h0M1443.2 120.7h0M1061.2 578.7h0M1571.3 369.8h0M1091 523.5h0M1436.2 543.2h0M1114.1 615h0M1290.5 208.5h0M1429.7 175.2h0M983.3 647h0M1211.5 121.9h0M1266 462.1h0M1499.4 141.4h0M1464.6 531.4h0M1322.3 495.6h0M1103.6 500.2h0M1041 596.2h0M1416.8 504h0M1202 609h0M1304.1 649.8h0M1410.2 532.5h0M1012.7 382.2h0M1065.2 570.1h0M1267.2 148.9h0M1096.2 232.1h0M1045.4 581.3h0M1440.4 450.7h0M1227.4 248.1h0M1216.6 615.9h0M978.8 162.3h0M1418.3 439.2h0M1277.6 453.8h0M1531.7 386h0M1217.5 485.1h0M1543.7 358.6h0M1201.9 438.9h0M1269.8 500.5h0M963 172h0M1223.8 132.3h0M1241.1 452.2h0M1017.2 367.6h0M969.5 151.1h0M1496.2 231.7h0M1301.6 216h0M1346.4 511.8h0M964.7 591.5h0M1270.3 608.5h0M1114.7 350.7h0M1126.3 459.1h0M1581.7 493.2h0M1406.9 641.9h0M965.4 424.2h0M1112 577.5h0M1007.6 159.5h0M1403.9 448h0M1067.3 434.3h0M1286 133.8h0"/>
<path stroke="#34618d" d="M1515.7 332.6h0M936.1 362h0M1472.4 101.9h0M1311.8 269.4h0M1375.6 670.3h0"/>
<path stroke="#297b8e" d="M1114.3 274h0"/>
<path stroke="#460a5d" d="M1525.8 174.8h0M1341.3 593.7h0M1328.9 583.9h0"/>
<path stroke="#228d8d" d="M1075.3 324.2h0M1301 323.5h0M1252.8 278.5h0"/>
<path stroke="#67cc5c" d="M1550.9 287.9h0"/>
<path stroke="#1f998a" d="M1599 99h0"/>
<path stroke="#3a538b" d="M1132.5 334.2h0M937.1 547.2h0M1594.1 350.6h0M1436.9 267.1h0"/>
<path stroke="#3d4d8a" d="M989.1 262.6h0M1591 629.3h0M995.7 665.4h0M1004.4 106.4h0"/>
<path stroke="#404588" d="M940.8 225h0M1156.6 107.3h0M942.5 582.7h0M1386.4 261.6h0M1591.1 207.3h0M1191 666.4h0"/>
</g>
<rect class="s" x="900.5" y="70.5" width="731.0" height="632.0"/>
</g>
<g>
<path class="g" d="M1688.0 70.5V702.5M1854.5 70.5V702.5M2021.0 70.5V702.5M2187.5 70.5V702.5M2354.0 70.5V702.5"/>
<g class="d">
<path stroke="#482576" d="M1916.5 563.5h0M2154.9 434.4h0M1825.8 437h0"/>
<path stroke="#5ac864" d="M2119.9 390.3h0M2316.9 574.4h0M1884.3 353.1h0M1922.7 443.8h0M2076.5 262.4h0M1823.8 158.1h0M1779.6 404.2h0M1895.2 479h0"/>
<path stroke="#21a585" d="M2213.9 563h0M1976.6 599.3h0M1749.1 575h0M1781.6 110.2h0M1831.7 591.8h0M2265.3 566.1h0M1742 376.5h0M1886.6 423.8h0M2130.6 408.8h0M1924.9 260.6h0M1945 379.2h0M2048.8 460.8h0M1869.5 485.9h0M1743.4 538.6h0M2268.1 558.9h0"/>
<path stroke="#3d4d8a" d="M2324.1 363h0M1883.8 617.4h0M1884.9 667.8h0M2347.6 367.8h0M1910.4 603.9h0M1751.6 166.5h0M2342.2 321.7h0M2343.5 372.2h0M1725.7 129.8h0M2327.6 319.3h0"/>
<path stroke="#aadc32" d="M1898.9 358.4h0"/>
<path stroke="#34618d" d="M1827.8 471.1h0M2151.6 473.1h0M2129.3 183.8h0M1711.2 599.6h0M1745.8 617h0M2074.4 524.8h0M1728.8 100.6h0M1802.7 221.5h0M1728.4 477h0M2047.5 330.4h0M2256.1 654.4h0M2119.1 202.3h0M1921.1 625.8h0M1813.4 427.2h0M2184.8 666.8h0M2260.7 658.5h0M2275.9 443.7h0M2229.4 301.8h0M1855.5 213.4h0M2024.6 349.8h0M1842 127.7h0M1933 558.8h0M2327.7 149.8h0"/>
<path stroke="#4cc26c" d="M2212.9 197.1h0M2253.7 248.7h0M1909.9 345.3h0M1801.7 559.9h0M2166.4 591.9h0M2264.7 256.3h0M2307 275.5h0"/>
<path stroke="#25ac82" d="M1836.5 530.2h0M2215.2 575.3h0M2258.8 185.3h0M1753.9 565h0M1737.9 552.2h0M1801.3 514.8h0M2249.1 380.6h0M1939 363.9h0M2022.8 446.2h0M2220.9 588.6h0"/>
<path stroke="#26818e" d="M2015.6 541.5h0M2063.1 304.2h0M2148.5 143.1h0M2245.1 534.5h0M2296.4 158.3h0M2052.6 412h0M2020.6 120.9h0M2239.4 527.8h0M2245.8 288.2h0M1958.8 151.4h0M2301.2 216.5h0M2125.9 467.2h0M1955.5 189.2h0M2318.5 209.7h0M2135.3 125.5h0M1993.2 646.6h0M2267.2 403.3h0M2274.8 375.2h0M2135.9 140.4h0M1790.7 436.4h0M2297 179.5h0M1992.6 526.4h0M2139.5 112.4h0M2132.5 114.3h0M2127 526.6h0M1708.4 523.2h0M2198.3 380h0M2060.6 437.1h0M2048.6 119.9h0"/>
<path stroke="#40bd72" d="M2048.4 577.8h0M1886.2 490.7h0M2196.2 579.5h0M2235.8 180.5h0M2206.7 194.7h0M1990.9 184.2h0M1846.7 551.3h0M1824.2 179.9h0M1931.4 525.6h0M2005.8 594.3h0M2004.7 590.5h0M1815.4 167.9h0M1771.3 236.7h0M1940.1 494.6h0M1930.2 369h0"/>
<path stroke="#375b8d" d="M2157.9 413.3h0M2288.1 445.5h0M2200.7 350.9h0M2021.8 320.6h0M2037.1 343.2h0M2031 325.6h0M2246.7 109h0M1688 673h0M2180 342.3h0M1741.2 148h0M1892.9 211.3h0M1952 303.1h0M2338.4 164.9h0"/>
<path stroke="#efe51c" d="M2098.8 371.5h0"/>
<path stroke="#3a538b" d="M2337.9 505.5h0M1890.6 304.6h0M2296.4 347h0M1913.3 664.9h0M1755.8 440.2h0M1939.3 284.9h0M2344.1 315.1h0"/>
<path stroke="#481c6e" d="M1722.7 448.9h0M1836.1 452.1h0"/>
<path stroke="#228d8d" d="M2139 291.4h0M2218.5 617.3h0M1828 259.2h0M1786.8 619.8h0M2177.9 195.7h0M1720.6 334.6h0M2054.5 358.2h0M2258.7 284.2h0M1804.6 328.9h0M1732.6 355.4h0M2148.4 275.1h0M2266.5 385.3h0M1734.1 502.8h0M2291.9 215h0M1954 128h0M2170.2 112.6h0M1801.5 137.9h0M2136.6 298.2h0M1865.9 518.4h0M1962.7 477.5h0M1979.1 473.4h0M1797.3 114.4h0M1862.4 558.3h0M1848.3 284.7h0M2166.6 115h0M1731.2 514h0M1878.8 524.6h0M1707.9 313.6h0M1824.6 359.7h0M1783.7 227.9h0M1947.7 110.4h0"/>
<path stroke="#35b779" d="M2199.3 565.4h0M2008.9 447.2h0M1748.3 247.3h0M2306.5 585.2h0M2020.4 576.7h0M2005.6 475.8h0M2178.8 572.4h0M1770.2 492.5h0M1887.6 503h0M1942.4 523.7h0M2240.5 251.6h0M2232.8 165.8h0"/>
<path stroke="#89d548" d="M2026.2 479.2h0M1836.3 163.1h0"/>
<path stroke="#20938c" d="M1974.7 287.3h0M1842.8 320.2h0M2136.4 639.4h0M1964 358.7h0M2120.1 307.9h0M1798.5 611h0M1843.8 307.3h0M1978.1 441.4h0M2279.8 618.1h0M1801 245.8h0M1802.9 247.6h0M2126.9 305.7h0M1875.6 418.5h0M2250.7 277.9h0M2135.5 516.8h0M1986.6 473.8h0M1963 101h0M1810.9 312.2h0M2232.5 506.9h0M1849.1 494.3h0M1954.6 445.6h0M1953.8 565.9h0M1973.3 287.7h0M2221.7 402.7h0"/>
<path stroke="#453581" d="M1715.1 461h0M2347.8 482.8h0M1722.4 462.8h0"/>
<path stroke="#481467" d="M1842.8 445.8h0"/>
<path stroke="#2e6e8e" d="M1915.1 120h0M2141.5 431.5h0M2003.9 410.8h0M1806.8 668.4h0M2143.2 186.2h0M2210.3 418.7h0M2298.6 424.7h0M1881.9 198.7h0M2043.7 542.6h0M2099.4 217.7h0M1848.5 661.7h0M2248.5 640.4h0M2166.1 359.1h0M2084 109.2h0M1818.7 652.6h0M1864.6 450.9h0M2119.4 557.7h0M1857.8 238.1h0M2284.9 124.1h0M2012.1 310.3h0M2324.1 416.8h0M1840.1 241.4h0M1820.9 663.9h0M2218.3 430.3h0M2228.8 348.2h0"/>
<path stroke="#404588" d="M2222.3 327.6h0M1722.9 621.2h0M1900.8 671.5h0M2213.5 312.8h0M2328.7 326.7h0"/>
<path stroke="#24878e" d="M1980.4 352.9h0M2246.2 485.5h0M2147.5 108.4h0M1949.3 177.3h0M2044.9 373.6h0M1698.9 297.2h0M1706.7 254.1h0M2003.3 533.4h0M1969.1 456.4h0M2254.1 517.8h0M1846.9 261.2h0M2230.1 556.5h0M2147.3 484.7h0M1761.7 608h0M1777.3 142.7h0M2226.2 527.1h0M1976.9 390.9h0M2251.9 511.1h0M2320.4 103.7h0M2222.9 621.6h0M1938.4 105.2h0"/>
<path stroke="#31688e" d="M2107.4 521.8h0M1753.4 200.6h0M1931.8 553.8h0M2003.6 672.9h0M2202.6 665.6h0M2310.8 628.7h0M2289.5 659.3h0M1742.2 474.5h0M1930.7 213h0M2023 368.9h0M1932.7 325.8h0M2143 659.9h0M2234.1 115.3h0M1728.9 593.3h0M2280.5 339.8h0M2317.2 624.3h0M1920.9 220.6h0M1857.1 648.9h0M2295.7 657.2h0M1734.6 670.2h0M1742.6 133.4h0M2181.5 363.7h0M2277.7 140.5h0M1847.2 235.1h0M1918.5 278h0M2072.6 526.9h0M1809.3 234.6h0"/>
<path stroke="#2db27d" d="M2281.7 225.6h0M1977.6 548.8h0M1762.2 500h0M1877.8 480.8h0M2027.9 176.7h0M2287.1 525.7h0M1938.9 482.2h0M2172.7 160.4h0M1769.8 411.3h0M1803.1 377.1h0M1890.8 402.6h0M1939.1 417.7h0M2263.2 189.4h0M2207.3 571.4h0M2289.2 282.4h0M2087.7 332h0M1937.4 422.2h0"/>
<path stroke="#cde11d" d="M2302.3 564h0"/>
<path stroke="#1f998a" d="M1830.2 513h0M2127.2 319.8h0M2022.4 633.2h0M2070.4 634.9h0M1822.5 263.3h0M2215.8 222.2h0M1688.3 368.7h0M2205.6 264.5h0M1738.9 369.3h0M2048.2 201.1h0M1790.8 346.7h0M1773.8 541.6h0M1754.3 332.2h0M2069.5 658.4h0M2172.8 546.5h0"/>
<path stroke="#2b748e" d="M2167.3 385.8h0M1803.3 459.4h0M2078.5 168.7h0M2349.6 615.4h0M2123.5 158.6h0M1791.5 655.3h0M2158.4 347.1h0M2124.8 99.1h0M2075.7 104.1h0M2112.7 583.6h0M2059.8 322.8h0M2331 670.7h0M2271 153.5h0M2160.1 370.7h0M2287.4 149.2h0M2063.7 137.5h0M2335.9 613.4h0M2234.8 437.5h0M2257.8 153.2h0M2117.9 579h0M1928.9 547.1h0"/>
<path stroke="#472d7b" d="M1706.2 630.7h0M2176.4 468.9h0"/>
<path stroke="#297b8e" d="M1874.1 310.6h0M2074.8 147.9h0M2019.3 142.2h0M2230.5 449.1h0M2237.2 448.7h0M2201 109.5h0M1895.9 240.5h0M1862.6 135.1h0M1925.6 104.9h0M1702.1 511.4h0M2221.3 355.6h0M2269.6 410h0M2145.2 147.6h0M2064.7 465.6h0M2195.5 242.9h0M2046.9 651.9h0M2199 626.4h0M2273.4 318.1h0M2223.3 466.1h0M1879.2 148.1h0M1824.8 477.8h0M2118.1 123.4h0M2162.8 244.1h0M2298.2 613.9h0M2305 167.6h0M1767.1 643.1h0M2099.9 579.9h0M1888.2 175.9h0M2160.3 388.6h0M2097.4 152.6h0M1768.2 450.6h0"/>
<path stroke="#1fa088" d="M1780.6 230.6h0M2203.7 541.1h0M1809.5 602.9h0M2166.8 622.6h0M1757.1 310.7h0M2085.8 288.8h0M1782.3 532.9h0M1826.7 388.8h0M1859.1 181h0M1759.9 286h0M2059 388.9h0M1795.5 417.2h0M2314.7 232.5h0M1913.9 336.7h0M1966.7 581h0M2177.5 551.1h0M2129.1 417.4h0M1769.1 533.7h0M2192.9 612.5h0"/>
<path stroke="#67cc5c" d="M2073.3 376.3h0M2022.6 213.3h0"/>
<path stroke="#dde318" d="M2339.7 544h0M2327.9 552.9h0M2090.6 374.2h0"/>
<path stroke="#433d84" d="M1689.1 446.1h0M1869.9 109.4h0M2307.4 484.5h0"/>
<path stroke="#77d153" d="M2107.7 392.4h0M1775 374.4h0M1913.8 508.9h0M1915.3 460.7h0"/>
<path stroke="#35b779" d="M2175.5 149.2h0M2222.3 137.3h0M1779.9 507.8h0M2154 599.4h0M1711.6 391.4h0M1770.1 357.5h0M1924 393.3h0M1884.1 488.3h0"/>
<path stroke="#20938c" d="M2134.6 245.6h0M1964.1 115.1h0M1983.6 298.5h0M1798.7 162.6h0M2188.9 260.4h0M1851.8 486.9h0M2164.4 179.4h0M1766.5 325h0M1826.3 322.6h0M2118.6 302.9h0M1834.1 138.5h0M1834.7 403.9h0M1724.4 203.6h0M1710.8 366.8h0M1952.8 218.8h0M2061 476.9h0M2161.3 528.1h0M1951.3 559.6h0M1763.8 469.7h0M1833.6 294.4h0M2347.2 285.5h0M1967.6 620.8h0M1850.4 339.6h0M2336.2 272.3h0M1833.9 326.5h0M1784.3 135.5h0M1746.8 291h0M1968.9 642.1h0"/>
<path stroke="#bade28" d="M2112.2 350.2h0"/>
<path stroke="#5ac864" d="M1904.7 389.1h0M1982.2 221.5h0M2180 153.8h0M1774.1 252.6h0M1793.4 388.1h0"/>
<path stroke="#3d4d8a" d="M2284.7 464.8h0M1942.3 314.1h0M1688.1 467.9h0M1889 621.5h0M1909.5 286.5h0M1899.4 614.3h0M2346.2 344.3h0M1769.6 178.4h0M2203.3 343.5h0"/>
<path stroke="#433d84" d="M1855.3 446.9h0M2199.6 331.8h0M2198.4 461.4h0"/>
<path stroke="#26818e" d="M1935.5 332.5h0M2109.1 629.8h0M2208.9 364.9h0M1845.1 134.8h0M2119.5 135.7h0M2039.4 523.1h0M1773.9 440.5h0M1791.4 158.7h0M1914.1 168.3h0M2025.7 102.9h0M2148.7 564h0M1980.5 489.1h0M2349.2 109.8h0M1903.3 239.8h0M1948.7 332.8h0M1692.9 281.8h0M1924.6 146.4h0M2152.5 549h0M2062.6 157.7h0M2091.1 630.1h0M2112.8 230.5h0M1857.7 593.5h0"/>
<path stroke="#40bd72" d="M1867.5 379.9h0M2276.5 576.1h0M2156.5 606.4h0M2068.8 362.7h0M1821.9 542.2h0M1749.6 395.9h0M1870.8 367.1h0M2017.2 615.3h0M2002.2 450.1h0M2075.9 597.9h0"/>
<path stroke="#481c6e" d="M1726.5 448.4h0"/>
<path stroke="#21a585" d="M1854.7 568.9h0M2336 228.3h0M2171.2 177h0M1731.3 560.8h0M1798.9 530.8h0M1946.4 537.1h0M2324.3 280.7h0M1837.9 589.7h0M1876.4 341.2h0M1872.3 497.8h0M2243.3 262.8h0M1928.4 242.2h0M1773.1 285.1h0M1809.3 261.7h0M2133.4 402.1h0M1805.2 276.8h0M2209.5 603.4h0M2238 371.3h0M1788.8 528.8h0M2332.4 226.2h0"/>
<path stroke="#98d83e" d="M2246.9 229.6h0M2289.8 546.7h0M2042.6 603.8h0M2214.1 139.7h0M2249.8 222.9h0"/>
<path stroke="#31688e" d="M2002.1 381.7h0M2214.6 297.6h0M2215.1 459h0M1923.5 654.3h0M2206.9 651.5h0M2096.4 99.9h0M2189.4 213.6h0M2330.8 408.6h0M2314.5 430h0M2187.9 649.1h0M1849.6 666.7h0M2018.6 397.5h0M2157 477.7h0M2267.1 644.6h0M2011.8 374.7h0M1891.2 319.2h0M1704.6 104.8h0M2152.3 208.2h0M2012.5 650.8h0M2139.2 668.5h0M2285.8 326.2h0M2336.4 425.3h0"/>
<path stroke="#440154" d="M2179.6 443.3h0"/>
<path stroke="#453581" d="M2323.9 478h0M1713.1 628.3h0M2317.7 474h0M2348.9 486.9h0M1906.6 311.1h0"/>
<path stroke="#375b8d" d="M2225.6 306.2h0M1752.2 428.6h0M1705.3 660.9h0M2310.2 372.8h0M2039.5 318.6h0M1918.7 619.1h0M1916.2 640.2h0M1934.3 582.3h0M2265.4 127.1h0M2334.8 399.5h0M2194.3 411.6h0"/>
<path stroke="#1f998a" d="M1812.1 255h0M1782.9 296h0M2071.5 567h0M1715.8 201.2h0M2313.2 291.7h0M1760.2 343.8h0M2226.7 269.2h0M2107.2 315h0M1772.9 421.4h0M2329.6 219.5h0M1900.1 334.9h0M1957.8 501.2h0M1752.5 486.2h0M1814.7 287.5h0"/>
<path stroke="#24878e" d="M2015.5 156.3h0M2043.6 155.3h0M2110.9 142.5h0M1858.3 267h0M1707.3 572.8h0M1795 160.8h0M1987.3 419.4h0M2182.3 110.8h0M1895.7 269.4h0M1730.1 582.1h0M1943 637.3h0M2009 636.3h0M1714.9 577.9h0M2153.3 390.7h0M2062.2 498.1h0M2207.6 373.7h0M2235.2 477.3h0M1702.3 339.3h0M2218 488.1h0M1876.2 154.8h0M2068.1 437.8h0M1799.9 466.6h0M1728.1 413.7h0M1999.1 531h0M2087.1 626h0M1975 345h0M1887 531.3h0M1705.2 418.5h0M1976.2 484.6h0M2191 500.3h0"/>
<path stroke="#297b8e" d="M2263.6 320.8h0M2088.9 547.6h0M1853.6 248.2h0M1796.9 438.5h0M2204.7 366.9h0M2321.2 602.5h0M1974.8 497h0M2067.5 490.3h0M2260.7 416h0M2168.4 303.3h0M2073 150.5h0M2138.3 537.8h0M1885.1 169h0M1984.9 394.7h0M2101.7 228.9h0M2091.6 157h0M1918.6 231.8h0M2285.6 403.6h0M1900.9 178.8h0M1927.3 102.6h0M2017.6 427.8h0M2236.4 347.8h0M2045.7 144.1h0M2184.5 289.7h0M1923.4 134.1h0M2058.3 129.6h0M2033.2 141.3h0M2001.4 643.7h0M1839.4 480h0M1709.8 496.2h0"/>
<path stroke="#67cc5c" d="M1911.4 483.7h0M2025.5 242.4h0M2238.8 191.7h0M1912.5 485.3h0M2211.3 133.7h0"/>
<path stroke="#2e6e8e" d="M2139.1 173.5h0M2278.2 637.1h0M2134.4 219h0M2050.4 664.7h0M2085.6 171.4h0M1782.1 164.7h0M2150.9 223.2h0M2247.6 143.8h0M2143.5 473.5h0M1810.5 653.3h0M2224.5 444.6h0M2126.2 567.2h0M2326.9 646.4h0M1987.9 154h0M1891.7 190.1h0M1901.8 157.3h0M1837.5 668.8h0M2189.8 371.8h0M2306.9 427.4h0M1809.7 104h0M2187 637.7h0M2168.1 644h0M1753.7 141.8h0M1870.4 236.3h0M2315.3 140h0M2029.7 385h0M1990.4 501.7h0M2178.5 374.9h0M2292.1 635.9h0M2129.9 546h0M1993 149.9h0"/>
<path stroke="#4cc26c" d="M2282 590h0M1819 548.9h0M1823.6 544.3h0M2193.9 590.7h0M2224.2 211.2h0M2031.6 458.7h0M1840.2 546.4h0M2277.9 561.6h0"/>
<path stroke="#34618d" d="M1908.8 132h0M2167 218.4h0M2109.3 207.7h0M2219.4 669.8h0M1936.5 589h0M1694.4 176.8h0M2183.3 232.3h0M2182.9 354.3h0M2177.8 654.9h0M1739.2 126.8h0M1919.8 638.1h0M2294.1 322.3h0M1704 601.5h0M1777 200.4h0M1732.4 114.1h0M1738.1 190.1h0"/>
<path stroke="#404588" d="M1759.8 187.6h0M1898.4 642.3h0M2291.3 479.7h0M2334.4 464.1h0"/>
<path stroke="#1fa088" d="M2271.9 184.5h0M2348.3 236.4h0M1963.6 265.6h0M2211.7 209.4h0M1976.1 263.8h0M2246.8 616.9h0M1958.6 555.7h0M2264.1 553.7h0M1787.4 469.4h0M2176.9 127.8h0M2077.7 418.9h0M2151 627.4h0M1746.6 407.1h0M1868.4 338.4h0M1950.1 356.4h0M2093.9 656h0M2205.9 547.8h0M2134.2 622.1h0M2075.2 653.5h0M1724.7 556.3h0M1710.4 237.5h0M1722.6 244.2h0M2105.3 285.3h0"/>
<path stroke="#dde318" d="M2343.6 548.1h0"/>
<path stroke="#aadc32" d="M2305.1 534.8h0"/>
<path stroke="#2b748e" d="M2334.1 123.4h0M2003.1 335.7h0M2091.8 540.9h0M2271.2 342.7h0M2028.5 529.8h0M1910.4 155.5h0M2000.7 324.5h0M2082.4 459.3h0M2200.8 486h0M2275.4 631.1h0M2033.9 396.6h0M2073.7 208.9h0M2044.1 420.7h0M1937.5 612h0M2082.7 118.3h0M2224 634.4h0M1757.3 651.2h0M2330.5 125.8h0M1893.5 161.4h0"/>
<path stroke="#89d548" d="M2291.9 259h0M1896.5 383.1h0"/>
<path stroke="#25ac82" d="M2234.3 591.3h0M1980.2 585.8h0M1748 221.8h0M2122.9 415h0M1799.3 408.9h0M1948.8 410.1h0M2006.4 266.2h0M1725.1 389.1h0M2246.5 584.9h0M2227.2 595.8h0M2308.1 237h0M1999.9 175.6h0M2115.2 425.8h0"/>
<path stroke="#77d153" d="M2229.6 203.3h0M1817.6 564.1h0M1830.1 557h0M2260.1 235.7h0M1812.8 574.2h0"/>
<path stroke="#460a5d" d="M2189 447h0"/>
<path stroke="#3a538b" d="M2205.5 433.1h0M1722 122.4h0M2311.4 315.7h0M2325.1 501.6h0M1878 653.7h0M1828.6 121.5h0M2207.7 439.9h0M1875.7 660.4h0M1906.4 215.1h0"/>
<path stroke="#472d7b" d="M1697.8 623.6h0"/>
<path stroke="#228d8d" d="M2335 202.5h0M1946.5 169.8h0M1817.8 330.8h0M1799.1 333.8h0M2145.6 312.1h0M2063.9 219.8h0M2353.2 519.4h0M2036 290.6h0M1712.9 251.8h0M2061.4 656.5h0M1951.1 138.6h0M1960.4 470.7h0M1814.9 337.5h0M1856.3 321.3h0M1821.6 344.6h0M2004.1 493.3h0M1977.3 652.5h0M2022 554.1h0M2150.6 250.4h0M1781.8 335.9h0M1949.4 668.8h0M2016.7 508h0M1715.5 299.6h0M1865.7 141.9h0M2231 620.9h0M2340.3 266.3h0M2216.3 538.3h0M2084.4 230.7h0M2236.2 413.9h0M2168 123.8h0M1852.7 517.2h0M2082.8 623.9h0M2233.9 358.3h0"/>
<path stroke="#2db27d" d="M1767.5 579.7h0M1985.8 550.3h0M1991.2 596.7h0M1987.1 573.9h0M1795.2 501.8h0M1994 567.6h0M2086 404.9h0M2180.9 184.5h0M1885.7 340.8h0M2090.9 253.6h0M2186.7 561.9h0M1933.8 403.2h0M1931.1 256.5h0M2116.6 411.2h0M2132.6 355h0M2130.2 348.9h0"/>
<path stroke="#20938c" d="M2285.4 206.6h0M1849.2 342.5h0M2030.9 515.5h0M2052.3 179.1h0M1716.2 563.3h0M1853.2 140.9h0M2139.7 586h0M2081.6 638.5h0M1999.8 293.6h0M2260.5 282.1h0M1866.1 331.6h0M2237.6 568.4h0M2285.9 515.1h0M1691.7 242.3h0M1954.3 212.7h0M1968.4 401.3h0M1746.3 488.3h0"/>
<path stroke="#35b779" d="M1841.4 182h0M1929.4 416.2h0M1781.3 486.5h0M1748.7 378h0M2033.6 199h0M2276.7 220.7h0M1790.9 499.7h0M1920 396.3h0M1944.6 248.6h0M1745.6 233h0M2003.5 178h0M2230.7 244.5h0M2093.7 264.8h0"/>
<path stroke="#3a538b" d="M2297.5 335h0M1729.3 606.3h0M1726.9 635.4h0M1863.8 122.7h0M2352.7 142.4h0M2341.7 152.1h0M2080.1 488.5h0M2148.3 427h0"/>
<path stroke="#efe51c" d="M2325 546.1h0"/>
<path stroke="#2b748e" d="M1876 538.8h0M2078.3 538.1h0M2351.6 121h0M2248 299.4h0M2095 159.4h0M1756.1 630h0M2289 415.1h0M1988.3 495.1h0M1831.1 641.7h0M2309.3 186.6h0M2220.2 424h0M2146.6 172.8h0M2108.2 572h0M1789.1 648.6h0M2292.3 130.3h0M2073.4 133.3h0M2354 673h0M2292.9 388.4h0M2338.5 182h0M1865.4 200.8h0M2353.6 300.8h0M1802 645.8h0M2237.3 635.1h0M1943.7 328.7h0M2110.4 223.7h0M2115.7 590.2h0M2036.1 407.8h0M1902.1 180.4h0M1993.8 369.9h0"/>
<path stroke="#2db27d" d="M1860.2 164.2h0M2191.4 607.6h0M1915.7 398.4h0M1855.9 152.3h0M1701.1 407.7h0M1996.9 560.2h0M1983 574.6h0M1917 407.5h0M2101.5 325.2h0M1798.2 270.4h0M2211.5 573.8h0"/>
<path stroke="#fde725" d="M2202.4 166.7h0"/>
<path stroke="#404588" d="M2304 456.5h0M1877.5 104.4h0M1697.4 465.2h0M1894.7 658.1h0M1723.4 136.9h0M2288.4 468.5h0M1905.1 649.5h0M1880.2 573.6h0M1727.4 157.8h0"/>
<path stroke="#cde11d" d="M2312.7 537.5h0"/>
<path stroke="#1fa088" d="M2208.1 207h0M2060.8 359.8h0M2175.6 553.2h0M2200.4 201h0M1812.4 376.7h0M1948 354.5h0M2110.4 249.9h0M2234.7 265.5h0M1952.2 385.5h0M1817 399.1h0M1938.1 234.7h0M2242.3 366.4h0M2342.7 214.4h0M1783.3 116.5h0M1981.4 537.6h0M1835.2 386h0"/>
<path stroke="#77d153" d="M1776.7 397.4h0M2290.5 267.9h0M1914.4 455.5h0M1881.5 377.8h0M2029.5 465h0M1998.7 226.1h0M1918 511.2h0M2029.3 246.5h0"/>
<path stroke="#482576" d="M1851.5 110.6h0"/>
<path stroke="#40bd72" d="M2214.3 198.6h0M2032.3 220.2h0M1778.6 577.1h0M1848.7 153.9h0M1754.5 249.7h0M1900 424.5h0M1930.9 446.4h0M2198 577.7h0M1793.4 370.2h0M1907.8 520.8h0M1874.2 391.8h0M1790.6 266.5h0"/>
<path stroke="#31688e" d="M2328.5 305h0M2010.2 389.9h0M1882.4 297.7h0M2133.1 204.4h0M2098.3 213.7h0M1883.6 233.5h0M2207.4 471.8h0M2316.1 395.3h0M2049.7 337.1h0M2266 451.4h0M2009.7 321.6h0M2046.6 311.4h0M2136.3 198.1h0M1702.4 429h0M2272.9 432.4h0M1741.5 632.4h0M2016.4 404.3h0M2127.6 552.7h0M2303.9 381.4h0M1855.7 636.6h0M2216 455h0"/>
<path stroke="#1f998a" d="M2155.2 496.6h0M1724.9 322.9h0M2214.9 377.6h0M1858.7 346h0M1806.4 291.3h0M2273.5 523.9h0M2123.1 278.7h0M1765.7 308.3h0M1743.8 495.7h0M2153 521.2h0M2256.7 375.5h0M1956.4 361.5h0M2225.1 566.6h0M1765.4 321.2h0M1867.5 171.7h0M2049.2 455.9h0M1795 348.8h0M2280.8 290h0M2049.8 509.1h0M1858.9 543h0M2246 405.3h0M1982.9 460h0"/>
<path stroke="#460a5d" d="M2183 429.4h0"/>
<path stroke="#440154" d="M2167.3 452h0M1908.6 571h0"/>
<path stroke="#297b8e" d="M2300.3 136.3h0M2196.4 382.4h0M1864.4 243h0M1828.2 635.7h0M2140.4 232.8h0M2141.2 480.2h0M1764.7 637.1h0M2348.2 604.6h0M2039.7 551.4h0M2269.3 356.2h0M1703.3 586.7h0M2055.5 137.1h0M2119.7 512.6h0M2088.8 145.8h0M2299.3 115h0M1776.8 641.6h0M1709.4 420.6h0M2142.9 419.2h0M2016.8 535.2h0M1803.8 639.2h0M2051 351.6h0M2261.2 159.5h0M1872.5 541.2h0M2097.2 554.5h0M2286.9 307h0"/>
<path stroke="#67cc5c" d="M2079.9 353.4h0M1935.6 504.7h0M1919.5 353.7h0M1921.2 453.4h0M2027.3 489.7h0M1757.3 392h0M2225.4 189.9h0M2233.2 226.9h0"/>
<path stroke="#3d4d8a" d="M2336.6 356.9h0M1886.8 610.3h0M1701.7 170.3h0M2201.7 428.2h0M2298.9 491.5h0M2216.5 340.6h0"/>
<path stroke="#25ac82" d="M1741.1 549.9h0M1885.5 509.6h0M1724 400.7h0M1967.9 557.5h0M1797.7 491.3h0M2137 377.3h0M1938 261.4h0M1820.7 186.7h0M1989 602.4h0M1887.9 409.3h0M1968.7 204.3h0M1796.4 363.4h0M1825 592.4h0M1706.4 210.8h0"/>
<path stroke="#5ac864" d="M1899 492.5h0M1841.9 565.4h0M1919.3 487.7h0M1927.2 493.8h0M2011.7 471.7h0"/>
<path stroke="#26818e" d="M2316.7 118.6h0M2122.3 469.3h0M1699.1 518.1h0M1871.9 285.9h0M2307.7 107.5h0M1756.5 131h0M1689.2 256h0M1957.5 160.5h0M2316.2 298.4h0M2014.3 105.9h0M1758.3 605.3h0M2304.7 508.7h0M1708.6 551.5h0M1847.3 602.4h0M2336.8 590.4h0M2274.6 393.2h0M1951.5 206.4h0M1940.7 631h0M2114.8 613.2h0M2047.6 520.3h0M2125 594h0M2180.4 284.6h0M1875.8 185.7h0M2293.3 191.5h0M1990.2 348.6h0M1769.4 672.3h0M2055.1 301.5h0"/>
<path stroke="#89d548" d="M2019 200h0M2288.8 565.8h0M1775.2 392.3h0M2297.7 532.7h0"/>
<path stroke="#98d83e" d="M2038.1 597.3h0M2002.5 217.3h0M2049 251.2h0"/>
<path stroke="#aadc32" d="M1994.6 212.2h0"/>
<path stroke="#24878e" d="M2240 472.4h0M2149.4 298.6h0M1755.1 120.6h0M1926.8 540.5h0M1968.1 512.9h0M2221.1 490.8h0M2250.3 353.5h0M2052.8 294.8h0M1729.5 265.1h0M1962.1 180.1h0M2157.7 179.7h0M2345.6 253h0M1993.4 305.5h0M1979.3 373h0M2155.6 156.2h0M2162.3 136.2h0M1719.3 358.1h0M2250.4 487.6h0M2348 105.8h0M1701.3 290.5h0M1981.8 340.5h0M2159.5 635.6h0M1971.4 330.8h0M1965.9 179.7h0M1973.1 172.5h0M2147.5 351.9h0M2074.5 316.9h0M2074.1 442.4h0M2047.9 398.7h0M1723.6 513.3h0M1994.4 634.2h0"/>
<path stroke="#375b8d" d="M2277 454.1h0M2242.6 107.2h0M2259.2 105.1h0M1924.4 551.7h0M1717 426.9h0M1736 183.4h0M1813.2 230h0M1691 479.1h0M1710.2 603.6h0M1730.3 125.3h0M1897.6 136.7h0M2310.7 441.3h0M2342.3 447.3h0M2333.4 449.9h0"/>
<path stroke="#481c6e" d="M1847.5 105.7h0"/>
<path stroke="#34618d" d="M2204.1 420.8h0M1853.4 220.9h0M2296.2 498.9h0M2200 299.9h0M1904.5 323h0M2044 663.1h0M1721.2 671.7h0M1717.7 108.8h0M1887 226.4h0M1903 100.2h0M2279 487.3h0M2097.6 529h0M2350.9 171h0M1721.3 178.9h0M2178.2 313.7h0M2040.4 313.5h0M2268.9 113.2h0M2217.2 667.7h0M1694.7 113.6h0M1887.8 293.4h0"/>
<path stroke="#453581" d="M2150.4 456.2h0M1917.1 290.4h0M1710 155.2h0"/>
<path stroke="#433d84" d="M1831.5 114.8h0M2212.5 316.7h0M1913.5 288h0M1838.3 423h0M2346.4 497.4h0"/>
<path stroke="#228d8d" d="M2254.3 561.3h0M2193.7 115.8h0M2218.2 276.2h0M1811.2 317.3h0M1718.9 337.2h0M1852.3 296.3h0M1823.4 347.3h0M1956 595.1h0M1986.1 631.5h0M2229 502.4h0M1949.5 112.7h0M1727.3 347.6h0M1838.5 271h0M1917.8 536.8h0M1808.9 341.9h0M1875.2 522.5h0M1974.5 663.7h0M2243.6 496h0M2055 400.8h0M2195.9 619.2h0M1948.3 163.2h0M2033 518.2h0M1965.1 506.2h0M2004.1 296h0M2057.2 462.9h0M1989.3 103.5h0M2013.6 434.1h0M1872.6 157.2h0M1882.7 329.6h0M1944.1 140.7h0"/>
<path stroke="#472d7b" d="M1714.2 456h0M1705.7 153.1h0"/>
<path stroke="#21a585" d="M2079.2 667.7h0M2223.5 384.8h0M2010.7 440.9h0M2223.2 245.2h0M2248.2 398.5h0M1850 537.1h0M1795.4 280.9h0M1713.2 208.4h0M2070.2 348.1h0M1998.4 270.1h0M2078.1 660.2h0M1722.3 382.7h0M1774.9 471.3h0M2196.1 122.6h0M1729.1 240.2h0"/>
<path stroke="#4cc26c" d="M2272.2 597h0M2116.7 336.1h0M2226.4 150h0M1912.2 426.4h0M1927.8 479.5h0M1893.3 444.8h0M2057 580.4h0M2067.1 610.6h0M1894 502.6h0"/>
<path stroke="#2e6e8e" d="M2145.4 653.2h0M1695 489.9h0M2168.8 326.4h0M1954.8 320h0M2261.8 439.6h0M1717.3 485.7h0M1959.3 309.3h0M2208.3 104.5h0M2322.3 419.5h0M1938.6 596.9h0M1744.6 598.1h0M2232.3 295h0M2328 646h0M2030.6 402.9h0M1909.4 187.5h0M2257.6 443.9h0M2037.3 418.4h0"/>
<path stroke="#20938c" d="M1991.6 478.2h0M2066.6 423.7h0M2117.4 243.5h0M2181.7 261h0M1747.7 341h0M2016.2 289.4h0M2154.8 263.4h0M1928.3 267.7h0M1963.8 436.5h0M1972.7 108h0M1816.8 298.7h0M2024.5 160.1h0M2086.1 577.2h0M1774.7 130.7h0M2338.9 278.6h0M1978.7 628.9h0M1846 313.9h0M1925.3 235.6h0M1975.9 434.7h0M1832.5 506.3h0M1962.6 359.1h0M1957.7 349.2h0M1794 126h0M1830.6 301.1h0M2063.9 560.6h0M1952.1 464.6h0M1776.4 314.9h0M1778.3 223.9h0"/>
<path stroke="#efe51c" d="M2095.8 360.3h0"/>
<path stroke="#24878e" d="M2228 416.6h0M2243.8 155.3h0M1717.5 351.7h0M2100.1 463.5h0M1934.4 124.2h0M2038 104.7h0M1709.6 345.5h0M1804 198h0M2262.7 362.2h0M1965.3 335.1h0M1847.6 597.2h0M2279.9 169.7h0M2159.7 129.9h0M1952.7 583.1h0M1727.1 498.3h0M2075.5 312.9h0M2072.4 319h0M1872.8 253.4h0M2106.5 236.8h0M2352.3 250.3h0M2072.8 552.4h0M1973.5 337.5h0M1991.4 101.7h0M2132.3 587.8h0M2130 501.9h0M2158.8 544.1h0M1812.7 133.1h0M2181.2 105.5h0"/>
<path stroke="#67cc5c" d="M1932.8 515.9h0M2089.4 392.2h0M2124.6 361.2h0M1826 555.5h0M2275.7 254.8h0M2004.9 228.5h0M2303.5 578.5h0M2070.9 257.8h0M1888.4 384.6h0"/>
<path stroke="#77d153" d="M1912.7 351.3h0M1880 375.9h0M2041.9 484h0M2103.9 336.4h0"/>
<path stroke="#1f998a" d="M2169 559.2h0M2236.8 157.4h0M1761.4 593.9h0M2177.3 523.3h0M2175.3 526h0M2179.8 539.9h0M1766.8 302h0M2195.3 533.5h0M2233.3 614.2h0M2132 610.9h0M2076.8 233.6h0M1776.6 300.4h0M2006.6 436h0M1789.9 99.2h0M2133.5 327h0M2073.9 632.2h0M1752.9 584.1h0M2127.8 268.7h0M2050.6 288.2h0M2150 578.6h0"/>
<path stroke="#404588" d="M2091.3 498h0M1688.4 127.4h0M1745.4 430.7h0M1911.5 600.1h0M1823.1 107.8h0M1893 634.5h0M1748.2 455.3h0M2206.7 310.4h0M1891.5 552.1h0M2315.3 329.1h0"/>
<path stroke="#453581" d="M1904.9 309h0"/>
<path stroke="#481467" d="M2166 425.2h0"/>
<path stroke="#40bd72" d="M1773.2 497h0M1898 513.8h0M2052 275.9h0M1783.5 590.1h0M1781.4 583.8h0M1930 468.3h0M2266.9 205.7h0M2200.9 584.4h0M2280.1 536.9h0"/>
<path stroke="#25ac82" d="M2188.1 192.3h0M1730.5 220h0M1941.1 475.5h0M2044.7 570.6h0M2093.5 433.6h0M2054.3 492.1h0M2067.7 355.3h0M1863.2 400.5h0M2343.2 569.8h0M2037.7 184.8h0M1922.5 253.8h0M2106.6 264h0M2171.5 163h0M2240.1 373.1h0"/>
<path stroke="#4cc26c" d="M1906.8 391.2h0M2244.1 187.4h0M1928 362.3h0M1785.8 578.9h0M2221.4 205.2h0M1833.1 179.2h0M2013.5 604.8h0M1828.7 580.6h0M2025 267.3h0"/>
<path stroke="#31688e" d="M1902.5 279.9h0M2176.6 368.6h0M2338.8 414.7h0M2348.8 434h0M2282.8 669h0M2015.4 344.4h0M2255.6 146.5h0M1740 653.6h0M1834.5 206.3h0M2197.2 642.7h0M1755.4 461.6h0M1910.2 542.9h0M1773.6 156.6h0M1861.9 228.8h0M2263 647.3h0M2272.6 482.4h0"/>
<path stroke="#aadc32" d="M2086.5 380.2h0M2010.9 207.4h0M2309.8 570h0"/>
<path stroke="#433d84" d="M1885.9 588.5h0M2213.6 329.4h0M1898.2 301.9h0M2303.7 460.5h0M1698.3 451.3h0M2189.9 470h0M1696.5 644.9h0"/>
<path stroke="#2db27d" d="M1760.4 497.9h0M2008.7 259.5h0M1967.2 243.8h0M2227.1 240.4h0M1995.1 466.3h0M1780.8 274.7h0M2080.2 276.6h0M2041.4 630.5h0M1880.2 474.1h0M2094.4 414.2h0M2204.9 600.5h0"/>
<path stroke="#bade28" d="M2188.3 152.4h0"/>
<path stroke="#3a538b" d="M2344.5 392.5h0M1743.2 185.5h0M2308.7 496.8h0M2306.1 352.3h0M1812 442.9h0M2103.8 505h0M2083.7 486.1h0M2036.4 667.1h0M2092.6 483.4h0M1854.1 457.8h0M2331.8 503.4h0M2087.8 518.6h0"/>
<path stroke="#228d8d" d="M2160.9 151.3h0M1876.8 430.9h0M1945.5 117.1h0M2277.3 517.5h0M1770.6 612.8h0M2144.6 317.1h0M1714.3 251.4h0M1771.2 425.9h0M2307.6 599.1h0M1741.6 209.1h0M1849.6 407.9h0M1960.7 447.7h0M1724.8 527.4h0M2163.8 121.7h0M2194.7 505.2h0M2096.5 308.1h0M1856.6 308.5h0M1694.9 355.9h0M1800.3 125.6h0M2158.1 280.4h0M1876.6 262.2h0M2027.7 292.4h0M2126.6 646.3h0M1731.8 205.4h0M1792.1 319.7h0M1837.9 489.6h0M2151.2 570.3h0M1796.1 101.3h0M2255.7 551.9h0M1931.6 148.5h0M1839.2 361.7h0M2081.3 562.7h0M1767.8 463.4h0M2223.7 125h0M2328.2 204.9h0"/>
<path stroke="#1fa088" d="M1960 568h0M1763.1 414.3h0M1987.4 283.2h0M1962.3 412.9h0M2121.4 259.6h0M2057.3 382.9h0M1806.3 488.6h0M1959.2 527.9h0M1990.6 280.8h0M1778.7 121.4h0"/>
<path stroke="#34618d" d="M2174.3 480.1h0M1842.3 212.3h0M2322.9 438.2h0M1867.7 665.4h0M2097.1 192.3h0M1899.2 115.4h0M2116.2 177.7h0M2112.1 486.4h0M2341.3 307.7h0M2238.7 649.6h0M2175.4 320.4h0M2168.6 403.7h0M2155.7 664h0M2105.1 188.6h0M1862.2 426.2h0M2027.5 355.8h0M1821.2 419.8h0M2244.3 663.2h0M1923.7 196.4h0M2238.3 309.2h0M2329.2 138.2h0M1922.2 630.7h0"/>
<path stroke="#cde11d" d="M2315.5 562.1h0"/>
<path stroke="#482576" d="M1736.9 437.7h0"/>
<path stroke="#26818e" d="M2249.2 460.8h0M2143.8 133h0M1889.7 327.4h0M2306.3 108.1h0M2340.8 594.5h0M1985.3 524.3h0M2210.5 283.7h0M2270.2 163.6h0M1868.7 536.1h0M2240.7 628.5h0M1803.7 119h0M2083.4 455.5h0M2146.5 534.8h0M2065.6 176.1h0M1968.3 323.9h0M2137.1 119.2h0M1990.7 417h0M2276.3 379.1h0M2046.2 521h0M2337.5 295.9h0M1865.8 565.2h0M2113 615.6h0M2107.1 145.5h0M1987.7 659.6h0M2280.3 510.8h0M2087 457.6h0M1968.6 301.1h0M1845.5 195.9h0M2328.9 514.6h0M2108.4 130.9h0M2299.4 300.9h0M1703.7 260.9h0M1774.4 629.7h0M2249.6 628.1h0M2263.3 306.8h0"/>
<path stroke="#5ac864" d="M2273.3 234.9h0M2017.4 230.3h0M2301.4 580.9h0M2318 574h0M1897 449.2h0M1922.8 375.4h0M1896.7 463.3h0"/>
<path stroke="#21a585" d="M2252.7 378.2h0M1807 173.3h0M1729.7 384.5h0M2079.2 407.3h0M1758.2 522.5h0M1751.7 535.8h0M1747.5 537.9h0M1844 386.4h0M2274.3 195.7h0M2345 571.7h0"/>
<path stroke="#375b8d" d="M1889.2 219.6h0M2235.6 100.3h0M1769.3 164.4h0M1831.8 227.4h0M2185.7 221.1h0M1700.8 117.6h0"/>
<path stroke="#89d548" d="M2057.5 258.2h0M2032.4 249.1h0M1985.9 209.5h0M1778.8 379.5h0"/>
<path stroke="#472d7b" d="M1923.3 573.1h0M1888.7 581.7h0"/>
<path stroke="#2e6e8e" d="M1874.8 547.9h0M2005.4 360.8h0M2322.6 659.7h0M1757.8 145.6h0M1997.3 401.7h0M2035.4 536.4h0M1940.5 210.1h0M2196.7 400.4h0M1943.1 199.6h0M2161.7 401.6h0M2174.9 386.5h0M2301 620.6h0M2111 564.6h0M1995.3 383.8h0M2008 414.6h0M1785.2 202.2h0M1916.3 143.6h0M1743.1 660.3h0M1794.3 211.7h0M1803 454.5h0M2071.4 467.5h0M1824 657h0M2104 164.5h0"/>
<path stroke="#297b8e" d="M2042.9 435.3h0M2249.6 455.7h0M1946.9 277.8h0M1811.8 632.1h0M2142.2 154.3h0M2259.4 481.5h0M1832 613.7h0M2008.2 128.5h0M1992.4 319.5h0M2009.6 152h0M2069.9 161.7h0M1693.8 504.5h0M2068.8 102.3h0M2244 542.8h0M1997.2 645.8h0M2146.3 167.8h0M1782.6 672.6h0M2257.3 630.8h0M2024.4 547.3h0M2347.9 600.8h0M1936.2 669.1h0M2070.6 211.6h0M2202.8 288.7h0M2258.5 418.1h0M2155 344.7h0M2081.5 139.6h0"/>
<path stroke="#98d83e" d="M2045.3 251.9h0M2012.4 195.1h0M2219.2 176h0M2194.1 178.1h0M2335.2 557.9h0"/>
<path stroke="#460a5d" d="M2185 457.9h0"/>
<path stroke="#2b748e" d="M2264.3 632.7h0M2283.8 503.9h0M2324.5 184.1h0M2157.2 359.5h0M2251.7 338.9h0M1817.2 639.9h0M2253.8 453.3h0M2106 601.1h0M2094.9 543.3h0M2312.5 169.1h0M2250.8 428.6h0M1788.1 214.1h0M2072 190.2h0M2045.9 549.3h0M2109.5 121.3h0M2347 661.9h0M1786.7 216.7h0M2239.6 131.9h0M2010 307.6h0M2099 469.6h0M2204.6 483.1h0M1996.5 326.6h0M2038.7 432.9h0M2268.2 422.3h0M2322.8 186.2h0M2154.6 237.4h0M2280.6 408.2h0"/>
<path stroke="#3d4d8a" d="M1772.7 188.4h0M1883.9 111.8h0M2085 507.4h0M1710.7 435.1h0"/>
<path stroke="#35b779" d="M1843.4 149h0M2010.9 253.1h0M1997.9 588.2h0M2031.9 575.7h0M2072.2 387.4h0M2167.8 582.8h0M1935 451.3h0M2013.8 264.4h0"/>
<path stroke="#481c6e" d="M2192 435.8h0M1829.3 449.7h0"/>
<path stroke="#aadc32" d="M1892.5 369.6h0M2219.5 162h0"/>
<path stroke="#40bd72" d="M2294.3 239.6h0M1826.1 151.4h0M1909.6 420.4h0M2006.4 238.9h0M1821.7 156h0M2029.1 623.5h0"/>
<path stroke="#21a585" d="M1950.2 422.5h0M1735.1 545.5h0M1918.1 339.1h0M2092.1 662.6h0M1809.9 598.9h0M1961.6 544.4h0M2058.5 371h0M1947.1 429.6h0M2234.5 605.9h0M1718.3 405.6h0M2121 321.9h0M1944.8 454.3h0M2053.6 227.3h0"/>
<path stroke="#472d7b" d="M1897.5 556.7h0M1696.4 139.3h0M1932.5 306.9h0"/>
<path stroke="#24878e" d="M1693.6 332.5h0M1983.2 118.8h0M1981.1 668.1h0M2170.5 489.5h0M2255.2 523h0M1694 292.6h0M2061.6 180.6h0M2124.1 607h0M1856.9 192.2h0M1703.5 353.8h0M2340.7 99.5h0M1926.9 153.1h0M2185.9 625.3h0M1860.8 295.7h0M2253.2 625.7h0M2344.8 195h0M1999 162.7h0M2156 287h0M1980.9 406.6h0M2238.2 470.6h0M1946.1 174.9h0M1766.2 135.2h0M1712.2 549.2h0M1760.1 421.2h0M2227.8 478.9h0M1886.4 269.8h0M1695.8 325.7h0M2001 302.7h0"/>
<path stroke="#2b748e" d="M2187.8 389.8h0M2351.1 665.9h0M1753.6 640.7h0M2203 404.7h0M2000.3 135.9h0M2337.2 672.7h0M1692.9 182.8h0M1692.3 500.4h0M1827.4 130h0M1920.5 327.9h0M2075.1 196.5h0M2297.4 412.4h0M1842.2 633.3h0M2243.2 434.8h0M1805.4 429.8h0M2131.2 162.4h0M2302.7 399.4h0M1929.9 658.6h0M1878.2 196.9h0M1844.9 475.3h0M2255.4 318.4h0M1756.3 206.7h0"/>
<path stroke="#297b8e" d="M1775.7 651h0M2128.4 101.5h0M1759.6 662.4h0M1974.1 167.4h0M2021.9 525.2h0M1817.4 202.1h0M2160.4 309.5h0M1989.6 365.6h0M1748.9 118.2h0M1875 314.4h0M2087.6 141.7h0M1973.7 508.6h0M1829.6 620.4h0M1801.8 204.6h0M2124.5 476h0M1861.5 590.8h0M2101.9 613h0M1995.3 125.6h0M1705.5 184.9h0M2064.4 452.8h0M2031.2 139.2h0M1929.7 182.8h0M2099.6 619.7h0"/>
<path stroke="#26818e" d="M1844.7 254.4h0M1917.4 174.6h0M1988.5 342h0M1859.5 414.3h0M2066.5 334h0M1788.4 152h0M2276.8 624.8h0M2308 604.1h0M2313.7 111.9h0M2186.1 248.3h0M1728.3 279.7h0M1717.2 276h0M2289.6 160.4h0M1702.5 278.1h0M1815.9 627.5h0M2283.3 163.4h0M2285.4 303.3h0M2018.4 109.7h0M2193.5 492.9h0M2164.4 294.5h0M1720.2 273.4h0M1866.5 249.3h0M2332.7 114.6h0M1771.7 433.8h0M1807.7 419.3h0M2054.5 115.8h0M2135.2 581.1h0M2151.4 132.6h0M2019.6 519.2h0M1985.4 317.4h0M1775.8 145.4h0M2323.6 596.6h0M2170.6 292.1h0M1695.2 271.3h0M1709.2 286.6h0"/>
<path stroke="#98d83e" d="M2287.6 553.4h0"/>
<path stroke="#34618d" d="M1718.1 664.9h0M2034.4 354h0M2242.1 652h0M1848.1 417.6h0M2165.6 227.5h0M2091.9 187.7h0M2164.2 671h0M2210.9 660.6h0M1871.2 600.7h0M2276.3 117h0M1870.2 605.6h0M2209.1 431h0M2172.5 659.2h0M2335.4 135.8h0M1844.2 210.5h0M2180.8 661.6h0M2295 359.3h0M1907.4 144.3h0M1933.4 205.6h0M2294.6 436.6h0M2120.3 192.6h0M1767.2 203h0M2268 139h0"/>
<path stroke="#375b8d" d="M1871.4 662.8h0M1898.6 203.5h0M2105.7 482.6h0M2221.9 304.7h0M2350.5 167h0M1877.3 598.3h0M1754.4 457.7h0M2256.8 134.2h0"/>
<path stroke="#228d8d" d="M2353.7 200.1h0M1956.2 103.4h0M2154.2 107.9h0M1777.6 331.3h0M1973.4 405.9h0M1778 456.9h0M1969.9 119.2h0M1742.7 283.9h0M2157.3 100.8h0M1720.9 532h0M1712.1 193.7h0M2216.6 509.4h0M1859.6 279.3h0M1768.6 217.6h0M2317 221.3h0M1700.3 249h0M1970 381.3h0M2186.9 199.8h0M2257.9 540.6h0M2176.4 257h0M2089.1 314.8h0M2139.7 488.7h0M2286.5 189.1h0M1763.6 129.2h0M1832.7 335.4h0M2100.5 302.1h0M1713.4 570.4h0"/>
<path stroke="#20938c" d="M2065.8 670h0M2131.7 423.4h0M2138.8 406.4h0M2263.5 386.9h0M1793.6 467.1h0M2133.3 305h0M2108 651.1h0M1893.5 258.2h0M2081.9 297.9h0M2033.4 637.9h0M2300.6 512.8h0M2033.1 561h0M2050.2 168h0M1960.2 370.3h0M2235.1 360.1h0M2121.7 636.1h0M1847.9 363.9h0M1736.7 362.6h0M2201.2 615.2h0M2142.6 494.8h0M2058.6 470.1h0M2127.7 438.7h0M1954.1 633.6h0M1825.6 265.9h0"/>
<path stroke="#4cc26c" d="M2182 602.2h0M2300.8 243.7h0M1892.3 467.8h0M1771.9 263.8h0M1805.8 585.9h0M2068.3 610.2h0M2026.6 224.9h0M2128.9 363.6h0M1698.7 396.5h0M2234.6 239.9h0M2284.8 583.3h0"/>
<path stroke="#67cc5c" d="M2027 589.3h0M1905.6 470.4h0M1908.1 441.7h0M2230.8 215.7h0M2203.9 188h0M2304.2 250.9h0M1834.3 559.4h0M2262.3 242h0M2020.2 223.6h0M1901.4 498.5h0M2068.6 596.1h0"/>
<path stroke="#77d153" d="M2014.6 188.4h0M2190.4 181.1h0M2060.4 264.9h0"/>
<path stroke="#35b779" d="M1975.5 237.1h0M2082 396h0M1800.1 384.3h0M1794.4 257.4h0M1781.7 505.7h0M2157.5 592.3h0M2318.6 255.4h0M1697.3 385.1h0M1744.5 233.7h0M2311.6 521.5h0M2049.4 627.7h0M1715.4 398.8h0"/>
<path stroke="#89d548" d="M2294.7 265.8h0M2338.2 533.3h0"/>
<path stroke="#404588" d="M1903.5 605.8h0M1890.4 645h0M1747 173.6h0M1902.2 656.2h0"/>
<path stroke="#3a538b" d="M1873.1 630.3h0M2230.3 323.5h0M2329.8 452.3h0M1724.2 642.6h0M2144.6 442.7h0"/>
<path stroke="#31688e" d="M2017.8 350.5h0M2285.2 644.3h0M2023.8 416h0M1825.5 239.3h0M2174.7 648h0M2283.6 332.9h0M1884.7 291h0M2343 128.6h0M2286.7 648.1h0M2266.3 465.6h0M2173.1 349.5h0M2007.4 655.4h0M2199.2 224.5h0M1703.1 110.9h0M2204 662.7h0M1744.3 603.2h0M2299.8 641.9h0M1852 637.5h0"/>
<path stroke="#433d84" d="M2345.4 471.6h0M2292.7 470.9h0M1895.1 595.9h0M2305.9 485.2h0M2150.2 460h0M2326.1 466.8h0M1700.5 458.6h0"/>
<path stroke="#2db27d" d="M2250.1 587.1h0M1750.8 405h0M1954.4 256.8h0M1804.4 395h0M1783.2 357.2h0M1733.4 226.7h0M2208.5 598.4h0M2086.8 249.6h0M2279.4 277.6h0M2242.8 600h0M2102 426h0M1766.7 511.6h0M1902.3 413.8h0"/>
<path stroke="#bade28" d="M1997 204.8h0"/>
<path stroke="#1fa088" d="M1739.9 257.6h0M1698.5 198.8h0M1979.4 277.2h0M1762.7 543.4h0M2164.9 506.4h0M2057.9 635.3h0M1765.2 529.1h0M2113.3 274.5h0M2115 272.7h0M1727.6 545.1h0M2043.9 187.2h0M2009.5 555.1h0M1958.1 415.3h0M2344.2 522.1h0M1790.2 607.1h0M2270.3 529.8h0M2152.2 629.3h0"/>
<path stroke="#5ac864" d="M1921.7 378.3h0M1877.6 364.7h0M1925.8 364.1h0M1983.6 197.9h0M2264.5 212.9h0M1916.7 520.1h0"/>
<path stroke="#fde725" d="M2205.8 145.8h0M2209.8 154.9h0"/>
<path stroke="#25ac82" d="M1942.1 393h0M1699.7 220.1h0M1853 561.8h0M1788.2 554.9h0M2268.8 612.1h0M1784.5 557.6h0M1940.7 443.5h0M2295.4 592.8h0M2077.5 341.5h0M1826.4 528.2h0M1792.4 552.5h0"/>
<path stroke="#2e6e8e" d="M1851.1 618.4h0M1858 607.4h0M1926.5 661h0M2081.7 198.4h0M2269.2 490.2h0M2113.8 535.4h0M2277.4 328.5h0M1811.7 209.9h0M2040.1 654h0M2247.7 330.1h0M1931.9 189.5h0M2313 406.5h0M2288.6 368.1h0M2085.1 535.7h0M1863.6 202.9h0M2201.4 231.3h0M1941.6 572.2h0M1844.3 631.5h0M2281.4 422.6h0M2102.8 116.4h0M2021.5 306.6h0M1912.4 275.6h0M2063.3 513.9h0M2271.3 494.7h0M1873.3 207.1h0M2244.9 336.8h0M2194.5 295.6h0M1789.3 192.8h0M1993.6 387.8h0M2265.2 468.2h0M2282.2 356.5h0M2304.5 627.2h0M2000 670.5h0M1749.3 638.4h0M2117 533h0"/>
<path stroke="#482576" d="M1839.2 103h0M1920.1 297.1h0M1922.1 576h0M1699.9 625.4h0M1857.6 99.6h0"/>
<path stroke="#3d4d8a" d="M2028.1 669.5h0M2351.8 462.2h0M2308.6 344.8h0M2320.6 365.7h0M2321.9 342.2h0M1718.9 168.2h0M1730.4 621.9h0M1908.3 628.6h0M2210.1 341.4h0"/>
<path stroke="#1f998a" d="M2117.5 450.5h0M2183.5 618.6h0M1956.7 268h0M2096.9 649.3h0M2333.2 243.2h0M1868.3 507.2h0M2220.3 269.9h0M1851.7 354.2h0M2148.9 519.5h0M1906.1 258.6h0M1979.8 617.7h0M2110.2 456.8h0M2339.8 239.1h0M2207.9 253.3h0M1824.4 280.5h0M2141 365.4h0M2174.6 188.9h0M1964.3 592.2h0M1723.3 556.7h0M2168.9 515.3h0M1749.8 297.7h0M1725.9 568.6h0M1761.2 100.1h0M1707.8 196.1h0M2084.2 614.8h0M1966.1 412.5h0"/>
<path stroke="#24878e" d="M2330.6 293.8h0M1819.6 252.1h0M1985.1 312.4h0M1867.3 461.2h0M1962.2 280.1h0M1936.6 113h0M2095.2 607.8h0M2045.1 442h0M1805.4 617.9h0M1822.7 484.2h0M1944.4 625h0M1718.5 288.3h0M1699.3 328.1h0M1857.1 476.6h0M1966.7 462.5h0M2172.1 282.8h0M1941.8 654.6h0M1764.5 213.8h0M2289.3 182.4h0M2006.9 499.3h0M2007.2 158.7h0M2152.8 315.6h0M2072.1 306h0M1998 491h0M2179.4 254.3h0"/>
<path stroke="#433d84" d="M1706.8 444.2h0M1700.2 453.7h0M1729.8 465.7h0M1884 586.6h0"/>
<path stroke="#26818e" d="M2283.8 623h0M2312.8 510.2h0M2272.4 364h0M2146.9 405.7h0M1881.1 247.2h0M2228.6 545.3h0M1910.6 238h0M1720.8 506.6h0M2004.5 116.8h0M2059.6 151h0M1981.5 169.3h0M1745.2 481.2h0M2252 290.3h0M2239 556.1h0M2209.4 234h0M2244.7 286.3h0M2267.4 304.1h0M1966.2 294.3h0M1688.5 566.2h0"/>
<path stroke="#efe51c" d="M2308.8 541.9h0M2102.5 357.6h0M2092.8 367.5h0"/>
<path stroke="#35b779" d="M2273.8 551h0M1934.8 246.8h0M2103.4 411.5h0M1782.7 411h0M2189.7 128.9h0M1768.9 504.9h0M1835.5 582.9h0M1946.7 510.9h0M2169.6 611.4h0"/>
<path stroke="#1f998a" d="M1780.1 535.6h0M1785.9 464.2h0M1821.3 286.8h0M2271.5 285h0M1752.7 351.2h0M2099.4 242.7h0M1797 609.2h0M1839 594.5h0M1732 304.3h0M1982.6 454.8h0M2298.3 227.8h0M1940 539.7h0M2143.4 376.6h0M1751 288.9h0M2028.3 163.8h0M1725.3 308.8h0M2215.8 247.1h0"/>
<path stroke="#fde725" d="M2203.6 157h0"/>
<path stroke="#25ac82" d="M1807.3 169.5h0M1756.4 571h0M2270.8 539.8h0M2140.6 618h0M1884.6 406.9h0M2051.7 229.1h0M1992.2 609.5h0M2005.3 272.4h0M1854 378.8h0M1807.1 537.6h0M1694.2 409.8h0M2039.9 196h0"/>
<path stroke="#dde318" d="M2191.4 159.1h0"/>
<path stroke="#5ac864" d="M2111.4 397.3h0M2008.6 469.1h0M2123.4 346.6h0M1923 474.6h0M1903.7 437.3h0M1755.5 380.3h0M2174.1 594.7h0M1787.3 372.5h0"/>
<path stroke="#21a585" d="M1789.8 476.2h0M2260.9 182.6h0M1766.1 558.4h0M1732.2 402.5h0M2041.3 210.6h0M1792.3 526.4h0M1819.1 521.1h0M1792 415.1h0M1818 519.6h0M1715.2 380.9h0M1969.7 578.3h0M1741.7 255.8h0M1726.8 215.5h0M2084.6 428.4h0M2220.4 226.5h0M1972.5 585.1h0M1874 472h0M1994.8 257.3h0M1807.6 509.9h0M1945.1 458.3h0M1978.2 252.6h0"/>
<path stroke="#3d4d8a" d="M2102.3 492.7h0M2334.2 381.6h0M1691.3 439.3h0M1765.8 192.5h0M2335.6 324.3h0M2170.8 410.5h0M1713.9 472.6h0M2351.9 379.8h0M1906.5 634.9h0M2104.5 497.1h0"/>
<path stroke="#482576" d="M1689.8 148.7h0M1846.7 432.2h0"/>
<path stroke="#34618d" d="M2111.9 200.2h0M2241.4 316h0M1873.4 571.5h0M2290.3 438.8h0M1879 550h0M2228.3 657.9h0M1864.6 619.4h0M1860.4 672h0M1880.6 222.3h0"/>
<path stroke="#472d7b" d="M1919.1 587.2h0M1933.7 304h0M1692 159.9h0"/>
<path stroke="#2b748e" d="M1971.2 142.8h0M1984.1 517.1h0M2002.9 505.6h0M2153.5 193.6h0M2071.6 127h0M2147.9 229.9h0M2231.1 122h0M1745.9 111.5h0M2282.7 410.3h0M1795.7 657.4h0M2086.2 120.4h0M1836.3 246.3h0M1918.9 111.2h0M1878.3 312.7h0M2315.7 197.8h0M1998.1 354.7h0M2012.7 145.1h0M2129.7 160.9h0M1926.7 185.2h0M1800.9 452.7h0M2303 201.8h0M1932.1 647.4h0M2326.4 126.2h0M1930.9 632.8h0"/>
<path stroke="#2db27d" d="M2083.2 247.4h0M1996.2 245.4h0M2005.1 613.5h0M2148.1 616.2h0M1856.5 389.7h0M1898.4 401.1h0M1936 409.9h0M1784.7 512.5h0M2061.7 279.6h0M1977.1 193.4h0M2163.6 580.7h0M1698 218.3h0M2034.8 278.3h0M1761.1 360.5h0"/>
<path stroke="#89d548" d="M1995.7 219.3h0M2054.7 591.6h0M2034.6 487.9h0M1832.7 165.2h0M2122.4 372.4h0M2043.1 263.1h0M1765.5 389.6h0"/>
<path stroke="#67cc5c" d="M2051.6 616.5h0M2051.3 584.5h0M1921.5 458.6h0"/>
<path stroke="#453581" d="M2193.2 426.1h0M1702.9 618.7h0M2320.8 480.7h0M1935.9 292.8h0"/>
<path stroke="#440154" d="M2163 449.9h0"/>
<path stroke="#31688e" d="M2321.1 431.9h0M1955.7 307.2h0M2106.2 106.2h0M2171.6 333.1h0M2000.9 399.6h0M2270 669.2h0M1894.4 281.7h0M2221.5 645.1h0M2324.9 161h0M2349.9 427.9h0M1816.3 119.7h0M2301.8 383.3h0M2347.4 421.6h0M2327.3 305.4h0M1873.5 131.4h0M1800.7 219.1h0M2275.2 134.5h0M2282.1 112.9h0M2053.1 334.7h0M2159.3 214.5h0M2311.9 390.8h0M1866.6 224.4h0M2274.1 654.7h0M1904.9 191.6h0M1711.4 106.9h0"/>
<path stroke="#bade28" d="M2001.3 202.7h0M2110.1 379.4h0"/>
<path stroke="#481467" d="M1844.5 443.4h0"/>
<path stroke="#77d153" d="M1915.5 380.4h0M2183.7 170.1h0"/>
<path stroke="#297b8e" d="M2236.7 544.9h0M2319.8 197.4h0M2102.9 591.1h0M2098.6 129.1h0M2310 132.1h0M2087.2 224h0M1939.5 184.3h0M1899.8 273.8h0M1792.9 190.4h0M1961.7 158.2h0M1705.6 540.3h0M1870.6 433.3h0M2278.3 397h0M2161.5 322.5h0M2241.1 549.5h0M1694.6 589.4h0M2128.7 478.4h0M2258.4 343h0M1945.3 576.2h0M2098.4 569h0M2233.4 424.4h0M1922 117.9h0M2153.8 366.1h0M2303.3 119.3h0M1947.5 587.5h0M2023.5 127.5h0M1719.4 491.9h0M2061.2 100.5h0M2261.4 349.9h0M1916.9 330h0M2056.9 122.5h0M2326.7 190.8h0"/>
<path stroke="#20938c" d="M1820.7 372.7h0M1726.3 371.1h0M1950.4 270.6h0M1822.3 604.4h0M1793.2 305.6h0M1970.6 399.2h0M1711.5 311.2h0M2114.2 666.1h0M1970.6 639.4h0M2125.5 445.4h0M1846.2 317.8h0M1827.6 370.9h0M2185.3 117.5h0M1953.1 451.6h0M1779.8 338h0M1836.8 504.2h0M2103.5 295.4h0M1840.8 501.2h0M1818.3 311.5h0M2251.4 170.5h0M1768.7 336.2h0M1969.4 627.1h0M1739.5 211.5h0M1813.6 352h0M1841.6 368.5h0M1966 671.2h0M1799.6 175.4h0M1788.9 308h0"/>
<path stroke="#2e6e8e" d="M2309.8 419.9h0M1690.7 102.7h0M2000.5 512.3h0M1740.2 196.7h0M2120.8 554.8h0M2162 204h0M2319.6 653h0M1984.5 140.1h0M2325.7 634.1h0M1690.9 595.4h0M2104.6 541.8h0M2342.9 636.4h0M2274 146.8h0M1736.5 478.5h0M2331.2 175.7h0M2021 647.7h0M1977.5 144.6h0M2254.6 638h0M2031.4 378.6h0M2305.4 664.2h0M2214.2 638.5h0M2211 474.2h0M2117.1 164.8h0M2178.4 392.8h0M1750.2 139.4h0M2077.9 185.3h0"/>
<path stroke="#3a538b" d="M2317.6 376.9h0M2291.7 447.9h0M2301 449.4h0M1945.6 290.1h0M2184.1 339.7h0M2341.1 390.1h0"/>
<path stroke="#40bd72" d="M2026.5 271.1h0M2056.8 621.4h0M2084.8 338.8h0M1697 403h0M2013.9 482.9h0M1787 569.4h0M2060.2 240h0M1764.3 260h0"/>
<path stroke="#1fa088" d="M1815.1 508.4h0M2080.4 430.8h0M2098.1 446.6h0M1779.4 289.2h0M1758 314.6h0M1808.1 186.3h0M1843 525.9h0M1955.9 386.1h0M1986.5 255.2h0M2281.6 611.8h0M1829.1 383.6h0M2224.6 369.5h0M1704.2 235.4h0M2125.7 257.5h0M2090.7 440.3h0M1854.2 576.4h0M1796.6 478.3h0M1974.3 186.7h0M1785.7 123.2h0M2140.8 598.7h0"/>
<path stroke="#4cc26c" d="M2182.5 587.7h0M2100.4 400.2h0M1753.2 398.3h0M2342.1 528.6h0M2192.4 593.7h0M2038.9 235.3h0M2262.4 595.2h0M2272.7 261.6h0"/>
<path stroke="#aadc32" d="M1902.9 359.9h0M1895.3 362.9h0M2094.7 345.7h0"/>
<path stroke="#228d8d" d="M1989.5 480.5h0M2169.4 270.9h0M2093.2 600.3h0M1951.7 644.2h0M1690 189.5h0M2165.9 273.2h0M2166.3 491.8h0M1862.7 325.4h0M1810.1 480.4h0M1839.6 268h0M1953 622.9h0M1798 423.6h0M2213.8 516.1h0M2263.8 525.4h0M1759.2 600.1h0M1784.9 324.7h0M1879.6 255.5h0M2232.2 412.1h0M2130.4 293.8h0M1735.4 348h0M1850.6 277.3h0M2198.6 249.4h0M1815.6 250.5h0M2142.7 282.9h0M2059.4 556.2h0M2230.1 513.6h0M2239.2 150.7h0M2219.7 503.1h0M2278.5 296.7h0M2093.3 236h0"/>
<path stroke="#375b8d" d="M1775.5 195.2h0M2037.9 660.7h0M2035.7 339.5h0M1893.7 545.4h0M2320 312.5h0M1725.7 650h0M1841.7 468.7h0M2169.8 225.1h0M1877.1 603.2h0M2318.8 443.1h0M2351.1 404.4h0M2014.7 662h0M1701.6 666.9h0M2311.8 311.8h0M2248.8 120.2h0"/>
<path stroke="#404588" d="M1695.6 612.4h0M1853.8 454h0M2339.1 499.5h0M1924.2 318.2h0M1835.1 464.9h0M2156.2 419.9h0M1750.5 171.5h0M2194.9 336.4h0M2322 495.3h0M1891.9 646.8h0"/>
<path stroke="#228d8d" d="M2093.5 605.4h0M2225.2 126.5h0M1941.4 134.4h0M1797.1 240.9h0M2212.3 524.7h0M1840.7 349.4h0M1959.8 191.3h0M2173.5 268.2h0M2123.9 238.6h0M1838.1 356.8h0M1737.1 268.8h0M2031.3 558.9h0M2202 507.3h0M1721.6 294.7h0M2119 643.6h0M2112 641.5h0M1822.8 365.9h0M2131.5 503.5h0M2088.4 640.6h0M1872 420.9h0M2109.9 461.7h0M2294.4 606.7h0M2116 672.7h0"/>
<path stroke="#67cc5c" d="M2126 370.3h0M2242.9 237.8h0M2284.2 246.1h0M2037 493.9h0M1901.5 347.7h0M2035 618.9h0M2053.7 614.7h0"/>
<path stroke="#297b8e" d="M1735.5 416.4h0M2062.5 545h0M2129.5 657.5h0M2101.3 558.5h0M1693.3 529.9h0M2030.3 644.8h0M1779.2 666.3h0M2156.3 239.2h0M2090 131.2h0M1986.8 376.8h0M2042.1 366.9h0M2295.3 101.1h0M2305.3 172.7h0M1944 561.7h0M2018.4 300.6h0M2300 204.2h0M2132.2 225.7h0M2033.8 297.3h0M2029.9 124.6h0M2252.8 458.4h0M1965.5 165.6h0M2001.5 123.5h0M2142 539.4h0M2200.2 398h0M1763.1 656.1h0M2047.8 299.4h0M2240.9 144.1h0M1689.9 553.9h0M1791.7 181.6h0M2052.2 426.7h0M1994.2 126.4h0"/>
<path stroke="#4cc26c" d="M1928.1 439.7h0M1787.5 259.8h0M2007.5 181.8h0M1758.5 235.8h0M1925.1 432.6h0M2278.8 587.3h0M1813.9 585.5h0M1895.6 438h0M1761.5 238.5h0M1793.8 567.1h0"/>
<path stroke="#98d83e" d="M2292.4 568.1h0M2082.3 378.1h0M2039.1 601.4h0M2041.7 254h0M2010.5 193h0"/>
<path stroke="#34618d" d="M2252.3 667.1h0M2016.6 338.1h0M2190.2 655.8h0M2076 481.1h0M2290.3 349h0M2235.6 656.4h0M2094 181.1h0M2096 476.3h0M1779.4 171.2h0"/>
<path stroke="#24878e" d="M1971.5 519.8h0M2153.2 311.6h0M2059.2 191.8h0M1829.9 136.1h0M2118.5 464.4h0M2342.5 259.6h0M1863 302.5h0M2036.7 152.9h0M2242.2 483.6h0M1976.4 366.3h0M2210 495.6h0M2146.1 337.4h0M1787.7 447.6h0M2190.4 279.5h0M2217 406.8h0M1813 616.3h0M1978 315.8h0"/>
<path stroke="#fde725" d="M2319.2 550.5h0"/>
<path stroke="#2db27d" d="M2105.5 421.6h0M1964.4 227.9h0M1992.4 241.3h0M2075.4 394.3h0M1758.7 264.6h0M2064.9 384.4h0M1967.4 216.7h0M2029.1 451.1h0M1957.1 241.9h0M2011.5 571.8h0M1950.9 515h0M2095.5 266.6h0M1772 482.5h0M2323 268.4h0M1989.4 598.6h0"/>
<path stroke="#1fa088" d="M2015.3 497.5h0M2283.9 218.9h0M2092.5 286.2h0M2080.9 329.9h0M1807.8 283h0M2016.9 166.9h0M1974 534.7h0M1882.5 516.3h0M1914.6 251h0M2103.2 672.4h0M2333.8 217.1h0M1747.5 509.7h0M2256.1 393.4h0M2226.9 609.7h0M2255 396.1h0M2252.5 174.5h0M2315.1 517h0M1955 553.6h0M2212.1 255.7h0M2049.6 222.3h0M2089.9 651.4h0M2143.9 631.9h0M1753.4 300.1h0M1883.1 430.4h0M2248.7 578.2h0M1811.3 147.8h0"/>
<path stroke="#481467" d="M2164 462.7h0"/>
<path stroke="#453581" d="M1716.1 143.5h0M1819.5 441h0"/>
<path stroke="#26818e" d="M2141.9 234.4h0M1709 187h0M2137.3 574.8h0M2051.5 108.7h0M1998.2 423h0M2110.6 626.8h0M2050.8 405.4h0M2056.2 449h0M1865.1 299.8h0M2246.1 351.4h0M2062.8 205.3h0M1864.2 463.9h0M2134.1 137.8h0M2069.8 545.7h0M2034.2 111h0M2258.2 493.9h0M1802.6 624.6h0M1889.4 245.1h0"/>
<path stroke="#25ac82" d="M1994.9 445.1h0M1989.8 546.3h0M1810.7 394.7h0M1960.6 258.9h0M1720.2 227.1h0M1714.4 222.5h0M1975.5 542.1h0M2020 626.5h0M2188.2 554.4h0M2028.5 504.3h0M1941.2 375.1h0M2113.1 427.6h0M1763.7 569.2h0M1739.4 566.8h0M2095.7 435.4h0M2069.2 281.4h0M1786.4 243.4h0M1936.9 356.1h0M1777.7 519h0"/>
<path stroke="#dde318" d="M2212.6 148.2h0M2300.1 557.4h0"/>
<path stroke="#5ac864" d="M2042.5 237.7h0M2019.8 250.2h0"/>
<path stroke="#2e6e8e" d="M1911.8 229.5h0M1814.2 664.6h0M2314.8 617.6h0M2160.7 650.1h0M2337.4 177.9h0M1843.6 647.9h0M2066 531.5h0M2353.9 641.2h0M2211.9 632.5h0M2145.5 197.4h0M2122 569.3h0M2324.7 657.6h0M2296.8 671.1h0M2189.2 636.7h0M2329.4 622.5h0M1799.8 670.5h0M2010.4 648.7h0M2313.6 668h0M1975.3 155.8h0M1688 99h0M2149.5 201.9h0M2217.9 353h0M2218.9 293.5h0M2191.6 238.2h0"/>
<path stroke="#2b748e" d="M2293 309.4h0M1894.6 183.3h0M2204.8 106.6h0M2332.3 611.2h0M1996.7 138h0M1835.8 622.8h0M1900.7 165.9h0M2035 429.1h0M2291.1 103.3h0M2120.9 528.7h0M2014.9 421.8h0M2135.1 466.5h0M2145 550.6h0M1755 626.1h0M1827 650.3h0M2012.9 522.2h0M2038.5 364.5h0M2077.1 538.5h0M2079.4 173.7h0M2256.3 313.4h0M2295.9 413.1h0M1934.6 623.2h0M2240.3 441.5h0"/>
<path stroke="#77d153" d="M2061 593.1h0M2331.4 531.2h0M2040.5 474.9h0M2308.2 263.6h0"/>
<path stroke="#40bd72" d="M1690.3 386.7h0M1849.8 175h0M2111.3 331.2h0M2296.1 280.3h0M2279.7 232h0M2177.6 147.1h0M1751.8 230.9h0M2065.1 582h0M2088.2 398.2h0M2185.5 576.5h0M2319.2 524.4h0"/>
<path stroke="#bade28" d="M2115.4 357.4h0M2104.4 344.2h0"/>
<path stroke="#3a538b" d="M1835.4 123.9h0M1886 113.6h0M1925.4 597.7h0M2346.8 156.2h0M2352.1 457.1h0M1737.8 150.4h0M1707.1 475h0M1737.3 610.1h0M1816.8 460.2h0M1733.2 610.7h0M1693.1 658.8h0M1703.8 433h0M2078.8 509.8h0M2307.2 366.1h0"/>
<path stroke="#31688e" d="M2014 367.9h0M1879.4 209.3h0M2115.5 493.5h0M2319.4 147.4h0M2192.2 360.6h0M2278.7 110.2h0M2113.7 167.2h0M2303.2 639.5h0M2181.6 481.9h0M2021.6 386.8h0M1891.3 150.2h0M1805.6 232.7h0M1736.4 596h0M1748.1 623.8h0M2089.7 194.4h0M2179.4 210.3h0M1809.1 431.6h0M1928.6 608.1h0M1736.2 102.2h0M2174.4 361.9h0"/>
<path stroke="#375b8d" d="M2262.5 102.4h0M2192.3 476.7h0M1897.4 215.9h0M1829.5 216.2h0M1914.9 627.9h0M2327.2 387.7h0M2325.7 444.9h0M2253.1 117.8h0M2232.6 334.7h0M1708.9 663h0M1888.9 124.8h0M2196.9 302.3h0"/>
<path stroke="#aadc32" d="M1908.8 373.3h0M2350.7 535.4h0"/>
<path stroke="#482576" d="M1688.9 633.1h0"/>
<path stroke="#20938c" d="M2107.5 309.9h0M1856.2 529.3h0M2007.1 543.9h0M2282.5 292.1h0M1818.5 193.5h0M1914.3 534.4h0M2145.7 394.5h0M2233.5 273.7h0M1704.6 364.7h0M1806.2 352.5h0M1935.5 163.5h0M2247.1 275.8h0M2138.7 340.3h0M1745.5 276.5h0M1942.7 146.7h0M1958.4 659.5h0M2062.9 645.4h0M2199.8 518.5h0M2052.9 506.7h0M1860 505.4h0M2055.3 642.7h0M1860.1 533.7h0M1959.6 650.4h0M1962 657.1h0M1961.2 346.8h0M1734.4 409.2h0M2213.3 394h0M1837.2 292.3h0M1953.5 468.6h0M2065.3 409.1h0M2171.4 530.1h0M2114.6 289h0"/>
<path stroke="#89d548" d="M2286.1 559.8h0M2288.3 256.7h0M2197.3 134.9h0"/>
<path stroke="#440154" d="M2181.9 432.1h0M1905.5 568.3h0"/>
<path stroke="#1f998a" d="M1733.9 334.1h0M1861.2 493h0M2135.7 329.1h0M1785.2 302.8h0M2269.8 176.6h0M1723.5 323.4h0M1964.9 424.8h0M1737.6 526.7h0M1940.2 342.6h0M2158.3 499h0M1783.8 613.1h0M1910.9 262.9h0M2209.9 539h0M2165.3 165.4h0M1750.1 329.8h0M1995.9 622.3h0M1830.5 401.5h0M2069.4 416.5h0M2047 563.1h0M2212.8 550.2h0M2079 291.1h0"/>
<path stroke="#472d7b" d="M1904.1 555.9h0M1903.2 593h0M1708.8 146.3h0"/>
<path stroke="#35b779" d="M1984.3 562.3h0M1953.3 246h0M2084.4 274.2h0M2262.1 608h0M1934.1 465.4h0M2321 262.1h0M1771 271.7h0M1845.3 572.5h0M1814.4 172.9h0M2068.4 240.7h0M2001.7 579.3h0M2266.7 582.4h0"/>
<path stroke="#433d84" d="M2340.5 475.9h0M2301.9 462.4h0M1690.2 647.6h0M1883.1 563.1h0M1871.4 106.8h0"/>
<path stroke="#21a585" d="M1961.1 214.8h0M2002.7 620.2h0M1730.7 244.9h0M2136.5 395.2h0M1764.9 554.6h0M2035.6 170.4h0M1740.8 317h0M1948.1 487.5h0M1702.7 231.3h0M2137.6 624.7h0M1868 404.6h0M1759.2 483.3h0M1955 525.8h0M1855.1 371.7h0M2023.7 281.9h0M1751.1 507.6h0M2077.9 283.8h0M2205.3 605.5h0M2309.6 287.1h0M2325.9 257.2h0M1861 357.9h0M2023.4 566.4h0"/>
<path stroke="#404588" d="M1713.6 131.6h0M1721.1 166.1h0M2159.9 471h0M1715.9 640.2h0"/>
<path stroke="#3d4d8a" d="M2314.3 352.7h0M1906.9 652.2h0M2188.6 321.5h0M2226 319.1h0M2339.2 346.4h0M2312.9 340.3h0M1930.5 566.2h0M1896.1 609.8h0"/>
<path stroke="#453581" d="M1850.8 429.3h0M1822.3 434.3h0"/>
<path stroke="#35b779" d="M1969.6 223h0M1929.1 350h0M2259.9 260.7h0M2317.5 247.9h0M2076.9 603.1h0M2032.6 453.8h0M1971.8 229.7h0M1864 382.5h0M1996.1 452.2h0M2154.4 604.6h0"/>
<path stroke="#aadc32" d="M2217.4 173.9h0"/>
<path stroke="#3a538b" d="M1743.6 154.8h0M1908.4 208.8h0M2015.9 665.7h0M2184.3 408.1h0M1881.5 118.5h0M2330 384h0M1707.6 654.2h0M2077.3 495.6h0M1718 172h0M2101.4 511.8h0M1816 223.3h0"/>
<path stroke="#dde318" d="M2108.6 374.5h0M2321.6 539.3h0"/>
<path stroke="#34618d" d="M1854.5 128.8h0M1727.7 180.7h0M2345.2 130.4h0M2192.7 228.6h0M1704.8 481.8h0M1814.1 108.5h0M2100.8 203.2h0M2275 475.6h0M2254.4 141.4h0M1890.2 137.2h0M1863.4 642.9h0M2227.4 101.9h0M1841.1 415.5h0M2328.6 401.9h0M2291.4 361.4h0M2043.3 345.6h0M1720.4 424.2h0M2146.8 664.4h0M2126.5 190.5h0M1905.3 129.3h0M2019.4 331.4h0"/>
<path stroke="#472d7b" d="M2180.6 417.5h0"/>
<path stroke="#3d4d8a" d="M2178.6 475.2h0M2302.5 330.9h0M1880.7 624.2h0M1734.9 161.6h0M2350.3 338.2h0M1926.1 284.1h0M2326.3 369.8h0M2319 317.5h0M1738.8 467.3h0M2186.4 328.5h0M1697.6 124.8h0M2349.1 350.6h0"/>
<path stroke="#20938c" d="M1963.2 606.6h0M2133.7 514.7h0M1832.3 273.1h0M2183.9 510.6h0M1830.3 324.2h0M2162.2 557.1h0M2169.1 138.3h0M1840.9 282.6h0M2080.8 233.1h0M2186.3 517.3h0M1691.1 362h0M1802.5 305.1h0M2287.7 212.6h0M1964.6 614h0M2128.3 609.4h0M1979.6 430.2h0M1804.9 140.3h0M2193.3 272h0M1858.6 500.2h0M2172.9 501.3h0M1712.4 316.3h0M2165.2 532.5h0M2290.8 608.8h0M2141.4 261.6h0M1784.1 425.6h0M2351.7 576.8h0M2206.1 522.3h0M2144.4 254.9h0M1759.4 106.4h0M1988.5 431.8h0M1734.2 293.1h0M2056.6 216h0M2191.9 267.1h0M1780.4 615.8h0"/>
<path stroke="#375b8d" d="M1838.6 225.3h0M2344.3 310.1h0M2231.9 671.3h0M1869.1 615h0M1916 201.4h0M1892.6 126.7h0M1865.5 640.8h0M2298.7 358.6h0M1942.6 317.9h0M1762.6 159.5h0M1733.2 423.8h0"/>
<path stroke="#440154" d="M2173.3 439.2h0M2176.2 445.9h0M2158.9 448h0"/>
<path stroke="#40bd72" d="M1882.2 395.7h0M2024.2 182.9h0M1889.6 453h0M1988.9 234.2h0"/>
<path stroke="#31688e" d="M2008.5 372h0M1764.8 152.8h0M1859.3 655.7h0M2114.1 171.1h0M2137.9 454.7h0M1736.1 658.2h0M2125.1 211.9h0M2070.4 502.2h0M2195.7 217.4h0M1880.4 133.5h0M1853.3 625.1h0M2090.4 472.2h0M1738.3 647h0M1851.2 232.1h0M1761.9 435.5h0M2321.8 154.1h0M2340.1 436.1h0M2225.3 646.7h0M2271.7 661.4h0M2113.5 507.7h0"/>
<path stroke="#2b748e" d="M1986.9 132.7h0M1834.7 644.1h0M2099.7 123.1h0M2270.7 332.6h0M2137.4 221.6h0M2341.5 648.8h0M1920.5 141.5h0M1874.6 194.8h0M2311.4 144.4h0M2173.5 241.6h0M1692.1 547.2h0M2163.8 383.7h0M1732.3 588.8h0M1852.2 199.7h0M2223 453.1h0M2339.9 607.3h0M2162.6 324.3h0M2286.7 386h0M1750.7 665.4h0M2115.9 116.6h0M2130.6 670.3h0M1867 577.5h0M1934.8 218h0"/>
<path stroke="#1f998a" d="M1887.5 334.2h0M1827.1 191.1h0M1823.6 499.1h0M1814.8 405.8h0M2138.6 510.1h0M2306.7 229.9h0M1879.8 442.1h0M2330.4 581.6h0M2222.5 560.6h0M2124.1 436.3h0M1731.1 327.4h0M1762.4 345.9h0M1846 523.5h0M2332 270.2h0M2171.8 504h0M1972 275.4h0M1868.5 166.6h0M1971.6 615.9h0M2346.1 207.3h0M1956.9 438.9h0M2159.9 567.6h0M2046.8 193.9h0"/>
<path stroke="#482576" d="M1741.8 442.6h0M2195.4 450.7h0M1739.8 444.4h0"/>
<path stroke="#481467" d="M1896.2 580.2h0"/>
<path stroke="#2db27d" d="M1901.2 412.3h0M2041.2 572.7h0M1889.9 514.2h0M2241.5 391.1h0M1796 596.2h0M1971 563.8h0M1832.9 532.3h0M1789.6 361.3h0M2024.8 500.5h0M2097.9 259.9h0M1740.7 394.4h0"/>
<path stroke="#433d84" d="M1716.9 616.6h0M2333.2 491.1h0M1881.7 575.4h0M2201.8 338.5h0M1724.5 151.1h0M2336.7 493.2h0M1901 295.2h0M2197.9 325.2h0"/>
<path stroke="#24878e" d="M2349.3 583.5h0M1689.5 320.5h0M1896.8 244.7h0M1696.8 303.8h0M2149.6 639.8h0M2122.7 655.2h0M1716.3 520.5h0M1950.6 611.7h0M2354 99h0M1869.3 274h0M1937.7 224.7h0M2267.5 516h0M2096.3 593.7h0M1970.4 298.9h0M2247.9 520.2h0M1972.5 485.1h0M1706 343.4h0M2227.8 281.5h0M1946 666.4h0"/>
<path stroke="#228d8d" d="M2151.7 252.2h0M2280.8 174.8h0M2197.7 511.9h0M1928.8 159.7h0M1831.1 491.7h0M2332.6 588.3h0M2245.1 509h0M1981.2 173.2h0M1719.1 534.1h0M1966.5 121.9h0M2219.6 531.4h0M1860.9 411.7h0M1957 609h0M2059.1 649.8h0M1788.6 322h0M2150.3 381.1h0M2012.8 548.2h0M1983.4 639h0M1862 272.1h0M1900.5 532h0M1980.3 112h0M2156.9 265.8h0M1746 586.2h0M2140.2 276.9h0M2088.1 300h0M2350.1 275h0"/>
<path stroke="#98d83e" d="M2237.5 215.3h0"/>
<path stroke="#481c6e" d="M1828.1 448.2h0M1912.9 584.8h0"/>
<path stroke="#bade28" d="M2216.4 168.8h0M2100.3 382.3h0M2293.8 555.8h0"/>
<path stroke="#4cc26c" d="M2259.3 597.9h0M2170 589.5h0M1756.7 374.1h0M1926 481.4h0M2018.2 583.4h0M2064.6 244.8h0M2352.9 564.5h0M2260.3 601.7h0M2066.8 269.4h0M2054.1 273.5h0M2030.1 205.8h0M2293.9 528.1h0"/>
<path stroke="#77d153" d="M2257.1 211.1h0M2025.6 595.5h0M2021 462.1h0M1910 496.1h0M1820.2 570.1h0M2025.3 608.5h0"/>
<path stroke="#404588" d="M1907.6 316.1h0M2316.3 459.8h0M2331.6 333.5h0M1744.2 431.3h0M1733.8 162.3h0"/>
<path stroke="#5ac864" d="M1785 399.8h0M1837.3 177.1h0M2266.1 246.9h0M1768.1 242.5h0M1850.2 170h0M2254.8 199.1h0M2044.7 472.8h0M1800.4 581.3h0M1804.8 562.3h0"/>
<path stroke="#2e6e8e" d="M1819.7 208.1h0M2053.5 532.2h0M1938.3 601.8h0M2121.5 214h0M2217.6 111.6h0M2026.3 422h0M1820.5 472.9h0M2117.8 216.9h0M2187.5 296.5h0M2333.6 620.1h0M2346 629.3h0M1911.6 107.3h0M2056 323.5h0M2134 559.8h0M2187.3 396.9h0M1999.3 503.2h0M2253.9 327.7h0M2312.1 652.3h0M2334.8 643.6h0M1719.7 591.5h0M1833.5 412.7h0"/>
<path stroke="#1fa088" d="M1791.2 543.7h0M1959.5 388.2h0M2037.5 284.3h0M1808.7 494.9h0M2245.6 172.4h0M1797.9 355.1h0M2172.3 182.1h0M1770.5 116.2h0M1749.9 516.4h0M1991.7 268.6h0M1738.7 305.9h0M2257 573.2h0M1744.1 262.6h0M2019.2 564.4h0M2229.2 400.9h0M2198.2 120.7h0M2045.5 208.5h0M1752.3 274.3h0M1776 548.3h0M1745 365.2h0M1760.7 540.8h0M1991.9 438.3h0M2083.9 583.9h0M1860.6 178.3h0M1818.9 144.8h0"/>
<path stroke="#67cc5c" d="M2298.5 272.9h0M2242 194.1h0M1920.3 518h0M2228.5 183.2h0M1816.2 578.7h0M2184.7 175.2h0M1984.7 197.2h0M1891.9 387.6h0M2265.6 218.1h0M1772.2 367.6h0"/>
<path stroke="#89d548" d="M2118.4 382h0M1767.7 382.2h0M2251.2 231.7h0"/>
<path stroke="#297b8e" d="M2127.5 149.7h0M2311 207.8h0M1696 515.7h0M1866.3 457.2h0M2176.1 633.5h0M2123.2 499.5h0M1869.1 428h0M1794.2 633.9h0M1957.9 282.5h0M2067.3 114h0M2063.5 327.3h0M1772.9 662.2h0M2302.1 142.9h0M2106.3 605.2h0M1840 608.6h0M1978.8 132.3h0M2161.9 641.9h0M2041 133.8h0"/>
<path stroke="#26818e" d="M1913.2 172.2h0M2057.6 448.3h0M2251.2 536.6h0M2042.2 107.1h0M1982.7 377.5h0M1712.6 520.8h0M2065.9 162.1h0M1699.6 560.9h0M1697.5 582.7h0M2055.9 513.4h0M2297.9 165.5h0M2040.3 393.7h0M1691.4 267.2h0M2022.2 148.9h0M1700.9 575.5h0M2261.6 500.8h0M2231.5 463.2h0M1778.2 627h0M2121.8 128.2h0"/>
<path stroke="#25ac82" d="M1948.4 530.5h0M2268.3 271.6h0M1943.6 397.1h0M1695.8 225h0M2109.1 440.6h0M2079.6 586.3h0M2225.8 387.4h0M2313.9 585.6h0M2106.8 433.9h0M1869.7 350.7h0M1881.3 459.1h0M1845.8 393h0M1808.6 539.5h0"/>
<path stroke="#21a585" d="M2237 258.7h0M2131.3 333.7h0M1707 375.9h0M1949.9 489.3h0M1811.1 524h0M2323.2 241.2h0M1904.4 527.7h0M1947.4 232.1h0M1772.4 601h0M2073.5 573.2h0M1872.2 343.6h0M2058.2 568.5h0M2036.6 174.3h0M2163.2 620.5h0M2191.2 543.2h0M2231.3 580h0M2007.8 278.5h0M2352.5 223.7h0M1982.4 248.1h0M1763.3 279.1h0M2305.9 287.9h0"/>
</g>
<rect class="s" x="1655.5" y="70.5" width="732.0" height="632.0"/>
</g>
<rect x="2499.5" y="70.5" width="31" height="632.0" fill="url(#cb)" stroke="#ccc" stroke-width="3"/>
<text transform="translate(299.90 54.00) scale(1.0534 1)" font-size="46.58">True underlying GP</text>
<text transform="translate(965.00 54.00) scale(1.0737 1)" font-size="46.58">Std. dev. of the inferred GP</text>
<text transform="translate(1756.15 54.00) scale(1.0647 1)" font-size="46.58">Mean of the inferred GP</text>
<text transform="translate(138.11 742.90) scale(1.2129 1)" font-size="41.38">−</text>
<text transform="translate(170.15 741.70) scale(1.0328 1)" font-size="41.38">10</text>
<text transform="translate(317.38 742.90) scale(1.2170 1)" font-size="41.24">−</text>
<text transform="translate(349.82 741.70) scale(0.9365 1)" font-size="41.24">5</text>
<text transform="translate(499.86 741.70) scale(0.9918 1)" font-size="41.38">0</text>
<text transform="translate(667.08 741.70) scale(0.9365 1)" font-size="41.24">5</text>
<text transform="translate(819.78 741.70) scale(1.0328 1)" font-size="41.38">10</text>
<text transform="translate(893.11 742.90) scale(1.2129 1)" font-size="41.38">−</text>
<text transform="translate(925.15 741.70) scale(1.0328 1)" font-size="41.38">10</text>
<text transform="translate(1072.38 742.90) scale(1.2170 1)" font-size="41.24">−</text>
<text transform="translate(1104.82 741.70) scale(0.9365 1)" font-size="41.24">5</text>
<text transform="translate(1254.86 741.70) scale(0.9918 1)" font-size="41.38">0</text>
<text transform="translate(1422.08 741.70) scale(0.9365 1)" font-size="41.24">5</text>
<text transform="translate(1574.78 741.70) scale(1.0328 1)" font-size="41.38">10</text>
<text transform="translate(1648.11 742.90) scale(1.2129 1)" font-size="41.38">−</text>
<text transform="translate(1680.15 741.70) scale(1.0328 1)" font-size="41.38">10</text>
<text transform="translate(1827.38 742.90) scale(1.2170 1)" font-size="41.24">−</text>
<text transform="translate(1859.82 741.70) scale(0.9365 1)" font-size="41.24">5</text>
<text transform="translate(2009.86 741.70) scale(0.9918 1)" font-size="41.38">0</text>
<text transform="translate(2177.08 741.70) scale(0.9365 1)" font-size="41.24">5</text>
<text transform="translate(2329.78 741.70) scale(1.0328 1)" font-size="41.38">10</text>
<text transform="translate(54.32 689.30) scale(1.2129 1)" font-size="41.38">−</text>
<text transform="translate(86.36 688.10) scale(1.0328 1)" font-size="41.38">10</text>
<text transform="translate(79.88 545.80) scale(1.2170 1)" font-size="41.24">−</text>
<text transform="translate(112.31 544.60) scale(0.9365 1)" font-size="41.24">5</text>
<text transform="translate(110.96 401.10) scale(0.9918 1)" font-size="41.38">0</text>
<text transform="translate(112.31 257.60) scale(0.9365 1)" font-size="41.24">5</text>
<text transform="translate(86.36 114.10) scale(1.0328 1)" font-size="41.38">10</text>
<text transform="translate(2540.57 177.60) scale(0.9559 1)" font-size="41.38">2</text>
<text transform="translate(2541.04 297.30) scale(0.9464 1)" font-size="41.24">1</text>
<text transform="translate(2540.62 417.00) scale(0.9918 1)" font-size="41.38">0</text>
<text transform="translate(2541.31 537.90) scale(1.2170 1)" font-size="41.24">−</text>
<text transform="translate(2573.63 536.70) scale(0.9464 1)" font-size="41.24">1</text>
<text transform="translate(2541.31 657.60) scale(1.2129 1)" font-size="41.38">−</text>
<text transform="translate(2573.16 656.40) scale(0.9559 1)" font-size="41.38">2</text>
<text transform="translate(492.17 794.90) scale(0.9886 1)" font-size="44.74" font-style="italic">x</text>
<text transform="translate(515.73 799.00) scale(1.0992 1)" font-size="28.96">0</text>
<text transform="translate(1247.17 794.90) scale(0.9886 1)" font-size="44.74" font-style="italic">x</text>
<text transform="translate(1270.73 799.00) scale(1.0992 1)" font-size="28.96">0</text>
<text transform="translate(2002.67 794.90) scale(0.9886 1)" font-size="44.74" font-style="italic">x</text>
<text transform="translate(2026.23 799.00) scale(1.0992 1)" font-size="28.96">0</text>
<text transform="translate(23.28 377.00) scale(0.9925 1)" font-size="44.74" font-style="italic">x</text>
<text transform="translate(46.95 383.00) scale(1.0031 1)" font-size="29.96">1</text>
</svg>
</body></html>
